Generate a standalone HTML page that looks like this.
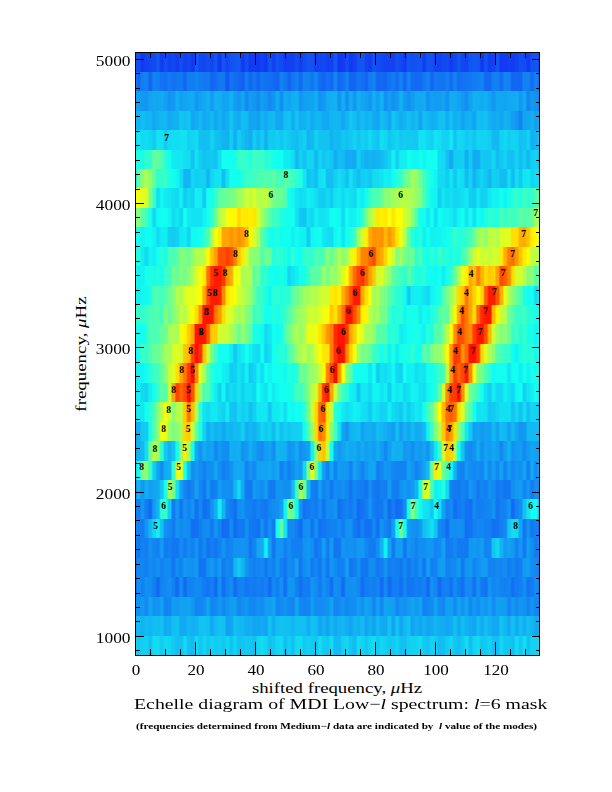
<!DOCTYPE html>
<html><head><meta charset="utf-8"><style>
html,body{margin:0;padding:0;background:#fff;}
body{width:612px;height:792px;position:relative;overflow:hidden;font-family:"Liberation Serif",serif;color:#000;}
#plot{position:absolute;left:135.75px;top:52.30px;width:404.25px;height:602.70px;overflow:hidden;background:#20b8ff;}
#hm{position:absolute;left:0;top:0;width:100%;height:100%;filter:blur(0.5px);}
.r{position:absolute;left:0;width:100%;}
.lb{position:absolute;font-family:"Liberation Serif",serif;font-weight:bold;font-size:9.5px;line-height:11px;color:#000;}
#frame{position:absolute;left:135px;top:52px;width:405px;height:604px;border:1px solid #000;box-sizing:border-box;}
.tk{position:absolute;background:#000;}
.yl{position:absolute;left:0px;width:130.5px;text-align:right;font-size:14.6px;line-height:16px;transform:scaleX(1.19);transform-origin:130.5px 0;}
.xl{position:absolute;top:663px;width:60px;text-align:center;font-size:14px;line-height:16px;transform:scaleX(1.22);}
#ylab{position:absolute;left:82px;top:353.8px;transform:translate(-50%,-50%) rotate(-90deg) scaleX(1.35);white-space:nowrap;font-size:14px;line-height:16px;}
#xlab{position:absolute;left:337.3px;top:680.5px;transform:translateX(-50%) scaleX(1.34);white-space:nowrap;font-size:14px;line-height:16px;}
#title{position:absolute;left:134px;top:695.8px;white-space:nowrap;font-size:15px;line-height:17px;transform:scaleX(1.32);transform-origin:0 0;}
#sub{position:absolute;left:135.7px;top:721px;white-space:nowrap;font-size:9px;line-height:11px;font-weight:bold;transform:scaleX(1.24);transform-origin:0 0;}
</style></head><body>
<div id="plot"><div id="hm">
<div class="r" style="top:0.00px;height:20.04px;background:linear-gradient(90deg,#1251f2 0.00%,#1251f2 -0.04%,#124df2 0.41%,#124df2 0.92%,#1239f2 1.36%,#1239f2 1.87%,#1242f2 2.32%,#1242f2 2.83%,#1246f2 3.27%,#1246f2 3.78%,#1249f2 4.23%,#1249f2 4.74%,#1258f2 5.18%,#1258f2 5.69%,#123bf2 6.14%,#123bf2 6.65%,#124df2 7.09%,#124df2 7.60%,#1243f2 8.05%,#1243f2 8.56%,#1247f2 9.00%,#1247f2 9.51%,#123df2 9.96%,#123df2 10.47%,#124df2 10.91%,#124df2 11.42%,#123ef2 11.87%,#123ef2 12.38%,#1246f2 12.82%,#1246f2 13.33%,#1237f2 13.78%,#1237f2 14.29%,#1258f2 14.73%,#1258f2 15.24%,#1247f2 15.69%,#1247f2 16.20%,#1246f2 16.64%,#1246f2 17.15%,#124ff2 17.60%,#124ff2 18.11%,#1244f2 18.55%,#1244f2 19.06%,#1255f2 19.51%,#1255f2 20.01%,#1237f2 20.46%,#1237f2 20.97%,#1253f2 21.41%,#1253f2 21.92%,#1246f2 22.37%,#1246f2 22.88%,#1252f2 23.32%,#1252f2 23.83%,#1257f2 24.28%,#1257f2 24.79%,#1258f2 25.23%,#1258f2 25.74%,#123cf2 26.19%,#123cf2 26.70%,#124ef2 27.14%,#124ef2 27.65%,#123af2 28.10%,#123af2 28.61%,#123cf2 29.05%,#123cf2 29.56%,#1239f2 30.01%,#1239f2 30.52%,#1241f2 30.96%,#1241f2 31.47%,#1237f2 31.92%,#1237f2 32.43%,#1254f2 32.87%,#1254f2 33.38%,#1240f2 33.83%,#1240f2 34.34%,#1251f2 34.78%,#1251f2 35.29%,#1249f2 35.74%,#1249f2 36.25%,#123df2 36.69%,#123df2 37.20%,#1240f2 37.65%,#1240f2 38.16%,#1241f2 38.60%,#1241f2 39.11%,#124df2 39.56%,#124df2 40.07%,#123ef2 40.51%,#123ef2 41.02%,#124cf2 41.47%,#124cf2 41.98%,#1255f2 42.42%,#1255f2 42.93%,#1254f2 43.38%,#1254f2 43.89%,#1240f2 44.33%,#1240f2 44.84%,#1246f2 45.29%,#1246f2 45.80%,#1247f2 46.24%,#1247f2 46.75%,#1240f2 47.20%,#1240f2 47.71%,#1241f2 48.15%,#1241f2 48.66%,#1258f2 49.11%,#1258f2 49.62%,#1236f2 50.06%,#1236f2 50.57%,#123bf2 51.02%,#123bf2 51.53%,#124df2 51.97%,#124df2 52.48%,#1239f2 52.93%,#1239f2 53.43%,#1240f2 53.88%,#1240f2 54.39%,#1252f2 54.83%,#1252f2 55.34%,#1256f2 55.79%,#1256f2 56.30%,#1243f2 56.74%,#1243f2 57.25%,#123df2 57.70%,#123df2 58.21%,#1255f2 58.65%,#1255f2 59.16%,#124cf2 59.61%,#124cf2 60.12%,#1248f2 60.56%,#1248f2 61.07%,#1242f2 61.52%,#1242f2 62.03%,#1242f2 62.47%,#1242f2 62.98%,#1240f2 63.43%,#1240f2 63.94%,#1251f2 64.38%,#1251f2 64.89%,#1247f2 65.34%,#1247f2 65.85%,#123df2 66.29%,#123df2 66.80%,#1254f2 67.25%,#1254f2 67.76%,#1250f2 68.20%,#1250f2 68.71%,#1254f2 69.16%,#1254f2 69.67%,#1256f2 70.11%,#1256f2 70.62%,#123ef2 71.07%,#123ef2 71.58%,#1255f2 72.02%,#1255f2 72.53%,#1251f2 72.98%,#1251f2 73.49%,#1244f2 73.93%,#1244f2 74.44%,#1241f2 74.89%,#1241f2 75.40%,#124af2 75.84%,#124af2 76.35%,#124bf2 76.80%,#124bf2 77.31%,#123cf2 77.75%,#123cf2 78.26%,#1247f2 78.71%,#1247f2 79.22%,#1257f2 79.66%,#1257f2 80.17%,#1246f2 80.62%,#1246f2 81.13%,#1244f2 81.57%,#1244f2 82.08%,#1256f2 82.53%,#1256f2 83.04%,#1258f2 83.48%,#1258f2 83.99%,#1257f2 84.44%,#1257f2 84.94%,#1238f2 85.39%,#1238f2 85.90%,#1254f2 86.35%,#1254f2 86.85%,#123df2 87.30%,#123df2 87.81%,#1242f2 88.25%,#1242f2 88.76%,#1255f2 89.21%,#1255f2 89.72%,#1239f2 90.16%,#1239f2 90.67%,#123bf2 91.12%,#123bf2 91.63%,#123ff2 92.07%,#123ff2 92.58%,#123df2 93.03%,#123df2 93.54%,#1242f2 93.98%,#1242f2 94.49%,#124ff2 94.94%,#124ff2 95.45%,#124cf2 95.89%,#124cf2 96.40%,#123cf2 96.85%,#123cf2 97.36%,#1251f2 97.80%,#1251f2 98.31%,#1256f2 98.76%,#1256f2 99.27%,#124bf2 99.71%,#124bf2 100.00%)"></div>
<div class="r" style="top:19.44px;height:20.04px;background:linear-gradient(90deg,#1280f2 0.00%,#1280f2 -0.04%,#1266f2 0.41%,#1266f2 0.92%,#127ef2 1.36%,#127ef2 1.87%,#1282f2 2.32%,#1282f2 2.83%,#1267f2 3.27%,#1267f2 3.78%,#1283f2 4.23%,#1283f2 4.74%,#127ff2 5.18%,#127ff2 5.69%,#1272f2 6.14%,#1272f2 6.65%,#1271f2 7.09%,#1271f2 7.60%,#127af2 8.05%,#127af2 8.56%,#1272f2 9.00%,#1272f2 9.51%,#1278f2 9.96%,#1278f2 10.47%,#1279f2 10.91%,#1279f2 11.42%,#1266f2 11.87%,#1266f2 12.38%,#127ef2 12.82%,#127ef2 13.33%,#127df2 13.78%,#127df2 14.29%,#1284f2 14.73%,#1284f2 15.24%,#127df2 15.69%,#127df2 16.20%,#1279f2 16.64%,#1279f2 17.15%,#1279f2 17.60%,#1279f2 18.11%,#1264f2 18.55%,#1264f2 19.06%,#126df2 19.51%,#126df2 20.01%,#1279f2 20.46%,#1279f2 20.97%,#1278f2 21.41%,#1278f2 21.92%,#1257f2 22.37%,#1257f2 22.88%,#1274f2 23.32%,#1274f2 23.83%,#126df2 24.28%,#126df2 24.79%,#1267f2 25.23%,#1267f2 25.74%,#1260f2 26.19%,#1260f2 26.70%,#127bf2 27.14%,#127bf2 27.65%,#1268f2 28.10%,#1268f2 28.61%,#1276f2 29.05%,#1276f2 29.56%,#1266f2 30.01%,#1266f2 30.52%,#1277f2 30.96%,#1277f2 31.47%,#1272f2 31.92%,#1272f2 32.43%,#126ff2 32.87%,#126ff2 33.38%,#126af2 33.83%,#126af2 34.34%,#1265f2 34.78%,#1265f2 35.29%,#1282f2 35.74%,#1282f2 36.25%,#1279f2 36.69%,#1279f2 37.20%,#1264f2 37.65%,#1264f2 38.16%,#1278f2 38.60%,#1278f2 39.11%,#127ff2 39.56%,#127ff2 40.07%,#126bf2 40.51%,#126bf2 41.02%,#1284f2 41.47%,#1284f2 41.98%,#1281f2 42.42%,#1281f2 42.93%,#1277f2 43.38%,#1277f2 43.89%,#1286f2 44.33%,#1286f2 44.84%,#126cf2 45.29%,#126cf2 45.80%,#1265f2 46.24%,#1265f2 46.75%,#1271f2 47.20%,#1271f2 47.71%,#126af2 48.15%,#126af2 48.66%,#1285f2 49.11%,#1285f2 49.62%,#1268f2 50.06%,#1268f2 50.57%,#1270f2 51.02%,#1270f2 51.53%,#1282f2 51.97%,#1282f2 52.48%,#1265f2 52.93%,#1265f2 53.43%,#1267f2 53.88%,#1267f2 54.39%,#1276f2 54.83%,#1276f2 55.34%,#1270f2 55.79%,#1270f2 56.30%,#1265f2 56.74%,#1265f2 57.25%,#127bf2 57.70%,#127bf2 58.21%,#1281f2 58.65%,#1281f2 59.16%,#1266f2 59.61%,#1266f2 60.12%,#1268f2 60.56%,#1268f2 61.07%,#1268f2 61.52%,#1268f2 62.03%,#1274f2 62.47%,#1274f2 62.98%,#127bf2 63.43%,#127bf2 63.94%,#126df2 64.38%,#126df2 64.89%,#1281f2 65.34%,#1281f2 65.85%,#1267f2 66.29%,#1267f2 66.80%,#1283f2 67.25%,#1283f2 67.76%,#126cf2 68.20%,#126cf2 68.71%,#1268f2 69.16%,#1268f2 69.67%,#126bf2 70.11%,#126bf2 70.62%,#1277f2 71.07%,#1277f2 71.58%,#1283f2 72.02%,#1283f2 72.53%,#1268f2 72.98%,#1268f2 73.49%,#1279f2 73.93%,#1279f2 74.44%,#1276f2 74.89%,#1276f2 75.40%,#1274f2 75.84%,#1274f2 76.35%,#127ff2 76.80%,#127ff2 77.31%,#126df2 77.75%,#126df2 78.26%,#1283f2 78.71%,#1283f2 79.22%,#126ff2 79.66%,#126ff2 80.17%,#1272f2 80.62%,#1272f2 81.13%,#1275f2 81.57%,#1275f2 82.08%,#1277f2 82.53%,#1277f2 83.04%,#127cf2 83.48%,#127cf2 83.99%,#1280f2 84.44%,#1280f2 84.94%,#1283f2 85.39%,#1283f2 85.90%,#1268f2 86.35%,#1268f2 86.85%,#126af2 87.30%,#126af2 87.81%,#127ff2 88.25%,#127ff2 88.76%,#127ff2 89.21%,#127ff2 89.72%,#126df2 90.16%,#126df2 90.67%,#1283f2 91.12%,#1283f2 91.63%,#1282f2 92.07%,#1282f2 92.58%,#1266f2 93.03%,#1266f2 93.54%,#1268f2 93.98%,#1268f2 94.49%,#1267f2 94.94%,#1267f2 95.45%,#1282f2 95.89%,#1282f2 96.40%,#1282f2 96.85%,#1282f2 97.36%,#126df2 97.80%,#126df2 98.31%,#1283f2 98.76%,#1283f2 99.27%,#126bf2 99.71%,#126bf2 100.00%)"></div>
<div class="r" style="top:38.88px;height:20.04px;background:linear-gradient(90deg,#12a4f2 0.00%,#12a4f2 -0.04%,#12a0f2 0.41%,#12a0f2 0.92%,#129af2 1.36%,#129af2 1.87%,#1296f2 2.32%,#1296f2 2.83%,#12a3f2 3.27%,#12a3f2 3.78%,#12a8f2 4.23%,#12a8f2 4.74%,#12a7f2 5.18%,#12a7f2 5.69%,#12aaf2 6.14%,#12aaf2 6.65%,#12a1f2 7.09%,#12a1f2 7.60%,#1294f2 8.05%,#1294f2 8.56%,#129af2 9.00%,#129af2 9.51%,#12adf2 9.96%,#12adf2 10.47%,#12a0f2 10.91%,#12a0f2 11.42%,#12a5f2 11.87%,#12a5f2 12.38%,#12a9f2 12.82%,#12a9f2 13.33%,#12acf2 13.78%,#12acf2 14.29%,#1297f2 14.73%,#1297f2 15.24%,#12a2f2 15.69%,#12a2f2 16.20%,#12a8f2 16.64%,#12a8f2 17.15%,#12b2f2 17.60%,#12b2f2 18.11%,#129cf2 18.55%,#129cf2 19.06%,#12b1f2 19.51%,#12b1f2 20.01%,#12aff2 20.46%,#12aff2 20.97%,#12a4f2 21.41%,#12a4f2 21.92%,#12a6f2 22.37%,#12a6f2 22.88%,#12b2f2 23.32%,#12b2f2 23.83%,#129ef2 24.28%,#129ef2 24.79%,#1296f2 25.23%,#1296f2 25.74%,#12a5f2 26.19%,#12a5f2 26.70%,#128af2 27.14%,#128af2 27.65%,#129df2 28.10%,#129df2 28.61%,#1298f2 29.05%,#1298f2 29.56%,#128cf2 30.01%,#128cf2 30.52%,#129ff2 30.96%,#129ff2 31.47%,#1297f2 31.92%,#1297f2 32.43%,#1289f2 32.87%,#1289f2 33.38%,#1295f2 33.83%,#1295f2 34.34%,#12aaf2 34.78%,#12aaf2 35.29%,#128ff2 35.74%,#128ff2 36.25%,#12abf2 36.69%,#12abf2 37.20%,#12a4f2 37.65%,#12a4f2 38.16%,#12adf2 38.60%,#12adf2 39.11%,#12b2f2 39.56%,#12b2f2 40.07%,#1295f2 40.51%,#1295f2 41.02%,#12a0f2 41.47%,#12a0f2 41.98%,#12a2f2 42.42%,#12a2f2 42.93%,#12a2f2 43.38%,#12a2f2 43.89%,#12aef2 44.33%,#12aef2 44.84%,#1293f2 45.29%,#1293f2 45.80%,#1297f2 46.24%,#1297f2 46.75%,#12abf2 47.20%,#12abf2 47.71%,#12adf2 48.15%,#12adf2 48.66%,#12b2f2 49.11%,#12b2f2 49.62%,#1294f2 50.06%,#1294f2 50.57%,#12adf2 51.02%,#12adf2 51.53%,#1291f2 51.97%,#1291f2 52.48%,#12acf2 52.93%,#12acf2 53.43%,#1298f2 53.88%,#1298f2 54.39%,#12b0f2 54.83%,#12b0f2 55.34%,#12a6f2 55.79%,#12a6f2 56.30%,#12a1f2 56.74%,#12a1f2 57.25%,#1296f2 57.70%,#1296f2 58.21%,#12aff2 58.65%,#12aff2 59.16%,#129ef2 59.61%,#129ef2 60.12%,#12b1f2 60.56%,#12b1f2 61.07%,#1291f2 61.52%,#1291f2 62.03%,#129ff2 62.47%,#129ff2 62.98%,#1291f2 63.43%,#1291f2 63.94%,#1299f2 64.38%,#1299f2 64.89%,#12b1f2 65.34%,#12b1f2 65.85%,#129bf2 66.29%,#129bf2 66.80%,#1291f2 67.25%,#1291f2 67.76%,#129cf2 68.20%,#129cf2 68.71%,#12a8f2 69.16%,#12a8f2 69.67%,#12a8f2 70.11%,#12a8f2 70.62%,#12abf2 71.07%,#12abf2 71.58%,#1293f2 72.02%,#1293f2 72.53%,#12a0f2 72.98%,#12a0f2 73.49%,#129df2 73.93%,#129df2 74.44%,#129df2 74.89%,#129df2 75.40%,#12a3f2 75.84%,#12a3f2 76.35%,#1292f2 76.80%,#1292f2 77.31%,#12acf2 77.75%,#12acf2 78.26%,#12abf2 78.71%,#12abf2 79.22%,#12a3f2 79.66%,#12a3f2 80.17%,#1299f2 80.62%,#1299f2 81.13%,#128ff2 81.57%,#128ff2 82.08%,#12a2f2 82.53%,#12a2f2 83.04%,#12aff2 83.48%,#12aff2 83.99%,#12aff2 84.44%,#12aff2 84.94%,#12abf2 85.39%,#12abf2 85.90%,#12aff2 86.35%,#12aff2 86.85%,#12a6f2 87.30%,#12a6f2 87.81%,#1298f2 88.25%,#1298f2 88.76%,#12a7f2 89.21%,#12a7f2 89.72%,#12a7f2 90.16%,#12a7f2 90.67%,#12a4f2 91.12%,#12a4f2 91.63%,#12a9f2 92.07%,#12a9f2 92.58%,#12aaf2 93.03%,#12aaf2 93.54%,#12adf2 93.98%,#12adf2 94.49%,#129af2 94.94%,#129af2 95.45%,#12a8f2 95.89%,#12a8f2 96.40%,#1287f2 96.85%,#1287f2 97.36%,#1299f2 97.80%,#1299f2 98.31%,#1293f2 98.76%,#1293f2 99.27%,#1283f2 99.71%,#1283f2 100.00%)"></div>
<div class="r" style="top:58.33px;height:20.04px;background:linear-gradient(90deg,#12b8f2 0.00%,#12b8f2 -0.04%,#12b3f2 0.41%,#12b3f2 0.92%,#12bff2 1.36%,#12bff2 1.87%,#12b6f2 2.32%,#12b6f2 2.83%,#12b6f2 3.27%,#12b6f2 3.78%,#12a7f2 4.23%,#12a7f2 4.74%,#12b2f2 5.18%,#12b2f2 5.69%,#12b7f2 6.14%,#12b7f2 6.65%,#12b6f2 7.09%,#12b6f2 7.60%,#12a9f2 8.05%,#12a9f2 8.56%,#12b0f2 9.00%,#12b0f2 9.51%,#12b2f2 9.96%,#12b2f2 10.47%,#12c6f2 10.91%,#12c6f2 11.42%,#12bff2 11.87%,#12bff2 12.38%,#12c5f2 12.82%,#12c5f2 13.33%,#12a7f2 13.78%,#12a7f2 14.29%,#12aef2 14.73%,#12aef2 15.24%,#12b9f2 15.69%,#12b9f2 16.20%,#12a8f2 16.64%,#12a8f2 17.15%,#12aef2 17.60%,#12aef2 18.11%,#12baf2 18.55%,#12baf2 19.06%,#12a6f2 19.51%,#12a6f2 20.01%,#12b4f2 20.46%,#12b4f2 20.97%,#12a7f2 21.41%,#12a7f2 21.92%,#12aff2 22.37%,#12aff2 22.88%,#12c5f2 23.32%,#12c5f2 23.83%,#12b1f2 24.28%,#12b1f2 24.79%,#12aaf2 25.23%,#12aaf2 25.74%,#12bef2 26.19%,#12bef2 26.70%,#12baf2 27.14%,#12baf2 27.65%,#12a3f2 28.10%,#12a3f2 28.61%,#12a6f2 29.05%,#12a6f2 29.56%,#129ff2 30.01%,#129ff2 30.52%,#12b5f2 30.96%,#12b5f2 31.47%,#12abf2 31.92%,#12abf2 32.43%,#12b8f2 32.87%,#12b8f2 33.38%,#12b9f2 33.83%,#12b9f2 34.34%,#12a5f2 34.78%,#12a5f2 35.29%,#12a7f2 35.74%,#12a7f2 36.25%,#12bef2 36.69%,#12bef2 37.20%,#12c4f2 37.65%,#12c4f2 38.16%,#12acf2 38.60%,#12acf2 39.11%,#12c4f2 39.56%,#12c4f2 40.07%,#12adf2 40.51%,#12adf2 41.02%,#12b2f2 41.47%,#12b2f2 41.98%,#12bcf2 42.42%,#12bcf2 42.93%,#12abf2 43.38%,#12abf2 43.89%,#12b7f2 44.33%,#12b7f2 44.84%,#12b5f2 45.29%,#12b5f2 45.80%,#12a9f2 46.24%,#12a9f2 46.75%,#12a7f2 47.20%,#12a7f2 47.71%,#12b4f2 48.15%,#12b4f2 48.66%,#12b7f2 49.11%,#12b7f2 49.62%,#12b7f2 50.06%,#12b7f2 50.57%,#12a7f2 51.02%,#12a7f2 51.53%,#12b4f2 51.97%,#12b4f2 52.48%,#12c7f2 52.93%,#12c7f2 53.43%,#12bdf2 53.88%,#12bdf2 54.39%,#12b0f2 54.83%,#12b0f2 55.34%,#12bdf2 55.79%,#12bdf2 56.30%,#12b2f2 56.74%,#12b2f2 57.25%,#12b8f2 57.70%,#12b8f2 58.21%,#12a9f2 58.65%,#12a9f2 59.16%,#12a4f2 59.61%,#12a4f2 60.12%,#12bdf2 60.56%,#12bdf2 61.07%,#12b4f2 61.52%,#12b4f2 62.03%,#12a6f2 62.47%,#12a6f2 62.98%,#12c6f2 63.43%,#12c6f2 63.94%,#12b9f2 64.38%,#12b9f2 64.89%,#12acf2 65.34%,#12acf2 65.85%,#12b5f2 66.29%,#12b5f2 66.80%,#12bff2 67.25%,#12bff2 67.76%,#12b4f2 68.20%,#12b4f2 68.71%,#12bcf2 69.16%,#12bcf2 69.67%,#12a3f2 70.11%,#12a3f2 70.62%,#12bff2 71.07%,#12bff2 71.58%,#12b7f2 72.02%,#12b7f2 72.53%,#12aff2 72.98%,#12aff2 73.49%,#12b1f2 73.93%,#12b1f2 74.44%,#12c1f2 74.89%,#12c1f2 75.40%,#12c3f2 75.84%,#12c3f2 76.35%,#12adf2 76.80%,#12adf2 77.31%,#12bff2 77.75%,#12bff2 78.26%,#12aef2 78.71%,#12aef2 79.22%,#12b5f2 79.66%,#12b5f2 80.17%,#12a4f2 80.62%,#12a4f2 81.13%,#12aff2 81.57%,#12aff2 82.08%,#12b3f2 82.53%,#12b3f2 83.04%,#12a4f2 83.48%,#12a4f2 83.99%,#12c1f2 84.44%,#12c1f2 84.94%,#12bcf2 85.39%,#12bcf2 85.90%,#12c1f2 86.35%,#12c1f2 86.85%,#12b3f2 87.30%,#12b3f2 87.81%,#12a8f2 88.25%,#12a8f2 88.76%,#12aef2 89.21%,#12aef2 89.72%,#12a3f2 90.16%,#12a3f2 90.67%,#12b2f2 91.12%,#12b2f2 91.63%,#12aff2 92.07%,#12aff2 92.58%,#129ef2 93.03%,#129ef2 93.54%,#1296f2 93.98%,#1296f2 94.49%,#1284f2 94.94%,#1284f2 95.45%,#12a4f2 95.89%,#12a4f2 96.40%,#12a6f2 96.85%,#12a6f2 97.36%,#12b2f2 97.80%,#12b2f2 98.31%,#12a2f2 98.76%,#12a2f2 99.27%,#12aaf2 99.71%,#12aaf2 100.00%)"></div>
<div class="r" style="top:77.77px;height:20.04px;background:linear-gradient(90deg,#12d3f2 0.00%,#12d3f2 -0.04%,#12e7f2 0.41%,#12e7f2 0.92%,#12daf2 1.36%,#12daf2 1.87%,#12ddf2 2.32%,#12ddf2 2.83%,#12d7f2 3.27%,#12d7f2 3.78%,#12cbf2 4.23%,#12cbf2 4.74%,#12e2f2 5.18%,#12e2f2 5.69%,#12e2f2 6.14%,#12e2f2 6.65%,#12ccf2 7.09%,#12ccf2 7.60%,#12dbf2 8.05%,#12dbf2 8.56%,#12ddf2 9.00%,#12ddf2 9.51%,#12def2 9.96%,#12def2 10.47%,#12e1f2 10.91%,#12e1f2 11.42%,#12e2f2 11.87%,#12e2f2 12.38%,#12d2f2 12.82%,#12d2f2 13.33%,#12d5f2 13.78%,#12d5f2 14.29%,#12daf2 14.73%,#12daf2 15.24%,#12c3f2 15.69%,#12c3f2 16.20%,#12bdf2 16.64%,#12bdf2 17.15%,#12bff2 17.60%,#12bff2 18.11%,#12d4f2 18.55%,#12d4f2 19.06%,#12c0f2 19.51%,#12c0f2 20.01%,#12bdf2 20.46%,#12bdf2 20.97%,#12b4f2 21.41%,#12b4f2 21.92%,#12b1f2 22.37%,#12b1f2 22.88%,#12cdf2 23.32%,#12cdf2 23.83%,#12adf2 24.28%,#12adf2 24.79%,#12cdf2 25.23%,#12cdf2 25.74%,#12bff2 26.19%,#12bff2 26.70%,#12b4f2 27.14%,#12b4f2 27.65%,#12acf2 28.10%,#12acf2 28.61%,#12caf2 29.05%,#12caf2 29.56%,#12b9f2 30.01%,#12b9f2 30.52%,#12cdf2 30.96%,#12cdf2 31.47%,#12b0f2 31.92%,#12b0f2 32.43%,#12ccf2 32.87%,#12ccf2 33.38%,#12c9f2 33.83%,#12c9f2 34.34%,#12d0f2 34.78%,#12d0f2 35.29%,#12c7f2 35.74%,#12c7f2 36.25%,#12d1f2 36.69%,#12d1f2 37.20%,#12c9f2 37.65%,#12c9f2 38.16%,#12c2f2 38.60%,#12c2f2 39.11%,#12bdf2 39.56%,#12bdf2 40.07%,#12c8f2 40.51%,#12c8f2 41.02%,#12d0f2 41.47%,#12d0f2 41.98%,#12b5f2 42.42%,#12b5f2 42.93%,#12b9f2 43.38%,#12b9f2 43.89%,#12d2f2 44.33%,#12d2f2 44.84%,#12c3f2 45.29%,#12c3f2 45.80%,#12c3f2 46.24%,#12c3f2 46.75%,#12c3f2 47.20%,#12c3f2 47.71%,#12b2f2 48.15%,#12b2f2 48.66%,#12bbf2 49.11%,#12bbf2 49.62%,#12baf2 50.06%,#12baf2 50.57%,#12c7f2 51.02%,#12c7f2 51.53%,#12c0f2 51.97%,#12c0f2 52.48%,#12c8f2 52.93%,#12c8f2 53.43%,#12d2f2 53.88%,#12d2f2 54.39%,#12c5f2 54.83%,#12c5f2 55.34%,#12d1f2 55.79%,#12d1f2 56.30%,#12cbf2 56.74%,#12cbf2 57.25%,#12daf2 57.70%,#12daf2 58.21%,#12cbf2 58.65%,#12cbf2 59.16%,#12c4f2 59.61%,#12c4f2 60.12%,#12def2 60.56%,#12def2 61.07%,#12d9f2 61.52%,#12d9f2 62.03%,#12c6f2 62.47%,#12c6f2 62.98%,#12cff2 63.43%,#12cff2 63.94%,#12d5f2 64.38%,#12d5f2 64.89%,#12c7f2 65.34%,#12c7f2 65.85%,#12ccf2 66.29%,#12ccf2 66.80%,#12c9f2 67.25%,#12c9f2 67.76%,#12c9f2 68.20%,#12c9f2 68.71%,#12c8f2 69.16%,#12c8f2 69.67%,#12e3f2 70.11%,#12e3f2 70.62%,#12e2f2 71.07%,#12e2f2 71.58%,#12d6f2 72.02%,#12d6f2 72.53%,#12d1f2 72.98%,#12d1f2 73.49%,#12e4f2 73.93%,#12e4f2 74.44%,#12e0f2 74.89%,#12e0f2 75.40%,#12d4f2 75.84%,#12d4f2 76.35%,#12d1f2 76.80%,#12d1f2 77.31%,#12e7f2 77.75%,#12e7f2 78.26%,#12c4f2 78.71%,#12c4f2 79.22%,#12daf2 79.66%,#12daf2 80.17%,#12d5f2 80.62%,#12d5f2 81.13%,#12caf2 81.57%,#12caf2 82.08%,#12d1f2 82.53%,#12d1f2 83.04%,#12c5f2 83.48%,#12c5f2 83.99%,#12d5f2 84.44%,#12d5f2 84.94%,#12d3f2 85.39%,#12d3f2 85.90%,#12d3f2 86.35%,#12d3f2 86.85%,#12cff2 87.30%,#12cff2 87.81%,#12baf2 88.25%,#12baf2 88.76%,#12b8f2 89.21%,#12b8f2 89.72%,#12d0f2 90.16%,#12d0f2 90.67%,#12d8f2 91.12%,#12d8f2 91.63%,#12ccf2 92.07%,#12ccf2 92.58%,#12d4f2 93.03%,#12d4f2 93.54%,#12d1f2 93.98%,#12d1f2 94.49%,#12c0f2 94.94%,#12c0f2 95.45%,#12c4f2 95.89%,#12c4f2 96.40%,#12d0f2 96.85%,#12d0f2 97.36%,#12aff2 97.80%,#12aff2 98.31%,#12b4f2 98.76%,#12b4f2 99.27%,#12c8f2 99.71%,#12c8f2 100.00%)"></div>
<div class="r" style="top:97.21px;height:20.04px;background:linear-gradient(90deg,#12fff2 0.00%,#12fff2 -0.04%,#1fffe0 0.41%,#1fffe0 0.92%,#19ffe6 1.36%,#19ffe6 1.87%,#32ffcd 2.32%,#32ffcd 2.83%,#2fffd0 3.27%,#2fffd0 3.78%,#61ff9e 4.23%,#61ff9e 4.74%,#5fffa0 5.18%,#5fffa0 5.69%,#4dffb2 6.14%,#4dffb2 6.65%,#29ffd6 7.09%,#29ffd6 7.60%,#12ffef 8.05%,#12ffef 8.56%,#12e8f2 9.00%,#12e8f2 9.51%,#12e8f2 9.96%,#12e8f2 10.47%,#12e7f2 10.91%,#12e7f2 11.42%,#12e0f2 11.87%,#12e0f2 12.38%,#12dbf2 12.82%,#12dbf2 13.33%,#12c3f2 13.78%,#12c3f2 14.29%,#12e2f2 14.73%,#12e2f2 15.24%,#12cef2 15.69%,#12cef2 16.20%,#12c2f2 16.64%,#12c2f2 17.15%,#12c7f2 17.60%,#12c7f2 18.11%,#12c9f2 18.55%,#12c9f2 19.06%,#12c3f2 19.51%,#12c3f2 20.01%,#12e0f2 20.46%,#12e0f2 20.97%,#12fff2 21.41%,#12fff2 21.92%,#12fff2 22.37%,#12fff2 22.88%,#12fff2 23.32%,#12fff2 23.83%,#15ffea 24.28%,#15ffea 24.79%,#38ffc7 25.23%,#38ffc7 25.74%,#37ffc8 26.19%,#37ffc8 26.70%,#30ffcf 27.14%,#30ffcf 27.65%,#24ffdb 28.10%,#24ffdb 28.61%,#41ffbe 29.05%,#41ffbe 29.56%,#35ffca 30.01%,#35ffca 30.52%,#3dffc2 30.96%,#3dffc2 31.47%,#24ffdb 31.92%,#24ffdb 32.43%,#2bffd4 32.87%,#2bffd4 33.38%,#15ffea 33.83%,#15ffea 34.34%,#12fef2 34.78%,#12fef2 35.29%,#12fff2 35.74%,#12fff2 36.25%,#12eaf2 36.69%,#12eaf2 37.20%,#12ebf2 37.65%,#12ebf2 38.16%,#12def2 38.60%,#12def2 39.11%,#12b9f2 39.56%,#12b9f2 40.07%,#12d1f2 40.51%,#12d1f2 41.02%,#12c2f2 41.47%,#12c2f2 41.98%,#12d6f2 42.42%,#12d6f2 42.93%,#12d5f2 43.38%,#12d5f2 43.89%,#12b8f2 44.33%,#12b8f2 44.84%,#12d7f2 45.29%,#12d7f2 45.80%,#12c4f2 46.24%,#12c4f2 46.75%,#12cff2 47.20%,#12cff2 47.71%,#12c5f2 48.15%,#12c5f2 48.66%,#12aef2 49.11%,#12aef2 49.62%,#12bef2 50.06%,#12bef2 50.57%,#12bbf2 51.02%,#12bbf2 51.53%,#12a9f2 51.97%,#12a9f2 52.48%,#12acf2 52.93%,#12acf2 53.43%,#12aaf2 53.88%,#12aaf2 54.39%,#12cef2 54.83%,#12cef2 55.34%,#12bcf2 55.79%,#12bcf2 56.30%,#12aff2 56.74%,#12aff2 57.25%,#12b6f2 57.70%,#12b6f2 58.21%,#12b1f2 58.65%,#12b1f2 59.16%,#12b4f2 59.61%,#12b4f2 60.12%,#12bbf2 60.56%,#12bbf2 61.07%,#12c8f2 61.52%,#12c8f2 62.03%,#12d3f2 62.47%,#12d3f2 62.98%,#12f1f2 63.43%,#12f1f2 63.94%,#12d2f2 64.38%,#12d2f2 64.89%,#12edf2 65.34%,#12edf2 65.85%,#12eef2 66.29%,#12eef2 66.80%,#12fff0 67.25%,#12fff0 67.76%,#12f7f2 68.20%,#12f7f2 68.71%,#12f3f2 69.16%,#12f3f2 69.67%,#12ffee 70.11%,#12ffee 70.62%,#12f5f2 71.07%,#12f5f2 71.58%,#12fff2 72.02%,#12fff2 72.53%,#12fff2 72.98%,#12fff2 73.49%,#12fff2 73.93%,#12fff2 74.44%,#12ddf2 74.89%,#12ddf2 75.40%,#12daf2 75.84%,#12daf2 76.35%,#12c1f2 76.80%,#12c1f2 77.31%,#12a9f2 77.75%,#12a9f2 78.26%,#12ccf2 78.71%,#12ccf2 79.22%,#12cff2 79.66%,#12cff2 80.17%,#12d0f2 80.62%,#12d0f2 81.13%,#12aef2 81.57%,#12aef2 82.08%,#12cbf2 82.53%,#12cbf2 83.04%,#12abf2 83.48%,#12abf2 83.99%,#12acf2 84.44%,#12acf2 84.94%,#12caf2 85.39%,#12caf2 85.90%,#12c7f2 86.35%,#12c7f2 86.85%,#12c5f2 87.30%,#12c5f2 87.81%,#12d6f2 88.25%,#12d6f2 88.76%,#12bdf2 89.21%,#12bdf2 89.72%,#12c8f2 90.16%,#12c8f2 90.67%,#12d1f2 91.12%,#12d1f2 91.63%,#12c2f2 92.07%,#12c2f2 92.58%,#12c1f2 93.03%,#12c1f2 93.54%,#12d4f2 93.98%,#12d4f2 94.49%,#12bdf2 94.94%,#12bdf2 95.45%,#12cdf2 95.89%,#12cdf2 96.40%,#12b8f2 96.85%,#12b8f2 97.36%,#12cff2 97.80%,#12cff2 98.31%,#12d4f2 98.76%,#12d4f2 99.27%,#12bff2 99.71%,#12bff2 100.00%)"></div>
<div class="r" style="top:116.65px;height:20.04px;background:linear-gradient(90deg,#12e9f2 0.00%,#12e9f2 -0.04%,#63ff9c 0.41%,#63ff9c 0.92%,#8fff70 1.36%,#8fff70 1.87%,#b1ff4e 2.32%,#b1ff4e 2.83%,#90ff6f 3.27%,#90ff6f 3.78%,#62ff9d 4.23%,#62ff9d 4.74%,#30ffcf 5.18%,#30ffcf 5.69%,#33ffcc 6.14%,#33ffcc 6.65%,#37ffc8 7.09%,#37ffc8 7.60%,#1dffe2 8.05%,#1dffe2 8.56%,#12fff0 9.00%,#12fff0 9.51%,#12f6f2 9.96%,#12f6f2 10.47%,#12def2 10.91%,#12def2 11.42%,#12b6f2 11.87%,#12b6f2 12.38%,#12b6f2 12.82%,#12b6f2 13.33%,#12d7f2 13.78%,#12d7f2 14.29%,#12cef2 14.73%,#12cef2 15.24%,#12d1f2 15.69%,#12d1f2 16.20%,#12d1f2 16.64%,#12d1f2 17.15%,#12b5f2 17.60%,#12b5f2 18.11%,#12d7f2 18.55%,#12d7f2 19.06%,#12e2f2 19.51%,#12e2f2 20.01%,#12e4f2 20.46%,#12e4f2 20.97%,#12bff2 21.41%,#12bff2 21.92%,#12e1f2 22.37%,#12e1f2 22.88%,#12fff2 23.32%,#12fff2 23.83%,#12ffed 24.28%,#12ffed 24.79%,#13ffec 25.23%,#13ffec 25.74%,#26ffd9 26.19%,#26ffd9 26.70%,#35ffca 27.14%,#35ffca 27.65%,#3effc1 28.10%,#3effc1 28.61%,#3cffc3 29.05%,#3cffc3 29.56%,#49ffb6 30.01%,#49ffb6 30.52%,#4cffb3 30.96%,#4cffb3 31.47%,#53ffac 31.92%,#53ffac 32.43%,#4bffb4 32.87%,#4bffb4 33.38%,#5dffa2 33.83%,#5dffa2 34.34%,#49ffb6 34.78%,#49ffb6 35.29%,#44ffbb 35.74%,#44ffbb 36.25%,#56ffa9 36.69%,#56ffa9 37.20%,#4cffb3 37.65%,#4cffb3 38.16%,#3effc1 38.60%,#3effc1 39.11%,#2cffd3 39.56%,#2cffd3 40.07%,#22ffdd 40.51%,#22ffdd 41.02%,#12e8f2 41.47%,#12e8f2 41.98%,#12c3f2 42.42%,#12c3f2 42.93%,#12cbf2 43.38%,#12cbf2 43.89%,#12bff2 44.33%,#12bff2 44.84%,#12e0f2 45.29%,#12e0f2 45.80%,#12e5f2 46.24%,#12e5f2 46.75%,#12bff2 47.20%,#12bff2 47.71%,#12bef2 48.15%,#12bef2 48.66%,#12d0f2 49.11%,#12d0f2 49.62%,#12dcf2 50.06%,#12dcf2 50.57%,#12d4f2 51.02%,#12d4f2 51.53%,#12c2f2 51.97%,#12c2f2 52.48%,#12e3f2 52.93%,#12e3f2 53.43%,#12ccf2 53.88%,#12ccf2 54.39%,#12bdf2 54.83%,#12bdf2 55.34%,#12cff2 55.79%,#12cff2 56.30%,#12d1f2 56.74%,#12d1f2 57.25%,#12c7f2 57.70%,#12c7f2 58.21%,#12dbf2 58.65%,#12dbf2 59.16%,#12dcf2 59.61%,#12dcf2 60.12%,#12e5f2 60.56%,#12e5f2 61.07%,#12f0f2 61.52%,#12f0f2 62.03%,#12ecf2 62.47%,#12ecf2 62.98%,#12fcf2 63.43%,#12fcf2 63.94%,#24ffdb 64.38%,#24ffdb 64.89%,#32ffcd 65.34%,#32ffcd 65.85%,#66ff99 66.29%,#66ff99 66.80%,#75ff8a 67.25%,#75ff8a 67.76%,#a5ff5a 68.20%,#a5ff5a 68.71%,#94ff6b 69.16%,#94ff6b 69.67%,#70ff8f 70.11%,#70ff8f 70.62%,#42ffbd 71.07%,#42ffbd 71.58%,#29ffd6 72.02%,#29ffd6 72.53%,#12ffef 72.98%,#12ffef 73.49%,#12f4f2 73.93%,#12f4f2 74.44%,#12daf2 74.89%,#12daf2 75.40%,#12daf2 75.84%,#12daf2 76.35%,#12cdf2 76.80%,#12cdf2 77.31%,#12e4f2 77.75%,#12e4f2 78.26%,#12c7f2 78.71%,#12c7f2 79.22%,#12e3f2 79.66%,#12e3f2 80.17%,#12daf2 80.62%,#12daf2 81.13%,#12bdf2 81.57%,#12bdf2 82.08%,#12d3f2 82.53%,#12d3f2 83.04%,#12b3f2 83.48%,#12b3f2 83.99%,#12c8f2 84.44%,#12c8f2 84.94%,#12d3f2 85.39%,#12d3f2 85.90%,#12c8f2 86.35%,#12c8f2 86.85%,#12b7f2 87.30%,#12b7f2 87.81%,#12d0f2 88.25%,#12d0f2 88.76%,#12cdf2 89.21%,#12cdf2 89.72%,#12bdf2 90.16%,#12bdf2 90.67%,#12bbf2 91.12%,#12bbf2 91.63%,#12ddf2 92.07%,#12ddf2 92.58%,#12bcf2 93.03%,#12bcf2 93.54%,#12def2 93.98%,#12def2 94.49%,#12c9f2 94.94%,#12c9f2 95.45%,#12e6f2 95.89%,#12e6f2 96.40%,#12e8f2 96.85%,#12e8f2 97.36%,#12d5f2 97.80%,#12d5f2 98.31%,#12dcf2 98.76%,#12dcf2 99.27%,#12d8f2 99.71%,#12d8f2 100.00%)"></div>
<div class="r" style="top:136.09px;height:20.04px;background:linear-gradient(90deg,#ffff00 0.00%,#ffff00 -0.04%,#f3ff0c 0.41%,#f3ff0c 0.92%,#dfff20 1.36%,#dfff20 1.87%,#deff21 2.32%,#deff21 2.83%,#79ff86 3.27%,#79ff86 3.78%,#36ffc9 4.23%,#36ffc9 4.74%,#12def2 5.18%,#12def2 5.69%,#12f9f2 6.14%,#12f9f2 6.65%,#12eaf2 7.09%,#12eaf2 7.60%,#12e6f2 8.05%,#12e6f2 8.56%,#12e0f2 9.00%,#12e0f2 9.51%,#12d8f2 9.96%,#12d8f2 10.47%,#12f2f2 10.91%,#12f2f2 11.42%,#12cbf2 11.87%,#12cbf2 12.38%,#12dcf2 12.82%,#12dcf2 13.33%,#12d1f2 13.78%,#12d1f2 14.29%,#12f0f2 14.73%,#12f0f2 15.24%,#12eef2 15.69%,#12eef2 16.20%,#12cbf2 16.64%,#12cbf2 17.15%,#12fff2 17.60%,#12fff2 18.11%,#12ffed 18.55%,#12ffed 19.06%,#39ffc6 19.51%,#39ffc6 20.01%,#57ffa8 20.46%,#57ffa8 20.97%,#66ff99 21.41%,#66ff99 21.92%,#6bff94 22.37%,#6bff94 22.88%,#78ff87 23.32%,#78ff87 23.83%,#7fff80 24.28%,#7fff80 24.79%,#a6ff59 25.23%,#a6ff59 25.74%,#a1ff5e 26.19%,#a1ff5e 26.70%,#d7ff28 27.14%,#d7ff28 27.65%,#bdff42 28.10%,#bdff42 28.61%,#d8ff27 29.05%,#d8ff27 29.56%,#b3ff4c 30.01%,#b3ff4c 30.52%,#b8ff47 30.96%,#b8ff47 31.47%,#c2ff3d 31.92%,#c2ff3d 32.43%,#9dff62 32.87%,#9dff62 33.38%,#7aff85 33.83%,#7aff85 34.34%,#6bff94 34.78%,#6bff94 35.29%,#6bff94 35.74%,#6bff94 36.25%,#52ffad 36.69%,#52ffad 37.20%,#15ffea 37.65%,#15ffea 38.16%,#12f7f2 38.60%,#12f7f2 39.11%,#12e6f2 39.56%,#12e6f2 40.07%,#12dcf2 40.51%,#12dcf2 41.02%,#12e1f2 41.47%,#12e1f2 41.98%,#12eef2 42.42%,#12eef2 42.93%,#12eaf2 43.38%,#12eaf2 43.89%,#12ddf2 44.33%,#12ddf2 44.84%,#12cef2 45.29%,#12cef2 45.80%,#12cdf2 46.24%,#12cdf2 46.75%,#12d8f2 47.20%,#12d8f2 47.71%,#12cbf2 48.15%,#12cbf2 48.66%,#12e2f2 49.11%,#12e2f2 49.62%,#12e7f2 50.06%,#12e7f2 50.57%,#12d8f2 51.02%,#12d8f2 51.53%,#12e8f2 51.97%,#12e8f2 52.48%,#12dff2 52.93%,#12dff2 53.43%,#12d8f2 53.88%,#12d8f2 54.39%,#12f5f2 54.83%,#12f5f2 55.34%,#12ecf2 55.79%,#12ecf2 56.30%,#12fdf2 56.74%,#12fdf2 57.25%,#34ffcb 57.70%,#34ffcb 58.21%,#4bffb4 58.65%,#4bffb4 59.16%,#49ffb6 59.61%,#49ffb6 60.12%,#65ff9a 60.56%,#65ff9a 61.07%,#89ff76 61.52%,#89ff76 62.03%,#8bff74 62.47%,#8bff74 62.98%,#a2ff5d 63.43%,#a2ff5d 63.94%,#a6ff59 64.38%,#a6ff59 64.89%,#b4ff4b 65.34%,#b4ff4b 65.85%,#baff45 66.29%,#baff45 66.80%,#afff50 67.25%,#afff50 67.76%,#a9ff56 68.20%,#a9ff56 68.71%,#95ff6a 69.16%,#95ff6a 69.67%,#87ff78 70.11%,#87ff78 70.62%,#45ffba 71.07%,#45ffba 71.58%,#22ffdd 72.02%,#22ffdd 72.53%,#12f7f2 72.98%,#12f7f2 73.49%,#12f4f2 73.93%,#12f4f2 74.44%,#12cff2 74.89%,#12cff2 75.40%,#12e5f2 75.84%,#12e5f2 76.35%,#12d9f2 76.80%,#12d9f2 77.31%,#12e0f2 77.75%,#12e0f2 78.26%,#12d7f2 78.71%,#12d7f2 79.22%,#12d9f2 79.66%,#12d9f2 80.17%,#12e1f2 80.62%,#12e1f2 81.13%,#12e7f2 81.57%,#12e7f2 82.08%,#12cef2 82.53%,#12cef2 83.04%,#12c9f2 83.48%,#12c9f2 83.99%,#12e7f2 84.44%,#12e7f2 84.94%,#12d1f2 85.39%,#12d1f2 85.90%,#12d3f2 86.35%,#12d3f2 86.85%,#12e8f2 87.30%,#12e8f2 87.81%,#12f3f2 88.25%,#12f3f2 88.76%,#12f2f2 89.21%,#12f2f2 89.72%,#12fef2 90.16%,#12fef2 90.67%,#12f5f2 91.12%,#12f5f2 91.63%,#12fff0 92.07%,#12fff0 92.58%,#26ffd9 93.03%,#26ffd9 93.54%,#31ffce 93.98%,#31ffce 94.49%,#21ffde 94.94%,#21ffde 95.45%,#3fffc0 95.89%,#3fffc0 96.40%,#2fffd0 96.85%,#2fffd0 97.36%,#35ffca 97.80%,#35ffca 98.31%,#4effb1 98.76%,#4effb1 99.27%,#67ff98 99.71%,#67ff98 100.00%)"></div>
<div class="r" style="top:155.54px;height:20.04px;background:linear-gradient(90deg,#81ff7e 0.00%,#81ff7e -0.04%,#88ff77 0.41%,#88ff77 0.92%,#56ffa9 1.36%,#56ffa9 1.87%,#42ffbd 2.32%,#42ffbd 2.83%,#15ffea 3.27%,#15ffea 3.78%,#12d8f2 4.23%,#12d8f2 4.74%,#12f8f2 5.18%,#12f8f2 5.69%,#12fff2 6.14%,#12fff2 6.65%,#12fff2 7.09%,#12fff2 7.60%,#12f4f2 8.05%,#12f4f2 8.56%,#12dcf2 9.00%,#12dcf2 9.51%,#12e8f2 9.96%,#12e8f2 10.47%,#12d6f2 10.91%,#12d6f2 11.42%,#12fff2 11.87%,#12fff2 12.38%,#12e7f2 12.82%,#12e7f2 13.33%,#12e3f2 13.78%,#12e3f2 14.29%,#12e2f2 14.73%,#12e2f2 15.24%,#12e2f2 15.69%,#12e2f2 16.20%,#12f3f2 16.64%,#12f3f2 17.15%,#12fff2 17.60%,#12fff2 18.11%,#32ffcd 18.55%,#32ffcd 19.06%,#67ff98 19.51%,#67ff98 20.01%,#b9ff46 20.46%,#b9ff46 20.97%,#c8ff37 21.41%,#c8ff37 21.92%,#f3ff0c 22.37%,#f3ff0c 22.88%,#fffa00 23.32%,#fffa00 23.83%,#fffa00 24.28%,#fffa00 24.79%,#ffd900 25.23%,#ffd900 25.74%,#ffeb00 26.19%,#ffeb00 26.70%,#ffe900 27.14%,#ffe900 27.65%,#ffee00 28.10%,#ffee00 28.61%,#ffe600 29.05%,#ffe600 29.56%,#d6ff29 30.01%,#d6ff29 30.52%,#a4ff5b 30.96%,#a4ff5b 31.47%,#78ff87 31.92%,#78ff87 32.43%,#57ffa8 32.87%,#57ffa8 33.38%,#3cffc3 33.83%,#3cffc3 34.34%,#3affc5 34.78%,#3affc5 35.29%,#21ffde 35.74%,#21ffde 36.25%,#16ffe9 36.69%,#16ffe9 37.20%,#13ffec 37.65%,#13ffec 38.16%,#12fff2 38.60%,#12fff2 39.11%,#12e2f2 39.56%,#12e2f2 40.07%,#12c9f2 40.51%,#12c9f2 41.02%,#12c6f2 41.47%,#12c6f2 41.98%,#12dff2 42.42%,#12dff2 42.93%,#12d7f2 43.38%,#12d7f2 43.89%,#12f0f2 44.33%,#12f0f2 44.84%,#12e3f2 45.29%,#12e3f2 45.80%,#12e3f2 46.24%,#12e3f2 46.75%,#12e9f2 47.20%,#12e9f2 47.71%,#12fdf2 48.15%,#12fdf2 48.66%,#12fef2 49.11%,#12fef2 49.62%,#12f8f2 50.06%,#12f8f2 50.57%,#12daf2 51.02%,#12daf2 51.53%,#12fff2 51.97%,#12fff2 52.48%,#12eff2 52.93%,#12eff2 53.43%,#12f3f2 53.88%,#12f3f2 54.39%,#12fff2 54.83%,#12fff2 55.34%,#32ffcd 55.79%,#32ffcd 56.30%,#70ff8f 56.74%,#70ff8f 57.25%,#b1ff4e 57.70%,#b1ff4e 58.21%,#d0ff2f 58.65%,#d0ff2f 59.16%,#ffe800 59.61%,#ffe800 60.12%,#fff200 60.56%,#fff200 61.07%,#ffea00 61.52%,#ffea00 62.03%,#f8ff07 62.47%,#f8ff07 62.98%,#ffe700 63.43%,#ffe700 63.94%,#ffff00 64.38%,#ffff00 64.89%,#fffe00 65.34%,#fffe00 65.85%,#d0ff2f 66.29%,#d0ff2f 66.80%,#c0ff3f 67.25%,#c0ff3f 67.76%,#8cff73 68.20%,#8cff73 68.71%,#50ffaf 69.16%,#50ffaf 69.67%,#12ffed 70.11%,#12ffed 70.62%,#12fff2 71.07%,#12fff2 71.58%,#12e7f2 72.02%,#12e7f2 72.53%,#12fff2 72.98%,#12fff2 73.49%,#12e0f2 73.93%,#12e0f2 74.44%,#12fef2 74.89%,#12fef2 75.40%,#12f3f2 75.84%,#12f3f2 76.35%,#12f4f2 76.80%,#12f4f2 77.31%,#12edf2 77.75%,#12edf2 78.26%,#12ddf2 78.71%,#12ddf2 79.22%,#12f5f2 79.66%,#12f5f2 80.17%,#12fff2 80.62%,#12fff2 81.13%,#12e5f2 81.57%,#12e5f2 82.08%,#12faf2 82.53%,#12faf2 83.04%,#12e2f2 83.48%,#12e2f2 83.99%,#12fff2 84.44%,#12fff2 84.94%,#12f7f2 85.39%,#12f7f2 85.90%,#1dffe2 86.35%,#1dffe2 86.85%,#30ffcf 87.30%,#30ffcf 87.81%,#27ffd8 88.25%,#27ffd8 88.76%,#20ffdf 89.21%,#20ffdf 89.72%,#4affb5 90.16%,#4affb5 90.67%,#35ffca 91.12%,#35ffca 91.63%,#46ffb9 92.07%,#46ffb9 92.58%,#3dffc2 93.03%,#3dffc2 93.54%,#42ffbd 93.98%,#42ffbd 94.49%,#5dffa2 94.94%,#5dffa2 95.45%,#55ffaa 95.89%,#55ffaa 96.40%,#57ffa8 96.85%,#57ffa8 97.36%,#66ff99 97.80%,#66ff99 98.31%,#a8ff57 98.76%,#a8ff57 99.27%,#a9ff56 99.71%,#a9ff56 100.00%)"></div>
<div class="r" style="top:174.98px;height:20.04px;background:linear-gradient(90deg,#13ffec 0.00%,#13ffec -0.04%,#17ffe8 0.41%,#17ffe8 0.92%,#12f3f2 1.36%,#12f3f2 1.87%,#12fcf2 2.32%,#12fcf2 2.83%,#12fff2 3.27%,#12fff2 3.78%,#12f3f2 4.23%,#12f3f2 4.74%,#12dcf2 5.18%,#12dcf2 5.69%,#12edf2 6.14%,#12edf2 6.65%,#12eef2 7.09%,#12eef2 7.60%,#12d0f2 8.05%,#12d0f2 8.56%,#12cbf2 9.00%,#12cbf2 9.51%,#12d2f2 9.96%,#12d2f2 10.47%,#12e7f2 10.91%,#12e7f2 11.42%,#12edf2 11.87%,#12edf2 12.38%,#12d5f2 12.82%,#12d5f2 13.33%,#12f9f2 13.78%,#12f9f2 14.29%,#12fbf2 14.73%,#12fbf2 15.24%,#12fff2 15.69%,#12fff2 16.20%,#2effd1 16.64%,#2effd1 17.15%,#4cffb3 17.60%,#4cffb3 18.11%,#a4ff5b 18.55%,#a4ff5b 19.06%,#feff01 19.51%,#feff01 20.01%,#ffeb00 20.46%,#ffeb00 20.97%,#ffa400 21.41%,#ffa400 21.92%,#ffa600 22.37%,#ffa600 22.88%,#ff9400 23.32%,#ff9400 23.83%,#ffa400 24.28%,#ffa400 24.79%,#ff9000 25.23%,#ff9000 25.74%,#ffa000 26.19%,#ffa000 26.70%,#ffbe00 27.14%,#ffbe00 27.65%,#fff300 28.10%,#fff300 28.61%,#d1ff2e 29.05%,#d1ff2e 29.56%,#a9ff56 30.01%,#a9ff56 30.52%,#56ffa9 30.96%,#56ffa9 31.47%,#36ffc9 31.92%,#36ffc9 32.43%,#15ffea 32.87%,#15ffea 33.38%,#12fff2 33.83%,#12fff2 34.34%,#22ffdd 34.78%,#22ffdd 35.29%,#12fbf2 35.74%,#12fbf2 36.25%,#12ffed 36.69%,#12ffed 37.20%,#12fff0 37.65%,#12fff0 38.16%,#12eff2 38.60%,#12eff2 39.11%,#12fdf2 39.56%,#12fdf2 40.07%,#12f2f2 40.51%,#12f2f2 41.02%,#12f0f2 41.47%,#12f0f2 41.98%,#12cdf2 42.42%,#12cdf2 42.93%,#12f5f2 43.38%,#12f5f2 43.89%,#12faf2 44.33%,#12faf2 44.84%,#12fef2 45.29%,#12fef2 45.80%,#12e6f2 46.24%,#12e6f2 46.75%,#12e0f2 47.20%,#12e0f2 47.71%,#12dbf2 48.15%,#12dbf2 48.66%,#12f9f2 49.11%,#12f9f2 49.62%,#12fff2 50.06%,#12fff2 50.57%,#12e5f2 51.02%,#12e5f2 51.53%,#12fff2 51.97%,#12fff2 52.48%,#1fffe0 52.93%,#1fffe0 53.43%,#3effc1 53.88%,#3effc1 54.39%,#a0ff5f 54.83%,#a0ff5f 55.34%,#d1ff2e 55.79%,#d1ff2e 56.30%,#fff000 56.74%,#fff000 57.25%,#ffa900 57.70%,#ffa900 58.21%,#ff9300 58.65%,#ff9300 59.16%,#ff9800 59.61%,#ff9800 60.12%,#ff9100 60.56%,#ff9100 61.07%,#ffb700 61.52%,#ffb700 62.03%,#ff9800 62.47%,#ff9800 62.98%,#ffb400 63.43%,#ffb400 63.94%,#ffe400 64.38%,#ffe400 64.89%,#eaff15 65.34%,#eaff15 65.85%,#b7ff48 66.29%,#b7ff48 66.80%,#56ffa9 67.25%,#56ffa9 67.76%,#29ffd6 68.20%,#29ffd6 68.71%,#12ffee 69.16%,#12ffee 69.67%,#24ffdb 70.11%,#24ffdb 70.62%,#12eff2 71.07%,#12eff2 71.58%,#12fff2 72.02%,#12fff2 72.53%,#12f0f2 72.98%,#12f0f2 73.49%,#12f2f2 73.93%,#12f2f2 74.44%,#12f4f2 74.89%,#12f4f2 75.40%,#12faf2 75.84%,#12faf2 76.35%,#13ffec 76.80%,#13ffec 77.31%,#1cffe3 77.75%,#1cffe3 78.26%,#37ffc8 78.71%,#37ffc8 79.22%,#20ffdf 79.66%,#20ffdf 80.17%,#28ffd7 80.62%,#28ffd7 81.13%,#36ffc9 81.57%,#36ffc9 82.08%,#42ffbd 82.53%,#42ffbd 83.04%,#6aff95 83.48%,#6aff95 83.99%,#97ff68 84.44%,#97ff68 84.94%,#b0ff4f 85.39%,#b0ff4f 85.90%,#8cff73 86.35%,#8cff73 86.85%,#c2ff3d 87.30%,#c2ff3d 87.81%,#bfff40 88.25%,#bfff40 88.76%,#b2ff4d 89.21%,#b2ff4d 89.72%,#d7ff28 90.16%,#d7ff28 90.67%,#e3ff1c 91.12%,#e3ff1c 91.63%,#deff21 92.07%,#deff21 92.58%,#ffde00 93.03%,#ffde00 93.54%,#ffe000 93.98%,#ffe000 94.49%,#ffb100 94.94%,#ffb100 95.45%,#ffab00 95.89%,#ffab00 96.40%,#ffc600 96.85%,#ffc600 97.36%,#ffef00 97.80%,#ffef00 98.31%,#fffb00 98.76%,#fffb00 99.27%,#e3ff1c 99.71%,#e3ff1c 100.00%)"></div>
<div class="r" style="top:194.42px;height:20.04px;background:linear-gradient(90deg,#24ffdb 0.00%,#24ffdb -0.04%,#21ffde 0.41%,#21ffde 0.92%,#12ecf2 1.36%,#12ecf2 1.87%,#12daf2 2.32%,#12daf2 2.83%,#12f5f2 3.27%,#12f5f2 3.78%,#12eff2 4.23%,#12eff2 4.74%,#12fff2 5.18%,#12fff2 5.69%,#29ffd6 6.14%,#29ffd6 6.65%,#18ffe7 7.09%,#18ffe7 7.60%,#4dffb2 8.05%,#4dffb2 8.56%,#49ffb6 9.00%,#49ffb6 9.51%,#57ffa8 9.96%,#57ffa8 10.47%,#85ff7a 10.91%,#85ff7a 11.42%,#7bff84 11.87%,#7bff84 12.38%,#6dff92 12.82%,#6dff92 13.33%,#8fff70 13.78%,#8fff70 14.29%,#b0ff4f 14.73%,#b0ff4f 15.24%,#b1ff4e 15.69%,#b1ff4e 16.20%,#bfff40 16.64%,#bfff40 17.15%,#fff900 17.60%,#fff900 18.11%,#ffc300 18.55%,#ffc300 19.06%,#ff9d00 19.51%,#ff9d00 20.01%,#ff5000 20.46%,#ff5000 20.97%,#ff5100 21.41%,#ff5100 21.92%,#ff3f00 22.37%,#ff3f00 22.88%,#ff4e00 23.32%,#ff4e00 23.83%,#ff8000 24.28%,#ff8000 24.79%,#ffc400 25.23%,#ffc400 25.74%,#ffed00 26.19%,#ffed00 26.70%,#d5ff2a 27.14%,#d5ff2a 27.65%,#93ff6c 28.10%,#93ff6c 28.61%,#88ff77 29.05%,#88ff77 29.56%,#87ff78 30.01%,#87ff78 30.52%,#4effb1 30.96%,#4effb1 31.47%,#71ff8e 31.92%,#71ff8e 32.43%,#66ff99 32.87%,#66ff99 33.38%,#20ffdf 33.83%,#20ffdf 34.34%,#31ffce 34.78%,#31ffce 35.29%,#29ffd6 35.74%,#29ffd6 36.25%,#1fffe0 36.69%,#1fffe0 37.20%,#12fbf2 37.65%,#12fbf2 38.16%,#30ffcf 38.60%,#30ffcf 39.11%,#12fff1 39.56%,#12fff1 40.07%,#12fff2 40.51%,#12fff2 41.02%,#34ffcb 41.47%,#34ffcb 41.98%,#35ffca 42.42%,#35ffca 42.93%,#2effd1 43.38%,#2effd1 43.89%,#4cffb3 44.33%,#4cffb3 44.84%,#44ffbb 45.29%,#44ffbb 45.80%,#4dffb2 46.24%,#4dffb2 46.75%,#8bff74 47.20%,#8bff74 47.71%,#64ff9b 48.15%,#64ff9b 48.66%,#87ff78 49.11%,#87ff78 49.62%,#b1ff4e 50.06%,#b1ff4e 50.57%,#87ff78 51.02%,#87ff78 51.53%,#a6ff59 51.97%,#a6ff59 52.48%,#ddff22 52.93%,#ddff22 53.43%,#fff400 53.88%,#fff400 54.39%,#ffbc00 54.83%,#ffbc00 55.34%,#ff8400 55.79%,#ff8400 56.30%,#ff8200 56.74%,#ff8200 57.25%,#ff6200 57.70%,#ff6200 58.21%,#ff4d00 58.65%,#ff4d00 59.16%,#ff9b00 59.61%,#ff9b00 60.12%,#ffa800 60.56%,#ffa800 61.07%,#ffd600 61.52%,#ffd600 62.03%,#efff10 62.47%,#efff10 62.98%,#cfff30 63.43%,#cfff30 63.94%,#81ff7e 64.38%,#81ff7e 64.89%,#a1ff5e 65.34%,#a1ff5e 65.85%,#77ff88 66.29%,#77ff88 66.80%,#65ff9a 67.25%,#65ff9a 67.76%,#73ff8c 68.20%,#73ff8c 68.71%,#30ffcf 69.16%,#30ffcf 69.67%,#4cffb3 70.11%,#4cffb3 70.62%,#1effe1 71.07%,#1effe1 71.58%,#12fff0 72.02%,#12fff0 72.53%,#32ffcd 72.98%,#32ffcd 73.49%,#12fff2 73.93%,#12fff2 74.44%,#3dffc2 74.89%,#3dffc2 75.40%,#24ffdb 75.84%,#24ffdb 76.35%,#2bffd4 76.80%,#2bffd4 77.31%,#12fff2 77.75%,#12fff2 78.26%,#26ffd9 78.71%,#26ffd9 79.22%,#1effe1 79.66%,#1effe1 80.17%,#41ffbe 80.62%,#41ffbe 81.13%,#5cffa3 81.57%,#5cffa3 82.08%,#9aff65 82.53%,#9aff65 83.04%,#c5ff3a 83.48%,#c5ff3a 83.99%,#e7ff18 84.44%,#e7ff18 84.94%,#c8ff37 85.39%,#c8ff37 85.90%,#d5ff2a 86.35%,#d5ff2a 86.85%,#c1ff3e 87.30%,#c1ff3e 87.81%,#d5ff2a 88.25%,#d5ff2a 88.76%,#cfff30 89.21%,#cfff30 89.72%,#ffec00 90.16%,#ffec00 90.67%,#ffaf00 91.12%,#ffaf00 91.63%,#ff7d00 92.07%,#ff7d00 92.58%,#ff6e00 93.03%,#ff6e00 93.54%,#ff9800 93.98%,#ff9800 94.49%,#ffc600 94.94%,#ffc600 95.45%,#ffec00 95.89%,#ffec00 96.40%,#fffd00 96.85%,#fffd00 97.36%,#b8ff47 97.80%,#b8ff47 98.31%,#c4ff3b 98.76%,#c4ff3b 99.27%,#a4ff5b 99.71%,#a4ff5b 100.00%)"></div>
<div class="r" style="top:213.86px;height:20.04px;background:linear-gradient(90deg,#12ffef 0.00%,#12ffef -0.04%,#12f1f2 0.41%,#12f1f2 0.92%,#12f3f2 1.36%,#12f3f2 1.87%,#12fff2 2.32%,#12fff2 2.83%,#23ffdc 3.27%,#23ffdc 3.78%,#15ffea 4.23%,#15ffea 4.74%,#23ffdc 5.18%,#23ffdc 5.69%,#17ffe8 6.14%,#17ffe8 6.65%,#3affc5 7.09%,#3affc5 7.60%,#3effc1 8.05%,#3effc1 8.56%,#71ff8e 9.00%,#71ff8e 9.51%,#64ff9b 9.96%,#64ff9b 10.47%,#85ff7a 10.91%,#85ff7a 11.42%,#73ff8c 11.87%,#73ff8c 12.38%,#8aff75 12.82%,#8aff75 13.33%,#acff53 13.78%,#acff53 14.29%,#d5ff2a 14.73%,#d5ff2a 15.24%,#f9ff06 15.69%,#f9ff06 16.20%,#ffea00 16.64%,#ffea00 17.15%,#ff7000 17.60%,#ff7000 18.11%,#ff3000 18.55%,#ff3000 19.06%,#ff1a00 19.51%,#ff1a00 20.01%,#ff1a00 20.46%,#ff1a00 20.97%,#ff3900 21.41%,#ff3900 21.92%,#ff9300 22.37%,#ff9300 22.88%,#ffac00 23.32%,#ffac00 23.83%,#e9ff16 24.28%,#e9ff16 24.79%,#f5ff0a 25.23%,#f5ff0a 25.74%,#a2ff5d 26.19%,#a2ff5d 26.70%,#b5ff4a 27.14%,#b5ff4a 27.65%,#a9ff56 28.10%,#a9ff56 28.61%,#5affa5 29.05%,#5affa5 29.56%,#6dff92 30.01%,#6dff92 30.52%,#2dffd2 30.96%,#2dffd2 31.47%,#31ffce 31.92%,#31ffce 32.43%,#19ffe6 32.87%,#19ffe6 33.38%,#12fff2 33.83%,#12fff2 34.34%,#12ffef 34.78%,#12ffef 35.29%,#1effe1 35.74%,#1effe1 36.25%,#12fbf2 36.69%,#12fbf2 37.20%,#12d7f2 37.65%,#12d7f2 38.16%,#12e5f2 38.60%,#12e5f2 39.11%,#12eff2 39.56%,#12eff2 40.07%,#12fff2 40.51%,#12fff2 41.02%,#18ffe7 41.47%,#18ffe7 41.98%,#33ffcc 42.42%,#33ffcc 42.93%,#5dffa2 43.38%,#5dffa2 43.89%,#57ffa8 44.33%,#57ffa8 44.84%,#5fffa0 45.29%,#5fffa0 45.80%,#9eff61 46.24%,#9eff61 46.75%,#71ff8e 47.20%,#71ff8e 47.71%,#9cff63 48.15%,#9cff63 48.66%,#91ff6e 49.11%,#91ff6e 49.62%,#b3ff4c 50.06%,#b3ff4c 50.57%,#dcff23 51.02%,#dcff23 51.53%,#fffd00 51.97%,#fffd00 52.48%,#ffa900 52.93%,#ffa900 53.43%,#ff6a00 53.88%,#ff6a00 54.39%,#ff3f00 54.83%,#ff3f00 55.34%,#ff3400 55.79%,#ff3400 56.30%,#ff6200 56.74%,#ff6200 57.25%,#ff9f00 57.70%,#ff9f00 58.21%,#ffc900 58.65%,#ffc900 59.16%,#ccff33 59.61%,#ccff33 60.12%,#e0ff1f 60.56%,#e0ff1f 61.07%,#b2ff4d 61.52%,#b2ff4d 62.03%,#94ff6b 62.47%,#94ff6b 62.98%,#5cffa3 63.43%,#5cffa3 63.94%,#4fffb0 64.38%,#4fffb0 64.89%,#41ffbe 65.34%,#41ffbe 65.85%,#2affd5 66.29%,#2affd5 66.80%,#5fffa0 67.25%,#5fffa0 67.76%,#36ffc9 68.20%,#36ffc9 68.71%,#1fffe0 69.16%,#1fffe0 69.67%,#1fffe0 70.11%,#1fffe0 70.62%,#2affd5 71.07%,#2affd5 71.58%,#12fcf2 72.02%,#12fcf2 72.53%,#12faf2 72.98%,#12faf2 73.49%,#12f8f2 73.93%,#12f8f2 74.44%,#12fff2 74.89%,#12fff2 75.40%,#12eef2 75.84%,#12eef2 76.35%,#12fff2 76.80%,#12fff2 77.31%,#35ffca 77.75%,#35ffca 78.26%,#64ff9b 78.71%,#64ff9b 79.22%,#a9ff56 79.66%,#a9ff56 80.17%,#eeff11 80.62%,#eeff11 81.13%,#ffef00 81.57%,#ffef00 82.08%,#ffa900 82.53%,#ffa900 83.04%,#ffbe00 83.48%,#ffbe00 83.99%,#ff7d00 84.44%,#ff7d00 84.94%,#ffb300 85.39%,#ffb300 85.90%,#ffdd00 86.35%,#ffdd00 86.85%,#ffc900 87.30%,#ffc900 87.81%,#ffd200 88.25%,#ffd200 88.76%,#ffa200 89.21%,#ffa200 89.72%,#ff4b00 90.16%,#ff4b00 90.67%,#ff5d00 91.12%,#ff5d00 91.63%,#ff8700 92.07%,#ff8700 92.58%,#ffdb00 93.03%,#ffdb00 93.54%,#d1ff2e 93.98%,#d1ff2e 94.49%,#d9ff26 94.94%,#d9ff26 95.45%,#b5ff4a 95.89%,#b5ff4a 96.40%,#86ff79 96.85%,#86ff79 97.36%,#8dff72 97.80%,#8dff72 98.31%,#52ffad 98.76%,#52ffad 99.27%,#6aff95 99.71%,#6aff95 100.00%)"></div>
<div class="r" style="top:233.30px;height:20.04px;background:linear-gradient(90deg,#12f9f2 0.00%,#12f9f2 -0.04%,#12f0f2 0.41%,#12f0f2 0.92%,#12f9f2 1.36%,#12f9f2 1.87%,#12f9f2 2.32%,#12f9f2 2.83%,#19ffe6 3.27%,#19ffe6 3.78%,#51ffae 4.23%,#51ffae 4.74%,#4affb5 5.18%,#4affb5 5.69%,#44ffbb 6.14%,#44ffbb 6.65%,#51ffae 7.09%,#51ffae 7.60%,#73ff8c 8.05%,#73ff8c 8.56%,#82ff7d 9.00%,#82ff7d 9.51%,#b8ff47 9.96%,#b8ff47 10.47%,#aaff55 10.91%,#aaff55 11.42%,#d6ff29 11.87%,#d6ff29 12.38%,#e9ff16 12.82%,#e9ff16 13.33%,#ddff22 13.78%,#ddff22 14.29%,#eeff11 14.73%,#eeff11 15.24%,#fffb00 15.69%,#fffb00 16.20%,#ffa800 16.64%,#ffa800 17.15%,#ff4900 17.60%,#ff4900 18.11%,#ff1a00 18.55%,#ff1a00 19.06%,#ff1a00 19.51%,#ff1a00 20.01%,#ff2400 20.46%,#ff2400 20.97%,#ff8800 21.41%,#ff8800 21.92%,#ffe500 22.37%,#ffe500 22.88%,#fff700 23.32%,#fff700 23.83%,#f6ff09 24.28%,#f6ff09 24.79%,#ceff31 25.23%,#ceff31 25.74%,#bfff40 26.19%,#bfff40 26.70%,#a7ff58 27.14%,#a7ff58 27.65%,#93ff6c 28.10%,#93ff6c 28.61%,#63ff9c 29.05%,#63ff9c 29.56%,#3affc5 30.01%,#3affc5 30.52%,#38ffc7 30.96%,#38ffc7 31.47%,#19ffe6 31.92%,#19ffe6 32.43%,#12f7f2 32.87%,#12f7f2 33.38%,#27ffd8 33.83%,#27ffd8 34.34%,#29ffd6 34.78%,#29ffd6 35.29%,#23ffdc 35.74%,#23ffdc 36.25%,#29ffd6 36.69%,#29ffd6 37.20%,#2affd5 37.65%,#2affd5 38.16%,#60ff9f 38.60%,#60ff9f 39.11%,#6bff94 39.56%,#6bff94 40.07%,#81ff7e 40.51%,#81ff7e 41.02%,#a7ff58 41.47%,#a7ff58 41.98%,#9eff61 42.42%,#9eff61 42.93%,#b6ff49 43.38%,#b6ff49 43.89%,#aeff51 44.33%,#aeff51 44.84%,#caff35 45.29%,#caff35 45.80%,#d1ff2e 46.24%,#d1ff2e 46.75%,#ceff31 47.20%,#ceff31 47.71%,#ffeb00 48.15%,#ffeb00 48.66%,#ffe400 49.11%,#ffe400 49.62%,#fff100 50.06%,#fff100 50.57%,#ffb000 51.02%,#ffb000 51.53%,#ff8300 51.97%,#ff8300 52.48%,#ff4e00 52.93%,#ff4e00 53.43%,#ff1a00 53.88%,#ff1a00 54.39%,#ff1a00 54.83%,#ff1a00 55.34%,#ffaa00 55.79%,#ffaa00 56.30%,#ffde00 56.74%,#ffde00 57.25%,#f5ff0a 57.70%,#f5ff0a 58.21%,#96ff69 58.65%,#96ff69 59.16%,#b7ff48 59.61%,#b7ff48 60.12%,#83ff7c 60.56%,#83ff7c 61.07%,#77ff88 61.52%,#77ff88 62.03%,#54ffab 62.47%,#54ffab 62.98%,#42ffbd 63.43%,#42ffbd 63.94%,#28ffd7 64.38%,#28ffd7 64.89%,#2affd5 65.34%,#2affd5 65.85%,#12fbf2 66.29%,#12fbf2 66.80%,#12cdf2 67.25%,#12cdf2 67.76%,#12eef2 68.20%,#12eef2 68.71%,#12f1f2 69.16%,#12f1f2 69.67%,#12f1f2 70.11%,#12f1f2 70.62%,#12e5f2 71.07%,#12e5f2 71.58%,#12d9f2 72.02%,#12d9f2 72.53%,#12f3f2 72.98%,#12f3f2 73.49%,#12fdf2 73.93%,#12fdf2 74.44%,#1effe1 74.89%,#1effe1 75.40%,#4cffb3 75.84%,#4cffb3 76.35%,#72ff8d 76.80%,#72ff8d 77.31%,#a4ff5b 77.75%,#a4ff5b 78.26%,#c2ff3d 78.71%,#c2ff3d 79.22%,#ffd900 79.66%,#ffd900 80.17%,#ffc600 80.62%,#ffc600 81.13%,#ff7800 81.57%,#ff7800 82.08%,#ffac00 82.53%,#ffac00 83.04%,#ffd100 83.48%,#ffd100 83.99%,#fffa00 84.44%,#fffa00 84.94%,#ffd700 85.39%,#ffd700 85.90%,#ff5900 86.35%,#ff5900 86.85%,#ff1a00 87.30%,#ff1a00 87.81%,#ff1a00 88.25%,#ff1a00 88.76%,#ff5400 89.21%,#ff5400 89.72%,#ffad00 90.16%,#ffad00 90.67%,#e7ff18 91.12%,#e7ff18 91.63%,#afff50 92.07%,#afff50 92.58%,#85ff7a 93.03%,#85ff7a 93.54%,#6bff94 93.98%,#6bff94 94.49%,#4cffb3 94.94%,#4cffb3 95.45%,#21ffde 95.89%,#21ffde 96.40%,#12fff2 96.85%,#12fff2 97.36%,#12fff2 97.80%,#12fff2 98.31%,#12def2 98.76%,#12def2 99.27%,#12f2f2 99.71%,#12f2f2 100.00%)"></div>
<div class="r" style="top:252.75px;height:20.04px;background:linear-gradient(90deg,#3bffc4 0.00%,#3bffc4 -0.04%,#34ffcb 0.41%,#34ffcb 0.92%,#32ffcd 1.36%,#32ffcd 1.87%,#37ffc8 2.32%,#37ffc8 2.83%,#46ffb9 3.27%,#46ffb9 3.78%,#4cffb3 4.23%,#4cffb3 4.74%,#52ffad 5.18%,#52ffad 5.69%,#3bffc4 6.14%,#3bffc4 6.65%,#88ff77 7.09%,#88ff77 7.60%,#62ff9d 8.05%,#62ff9d 8.56%,#83ff7c 9.00%,#83ff7c 9.51%,#98ff67 9.96%,#98ff67 10.47%,#c6ff39 10.91%,#c6ff39 11.42%,#b1ff4e 11.87%,#b1ff4e 12.38%,#e1ff1e 12.82%,#e1ff1e 13.33%,#f9ff06 13.78%,#f9ff06 14.29%,#ffde00 14.73%,#ffde00 15.24%,#ff8f00 15.69%,#ff8f00 16.20%,#ff1400 16.64%,#ff1400 17.15%,#ff1400 17.60%,#ff1400 18.11%,#ff1400 18.55%,#ff1400 19.06%,#ff7600 19.51%,#ff7600 20.01%,#ff9a00 20.46%,#ff9a00 20.97%,#ffdb00 21.41%,#ffdb00 21.92%,#dbff24 22.37%,#dbff24 22.88%,#dfff20 23.32%,#dfff20 23.83%,#b3ff4c 24.28%,#b3ff4c 24.79%,#a1ff5e 25.23%,#a1ff5e 25.74%,#b2ff4d 26.19%,#b2ff4d 26.70%,#7fff80 27.14%,#7fff80 27.65%,#7cff83 28.10%,#7cff83 28.61%,#37ffc8 29.05%,#37ffc8 29.56%,#4affb5 30.01%,#4affb5 30.52%,#32ffcd 30.96%,#32ffcd 31.47%,#12fff2 31.92%,#12fff2 32.43%,#12fff2 32.87%,#12fff2 33.38%,#27ffd8 33.83%,#27ffd8 34.34%,#12fff2 34.78%,#12fff2 35.29%,#2dffd2 35.74%,#2dffd2 36.25%,#36ffc9 36.69%,#36ffc9 37.20%,#53ffac 37.65%,#53ffac 38.16%,#6dff92 38.60%,#6dff92 39.11%,#8fff70 39.56%,#8fff70 40.07%,#9cff63 40.51%,#9cff63 41.02%,#a7ff58 41.47%,#a7ff58 41.98%,#c6ff39 42.42%,#c6ff39 42.93%,#d2ff2d 43.38%,#d2ff2d 43.89%,#c5ff3a 44.33%,#c5ff3a 44.84%,#e3ff1c 45.29%,#e3ff1c 45.80%,#ebff14 46.24%,#ebff14 46.75%,#fffb00 47.20%,#fffb00 47.71%,#ffc800 48.15%,#ffc800 48.66%,#ffe500 49.11%,#ffe500 49.62%,#ffaa00 50.06%,#ffaa00 50.57%,#ff7200 51.02%,#ff7200 51.53%,#ff1400 51.97%,#ff1400 52.48%,#ff1400 52.93%,#ff1400 53.43%,#ff5000 53.88%,#ff5000 54.39%,#ff8700 54.83%,#ff8700 55.34%,#fff200 55.79%,#fff200 56.30%,#fff400 56.74%,#fff400 57.25%,#bbff44 57.70%,#bbff44 58.21%,#9bff64 58.65%,#9bff64 59.16%,#a7ff58 59.61%,#a7ff58 60.12%,#74ff8b 60.56%,#74ff8b 61.07%,#72ff8d 61.52%,#72ff8d 62.03%,#40ffbf 62.47%,#40ffbf 62.98%,#1cffe3 63.43%,#1cffe3 63.94%,#24ffdb 64.38%,#24ffdb 64.89%,#2affd5 65.34%,#2affd5 65.85%,#12f7f2 66.29%,#12f7f2 66.80%,#19ffe6 67.25%,#19ffe6 67.76%,#12fff2 68.20%,#12fff2 68.71%,#1cffe3 69.16%,#1cffe3 69.67%,#12ecf2 70.11%,#12ecf2 70.62%,#12fdf2 71.07%,#12fdf2 71.58%,#12f5f2 72.02%,#12f5f2 72.53%,#21ffde 72.98%,#21ffde 73.49%,#2affd5 73.93%,#2affd5 74.44%,#4fffb0 74.89%,#4fffb0 75.40%,#64ff9b 75.84%,#64ff9b 76.35%,#58ffa7 76.80%,#58ffa7 77.31%,#b5ff4a 77.75%,#b5ff4a 78.26%,#f4ff0b 78.71%,#f4ff0b 79.22%,#ffa700 79.66%,#ffa700 80.17%,#ff4f00 80.62%,#ff4f00 81.13%,#ff7800 81.57%,#ff7800 82.08%,#ffa600 82.53%,#ffa600 83.04%,#ffdf00 83.48%,#ffdf00 83.99%,#ff6a00 84.44%,#ff6a00 84.94%,#ff2b00 85.39%,#ff2b00 85.90%,#ff1400 86.35%,#ff1400 86.85%,#ff1400 87.30%,#ff1400 87.81%,#ffb400 88.25%,#ffb400 88.76%,#fff400 89.21%,#fff400 89.72%,#c2ff3d 90.16%,#c2ff3d 90.67%,#bcff43 91.12%,#bcff43 91.63%,#6bff94 92.07%,#6bff94 92.58%,#59ffa6 93.03%,#59ffa6 93.54%,#37ffc8 93.98%,#37ffc8 94.49%,#38ffc7 94.94%,#38ffc7 95.45%,#40ffbf 95.89%,#40ffbf 96.40%,#22ffdd 96.85%,#22ffdd 97.36%,#2cffd3 97.80%,#2cffd3 98.31%,#12ffee 98.76%,#12ffee 99.27%,#18ffe7 99.71%,#18ffe7 100.00%)"></div>
<div class="r" style="top:272.19px;height:20.04px;background:linear-gradient(90deg,#20ffdf 0.00%,#20ffdf -0.04%,#12fff0 0.41%,#12fff0 0.92%,#12fff2 1.36%,#12fff2 1.87%,#20ffdf 2.32%,#20ffdf 2.83%,#52ffad 3.27%,#52ffad 3.78%,#49ffb6 4.23%,#49ffb6 4.74%,#4effb1 5.18%,#4effb1 5.69%,#67ff98 6.14%,#67ff98 6.65%,#6cff93 7.09%,#6cff93 7.60%,#a2ff5d 8.05%,#a2ff5d 8.56%,#b1ff4e 9.00%,#b1ff4e 9.51%,#a7ff58 9.96%,#a7ff58 10.47%,#f2ff0d 10.91%,#f2ff0d 11.42%,#fff400 11.87%,#fff400 12.38%,#ffcc00 12.82%,#ffcc00 13.33%,#ffa800 13.78%,#ffa800 14.29%,#ff1400 14.73%,#ff1400 15.24%,#ff1400 15.69%,#ff1400 16.20%,#ff1400 16.64%,#ff1400 17.15%,#ff5b00 17.60%,#ff5b00 18.11%,#ffcb00 18.55%,#ffcb00 19.06%,#ffcc00 19.51%,#ffcc00 20.01%,#d5ff2a 20.46%,#d5ff2a 20.97%,#caff35 21.41%,#caff35 21.92%,#ceff31 22.37%,#ceff31 22.88%,#a6ff59 23.32%,#a6ff59 23.83%,#96ff69 24.28%,#96ff69 24.79%,#68ff97 25.23%,#68ff97 25.74%,#96ff69 26.19%,#96ff69 26.70%,#72ff8d 27.14%,#72ff8d 27.65%,#5dffa2 28.10%,#5dffa2 28.61%,#15ffea 29.05%,#15ffea 29.56%,#19ffe6 30.01%,#19ffe6 30.52%,#12fbf2 30.96%,#12fbf2 31.47%,#12dbf2 31.92%,#12dbf2 32.43%,#12e7f2 32.87%,#12e7f2 33.38%,#12fff2 33.83%,#12fff2 34.34%,#12fbf2 34.78%,#12fbf2 35.29%,#12fff1 35.74%,#12fff1 36.25%,#51ffae 36.69%,#51ffae 37.20%,#6eff91 37.65%,#6eff91 38.16%,#92ff6d 38.60%,#92ff6d 39.11%,#afff50 39.56%,#afff50 40.07%,#94ff6b 40.51%,#94ff6b 41.02%,#acff53 41.47%,#acff53 41.98%,#efff10 42.42%,#efff10 42.93%,#e9ff16 43.38%,#e9ff16 43.89%,#f0ff0f 44.33%,#f0ff0f 44.84%,#ffe600 45.29%,#ffe600 45.80%,#ffc400 46.24%,#ffc400 46.75%,#ff9700 47.20%,#ff9700 47.71%,#ff7f00 48.15%,#ff7f00 48.66%,#ff2a00 49.11%,#ff2a00 49.62%,#ff1400 50.06%,#ff1400 50.57%,#ff1400 51.02%,#ff1400 51.53%,#ff3b00 51.97%,#ff3b00 52.48%,#ffaa00 52.93%,#ffaa00 53.43%,#ffce00 53.88%,#ffce00 54.39%,#f0ff0f 54.83%,#f0ff0f 55.34%,#e0ff1f 55.79%,#e0ff1f 56.30%,#a2ff5d 56.74%,#a2ff5d 57.25%,#a2ff5d 57.70%,#a2ff5d 58.21%,#92ff6d 58.65%,#92ff6d 59.16%,#56ffa9 59.61%,#56ffa9 60.12%,#57ffa8 60.56%,#57ffa8 61.07%,#50ffaf 61.52%,#50ffaf 62.03%,#21ffde 62.47%,#21ffde 62.98%,#2bffd4 63.43%,#2bffd4 63.94%,#24ffdb 64.38%,#24ffdb 64.89%,#12ecf2 65.34%,#12ecf2 65.85%,#12f3f2 66.29%,#12f3f2 66.80%,#12ffef 67.25%,#12ffef 67.76%,#12fff2 68.20%,#12fff2 68.71%,#1effe1 69.16%,#1effe1 69.67%,#12fcf2 70.11%,#12fcf2 70.62%,#12f2f2 71.07%,#12f2f2 71.58%,#2affd5 72.02%,#2affd5 72.53%,#16ffe9 72.98%,#16ffe9 73.49%,#5fffa0 73.93%,#5fffa0 74.44%,#4affb5 74.89%,#4affb5 75.40%,#7fff80 75.84%,#7fff80 76.35%,#b2ff4d 76.80%,#b2ff4d 77.31%,#ffff00 77.75%,#ffff00 78.26%,#ff9000 78.71%,#ff9000 79.22%,#ff4700 79.66%,#ff4700 80.17%,#ff5300 80.62%,#ff5300 81.13%,#ff7a00 81.57%,#ff7a00 82.08%,#ff8c00 82.53%,#ff8c00 83.04%,#ff3a00 83.48%,#ff3a00 83.99%,#ff1400 84.44%,#ff1400 84.94%,#ff1400 85.39%,#ff1400 85.90%,#ff5100 86.35%,#ff5100 86.85%,#ffb900 87.30%,#ffb900 87.81%,#cbff34 88.25%,#cbff34 88.76%,#a3ff5c 89.21%,#a3ff5c 89.72%,#82ff7d 90.16%,#82ff7d 90.67%,#8fff70 91.12%,#8fff70 91.63%,#70ff8f 92.07%,#70ff8f 92.58%,#38ffc7 93.03%,#38ffc7 93.54%,#45ffba 93.98%,#45ffba 94.49%,#1effe1 94.94%,#1effe1 95.45%,#3affc5 95.89%,#3affc5 96.40%,#15ffea 96.85%,#15ffea 97.36%,#19ffe6 97.80%,#19ffe6 98.31%,#12f3f2 98.76%,#12f3f2 99.27%,#12fff1 99.71%,#12fff1 100.00%)"></div>
<div class="r" style="top:291.63px;height:20.04px;background:linear-gradient(90deg,#12f3f2 0.00%,#12f3f2 -0.04%,#12fff2 0.41%,#12fff2 0.92%,#42ffbd 1.36%,#42ffbd 1.87%,#32ffcd 2.32%,#32ffcd 2.83%,#50ffaf 3.27%,#50ffaf 3.78%,#68ff97 4.23%,#68ff97 4.74%,#65ff9a 5.18%,#65ff9a 5.69%,#7dff82 6.14%,#7dff82 6.65%,#a4ff5b 7.09%,#a4ff5b 7.60%,#a2ff5d 8.05%,#a2ff5d 8.56%,#d2ff2d 9.00%,#d2ff2d 9.51%,#deff21 9.96%,#deff21 10.47%,#d1ff2e 10.91%,#d1ff2e 11.42%,#ffc600 11.87%,#ffc600 12.38%,#ffba00 12.82%,#ffba00 13.33%,#ff4300 13.78%,#ff4300 14.29%,#ff0f00 14.73%,#ff0f00 15.24%,#ff3300 15.69%,#ff3300 16.20%,#ffc300 16.64%,#ffc300 17.15%,#d0ff2f 17.60%,#d0ff2f 18.11%,#6eff91 18.55%,#6eff91 19.06%,#3dffc2 19.51%,#3dffc2 20.01%,#12fff2 20.46%,#12fff2 20.97%,#12fff2 21.41%,#12fff2 21.92%,#12fff2 22.37%,#12fff2 22.88%,#12ecf2 23.32%,#12ecf2 23.83%,#12c9f2 24.28%,#12c9f2 24.79%,#12e3f2 25.23%,#12e3f2 25.74%,#12eff2 26.19%,#12eff2 26.70%,#12fff2 27.14%,#12fff2 27.65%,#12f0f2 28.10%,#12f0f2 28.61%,#12e1f2 29.05%,#12e1f2 29.56%,#12d8f2 30.01%,#12d8f2 30.52%,#12fff2 30.96%,#12fff2 31.47%,#12d3f2 31.92%,#12d3f2 32.43%,#12ddf2 32.87%,#12ddf2 33.38%,#12fff2 33.83%,#12fff2 34.34%,#1effe1 34.78%,#1effe1 35.29%,#29ffd6 35.74%,#29ffd6 36.25%,#24ffdb 36.69%,#24ffdb 37.20%,#4dffb2 37.65%,#4dffb2 38.16%,#61ff9e 38.60%,#61ff9e 39.11%,#98ff67 39.56%,#98ff67 40.07%,#a7ff58 40.51%,#a7ff58 41.02%,#c3ff3c 41.47%,#c3ff3c 41.98%,#99ff66 42.42%,#99ff66 42.93%,#b4ff4b 43.38%,#b4ff4b 43.89%,#dbff24 44.33%,#dbff24 44.84%,#fbff04 45.29%,#fbff04 45.80%,#ffe800 46.24%,#ffe800 46.75%,#ffe500 47.20%,#ffe500 47.71%,#ff7a00 48.15%,#ff7a00 48.66%,#ff3300 49.11%,#ff3300 49.62%,#ff0f00 50.06%,#ff0f00 50.57%,#ff0f00 51.02%,#ff0f00 51.53%,#ff8700 51.97%,#ff8700 52.48%,#ffd300 52.93%,#ffd300 53.43%,#f6ff09 53.88%,#f6ff09 54.39%,#9fff60 54.83%,#9fff60 55.34%,#74ff8b 55.79%,#74ff8b 56.30%,#79ff86 56.74%,#79ff86 57.25%,#65ff9a 57.70%,#65ff9a 58.21%,#38ffc7 58.65%,#38ffc7 59.16%,#30ffcf 59.61%,#30ffcf 60.12%,#12fff2 60.56%,#12fff2 61.07%,#29ffd6 61.52%,#29ffd6 62.03%,#12f1f2 62.47%,#12f1f2 62.98%,#1dffe2 63.43%,#1dffe2 63.94%,#12eaf2 64.38%,#12eaf2 64.89%,#12fff2 65.34%,#12fff2 65.85%,#1effe1 66.29%,#1effe1 66.80%,#12fff2 67.25%,#12fff2 67.76%,#38ffc7 68.20%,#38ffc7 68.71%,#12fff0 69.16%,#12fff0 69.67%,#15ffea 70.11%,#15ffea 70.62%,#62ff9d 71.07%,#62ff9d 71.58%,#47ffb8 72.02%,#47ffb8 72.53%,#7fff80 72.98%,#7fff80 73.49%,#8fff70 73.93%,#8fff70 74.44%,#91ff6e 74.89%,#91ff6e 75.40%,#b8ff47 75.84%,#b8ff47 76.35%,#fffc00 76.80%,#fffc00 77.31%,#ff9900 77.75%,#ff9900 78.26%,#ff3600 78.71%,#ff3600 79.22%,#ff3d00 79.66%,#ff3d00 80.17%,#ff9300 80.62%,#ff9300 81.13%,#ff6900 81.57%,#ff6900 82.08%,#ff0f00 82.53%,#ff0f00 83.04%,#ff0f00 83.48%,#ff0f00 83.99%,#ff3b00 84.44%,#ff3b00 84.94%,#ffd600 85.39%,#ffd600 85.90%,#d9ff26 86.35%,#d9ff26 86.85%,#b3ff4c 87.30%,#b3ff4c 87.81%,#8eff71 88.25%,#8eff71 88.76%,#56ffa9 89.21%,#56ffa9 89.72%,#47ffb8 90.16%,#47ffb8 90.67%,#34ffcb 91.12%,#34ffcb 91.63%,#36ffc9 92.07%,#36ffc9 92.58%,#12ffef 93.03%,#12ffef 93.54%,#12f2f2 93.98%,#12f2f2 94.49%,#16ffe9 94.94%,#16ffe9 95.45%,#2cffd3 95.89%,#2cffd3 96.40%,#1effe1 96.85%,#1effe1 97.36%,#2bffd4 97.80%,#2bffd4 98.31%,#12f8f2 98.76%,#12f8f2 99.27%,#12fff2 99.71%,#12fff2 100.00%)"></div>
<div class="r" style="top:311.07px;height:20.04px;background:linear-gradient(90deg,#12edf2 0.00%,#12edf2 -0.04%,#12f2f2 0.41%,#12f2f2 0.92%,#12f5f2 1.36%,#12f5f2 1.87%,#12fff0 2.32%,#12fff0 2.83%,#27ffd8 3.27%,#27ffd8 3.78%,#3bffc4 4.23%,#3bffc4 4.74%,#43ffbc 5.18%,#43ffbc 5.69%,#65ff9a 6.14%,#65ff9a 6.65%,#85ff7a 7.09%,#85ff7a 7.60%,#cbff34 8.05%,#cbff34 8.56%,#dfff20 9.00%,#dfff20 9.51%,#ffe100 9.96%,#ffe100 10.47%,#ffa800 10.91%,#ffa800 11.42%,#ff7600 11.87%,#ff7600 12.38%,#ff3800 12.82%,#ff3800 13.33%,#ff0a00 13.78%,#ff0a00 14.29%,#ff8700 14.73%,#ff8700 15.24%,#dfff20 15.69%,#dfff20 16.20%,#a5ff5a 16.64%,#a5ff5a 17.15%,#53ffac 17.60%,#53ffac 18.11%,#27ffd8 18.55%,#27ffd8 19.06%,#13ffec 19.51%,#13ffec 20.01%,#12fff2 20.46%,#12fff2 20.97%,#12eff2 21.41%,#12eff2 21.92%,#12e9f2 22.37%,#12e9f2 22.88%,#12cdf2 23.32%,#12cdf2 23.83%,#12d0f2 24.28%,#12d0f2 24.79%,#12e5f2 25.23%,#12e5f2 25.74%,#12d7f2 26.19%,#12d7f2 26.70%,#12f0f2 27.14%,#12f0f2 27.65%,#12caf2 28.10%,#12caf2 28.61%,#12d6f2 29.05%,#12d6f2 29.56%,#12f3f2 30.01%,#12f3f2 30.52%,#12dcf2 30.96%,#12dcf2 31.47%,#12fff2 31.92%,#12fff2 32.43%,#12f3f2 32.87%,#12f3f2 33.38%,#12fff2 33.83%,#12fff2 34.34%,#12fff2 34.78%,#12fff2 35.29%,#15ffea 35.74%,#15ffea 36.25%,#12f9f2 36.69%,#12f9f2 37.20%,#22ffdd 37.65%,#22ffdd 38.16%,#15ffea 38.60%,#15ffea 39.11%,#23ffdc 39.56%,#23ffdc 40.07%,#70ff8f 40.51%,#70ff8f 41.02%,#65ff9a 41.47%,#65ff9a 41.98%,#85ff7a 42.42%,#85ff7a 42.93%,#99ff66 43.38%,#99ff66 43.89%,#a2ff5d 44.33%,#a2ff5d 44.84%,#caff35 45.29%,#caff35 45.80%,#fffa00 46.24%,#fffa00 46.75%,#ff7d00 47.20%,#ff7d00 47.71%,#ff4b00 48.15%,#ff4b00 48.66%,#ff0a00 49.11%,#ff0a00 49.62%,#ff9000 50.06%,#ff9000 50.57%,#ffff00 51.02%,#ffff00 51.53%,#83ff7c 51.97%,#83ff7c 52.48%,#5effa1 52.93%,#5effa1 53.43%,#12fff2 53.88%,#12fff2 54.39%,#12fff2 54.83%,#12fff2 55.34%,#12fff2 55.79%,#12fff2 56.30%,#12fef2 56.74%,#12fef2 57.25%,#12e4f2 57.70%,#12e4f2 58.21%,#12fff2 58.65%,#12fff2 59.16%,#12ccf2 59.61%,#12ccf2 60.12%,#12e3f2 60.56%,#12e3f2 61.07%,#12def2 61.52%,#12def2 62.03%,#12e7f2 62.47%,#12e7f2 62.98%,#12f8f2 63.43%,#12f8f2 63.94%,#12d9f2 64.38%,#12d9f2 64.89%,#12d1f2 65.34%,#12d1f2 65.85%,#12fff2 66.29%,#12fff2 66.80%,#12eef2 67.25%,#12eef2 67.76%,#12f1f2 68.20%,#12f1f2 68.71%,#12e0f2 69.16%,#12e0f2 69.67%,#12e7f2 70.11%,#12e7f2 70.62%,#12e5f2 71.07%,#12e5f2 71.58%,#13ffec 72.02%,#13ffec 72.53%,#12fef2 72.98%,#12fef2 73.49%,#25ffda 73.93%,#25ffda 74.44%,#35ffca 74.89%,#35ffca 75.40%,#49ffb6 75.84%,#49ffb6 76.35%,#bdff42 76.80%,#bdff42 77.31%,#ff9900 77.75%,#ff9900 78.26%,#ff3a00 78.71%,#ff3a00 79.22%,#ff6400 79.66%,#ff6400 80.17%,#ff4700 80.62%,#ff4700 81.13%,#ff1a00 81.57%,#ff1a00 82.08%,#ff8b00 82.53%,#ff8b00 83.04%,#f4ff0b 83.48%,#f4ff0b 83.99%,#89ff76 84.44%,#89ff76 84.94%,#73ff8c 85.39%,#73ff8c 85.90%,#4fffb0 86.35%,#4fffb0 86.85%,#2effd1 87.30%,#2effd1 87.81%,#12fbf2 88.25%,#12fbf2 88.76%,#12fff2 89.21%,#12fff2 89.72%,#12fff2 90.16%,#12fff2 90.67%,#14ffeb 91.12%,#14ffeb 91.63%,#12e6f2 92.07%,#12e6f2 92.58%,#12ffef 93.03%,#12ffef 93.54%,#12fff2 93.98%,#12fff2 94.49%,#12eff2 94.94%,#12eff2 95.45%,#15ffea 95.89%,#15ffea 96.40%,#12f3f2 96.85%,#12f3f2 97.36%,#12fff2 97.80%,#12fff2 98.31%,#19ffe6 98.76%,#19ffe6 99.27%,#12f6f2 99.71%,#12f6f2 100.00%)"></div>
<div class="r" style="top:330.51px;height:20.04px;background:linear-gradient(90deg,#12eaf2 0.00%,#12eaf2 -0.04%,#12f1f2 0.41%,#12f1f2 0.92%,#12daf2 1.36%,#12daf2 1.87%,#12d5f2 2.32%,#12d5f2 2.83%,#12f0f2 3.27%,#12f0f2 3.78%,#12fff2 4.23%,#12fff2 4.74%,#37ffc8 5.18%,#37ffc8 5.69%,#5effa1 6.14%,#5effa1 6.65%,#51ffae 7.09%,#51ffae 7.60%,#c8ff37 8.05%,#c8ff37 8.56%,#ffa400 9.00%,#ffa400 9.51%,#ff4300 9.96%,#ff4300 10.47%,#ff6600 10.91%,#ff6600 11.42%,#ff4b00 11.87%,#ff4b00 12.38%,#ff0a00 12.82%,#ff0a00 13.33%,#ff5100 13.78%,#ff5100 14.29%,#ffd600 14.73%,#ffd600 15.24%,#95ff6a 15.69%,#95ff6a 16.20%,#4cffb3 16.64%,#4cffb3 17.15%,#54ffab 17.60%,#54ffab 18.11%,#1fffe0 18.55%,#1fffe0 19.06%,#12eef2 19.51%,#12eef2 20.01%,#12d2f2 20.46%,#12d2f2 20.97%,#12f7f2 21.41%,#12f7f2 21.92%,#12cef2 22.37%,#12cef2 22.88%,#12def2 23.32%,#12def2 23.83%,#12d5f2 24.28%,#12d5f2 24.79%,#12e4f2 25.23%,#12e4f2 25.74%,#12d1f2 26.19%,#12d1f2 26.70%,#12e1f2 27.14%,#12e1f2 27.65%,#12e0f2 28.10%,#12e0f2 28.61%,#12d8f2 29.05%,#12d8f2 29.56%,#12fff2 30.01%,#12fff2 30.52%,#12edf2 30.96%,#12edf2 31.47%,#12e2f2 31.92%,#12e2f2 32.43%,#12fff2 32.87%,#12fff2 33.38%,#12ebf2 33.83%,#12ebf2 34.34%,#12f7f2 34.78%,#12f7f2 35.29%,#12fff1 35.74%,#12fff1 36.25%,#12fff2 36.69%,#12fff2 37.20%,#15ffea 37.65%,#15ffea 38.16%,#1dffe2 38.60%,#1dffe2 39.11%,#4bffb4 39.56%,#4bffb4 40.07%,#3bffc4 40.51%,#3bffc4 41.02%,#5bffa4 41.47%,#5bffa4 41.98%,#83ff7c 42.42%,#83ff7c 42.93%,#bbff44 43.38%,#bbff44 43.89%,#d8ff27 44.33%,#d8ff27 44.84%,#ffad00 45.29%,#ffad00 45.80%,#ff3500 46.24%,#ff3500 46.75%,#ff1c00 47.20%,#ff1c00 47.71%,#ffa600 48.15%,#ffa600 48.66%,#ceff31 49.11%,#ceff31 49.62%,#6fff90 50.06%,#6fff90 50.57%,#3dffc2 51.02%,#3dffc2 51.53%,#27ffd8 51.97%,#27ffd8 52.48%,#12f1f2 52.93%,#12f1f2 53.43%,#12ebf2 53.88%,#12ebf2 54.39%,#12c7f2 54.83%,#12c7f2 55.34%,#12e7f2 55.79%,#12e7f2 56.30%,#12e8f2 56.74%,#12e8f2 57.25%,#12d8f2 57.70%,#12d8f2 58.21%,#12f4f2 58.65%,#12f4f2 59.16%,#12f4f2 59.61%,#12f4f2 60.12%,#12e5f2 60.56%,#12e5f2 61.07%,#12f0f2 61.52%,#12f0f2 62.03%,#12cef2 62.47%,#12cef2 62.98%,#12f4f2 63.43%,#12f4f2 63.94%,#12e7f2 64.38%,#12e7f2 64.89%,#12f2f2 65.34%,#12f2f2 65.85%,#12d9f2 66.29%,#12d9f2 66.80%,#12e3f2 67.25%,#12e3f2 67.76%,#12f6f2 68.20%,#12f6f2 68.71%,#12f0f2 69.16%,#12f0f2 69.67%,#12e3f2 70.11%,#12e3f2 70.62%,#12def2 71.07%,#12def2 71.58%,#12f6f2 72.02%,#12f6f2 72.53%,#12fef2 72.98%,#12fef2 73.49%,#29ffd6 73.93%,#29ffd6 74.44%,#60ff9f 74.89%,#60ff9f 75.40%,#d1ff2e 75.84%,#d1ff2e 76.35%,#ff8b00 76.80%,#ff8b00 77.31%,#ff3f00 77.75%,#ff3f00 78.26%,#ff3c00 78.71%,#ff3c00 79.22%,#ff0a00 79.66%,#ff0a00 80.17%,#ff9100 80.62%,#ff9100 81.13%,#d8ff27 81.57%,#d8ff27 82.08%,#6bff94 82.53%,#6bff94 83.04%,#57ffa8 83.48%,#57ffa8 83.99%,#39ffc6 84.44%,#39ffc6 84.94%,#12fff2 85.39%,#12fff2 85.90%,#12dff2 86.35%,#12dff2 86.85%,#12cff2 87.30%,#12cff2 87.81%,#12ecf2 88.25%,#12ecf2 88.76%,#12daf2 89.21%,#12daf2 89.72%,#12d8f2 90.16%,#12d8f2 90.67%,#12f1f2 91.12%,#12f1f2 91.63%,#12e5f2 92.07%,#12e5f2 92.58%,#12d7f2 93.03%,#12d7f2 93.54%,#12f8f2 93.98%,#12f8f2 94.49%,#12fff2 94.94%,#12fff2 95.45%,#12d1f2 95.89%,#12d1f2 96.40%,#12e4f2 96.85%,#12e4f2 97.36%,#12f0f2 97.80%,#12f0f2 98.31%,#12fff2 98.76%,#12fff2 99.27%,#12e5f2 99.71%,#12e5f2 100.00%)"></div>
<div class="r" style="top:349.95px;height:20.04px;background:linear-gradient(90deg,#12dcf2 0.00%,#12dcf2 -0.04%,#12ecf2 0.41%,#12ecf2 0.92%,#12e8f2 1.36%,#12e8f2 1.87%,#12fff2 2.32%,#12fff2 2.83%,#2affd5 3.27%,#2affd5 3.78%,#45ffba 4.23%,#45ffba 4.74%,#8aff75 5.18%,#8aff75 5.69%,#baff45 6.14%,#baff45 6.65%,#edff12 7.09%,#edff12 7.60%,#d6ff29 8.05%,#d6ff29 8.56%,#8eff71 9.00%,#8eff71 9.51%,#b5ff4a 9.96%,#b5ff4a 10.47%,#c0ff3f 10.91%,#c0ff3f 11.42%,#ffca00 11.87%,#ffca00 12.38%,#ff7200 12.82%,#ff7200 13.33%,#ffbd00 13.78%,#ffbd00 14.29%,#adff52 14.73%,#adff52 15.24%,#2affd5 15.69%,#2affd5 16.20%,#12e3f2 16.64%,#12e3f2 17.15%,#12daf2 17.60%,#12daf2 18.11%,#12e7f2 18.55%,#12e7f2 19.06%,#12eaf2 19.51%,#12eaf2 20.01%,#12daf2 20.46%,#12daf2 20.97%,#12d1f2 21.41%,#12d1f2 21.92%,#12ebf2 22.37%,#12ebf2 22.88%,#12c5f2 23.32%,#12c5f2 23.83%,#12c3f2 24.28%,#12c3f2 24.79%,#12dbf2 25.23%,#12dbf2 25.74%,#12cff2 26.19%,#12cff2 26.70%,#12d6f2 27.14%,#12d6f2 27.65%,#12c1f2 28.10%,#12c1f2 28.61%,#12d0f2 29.05%,#12d0f2 29.56%,#12e8f2 30.01%,#12e8f2 30.52%,#12e7f2 30.96%,#12e7f2 31.47%,#12e8f2 31.92%,#12e8f2 32.43%,#12c6f2 32.87%,#12c6f2 33.38%,#12e9f2 33.83%,#12e9f2 34.34%,#12e9f2 34.78%,#12e9f2 35.29%,#12f5f2 35.74%,#12f5f2 36.25%,#12e0f2 36.69%,#12e0f2 37.20%,#12fff0 37.65%,#12fff0 38.16%,#12f8f2 38.60%,#12f8f2 39.11%,#12fff2 39.56%,#12fff2 40.07%,#12fef2 40.51%,#12fef2 41.02%,#31ffce 41.47%,#31ffce 41.98%,#73ff8c 42.42%,#73ff8c 42.93%,#d1ff2e 43.38%,#d1ff2e 43.89%,#ffd900 44.33%,#ffd900 44.84%,#ff6900 45.29%,#ff6900 45.80%,#ff5800 46.24%,#ff5800 46.75%,#ffe300 47.20%,#ffe300 47.71%,#bcff43 48.15%,#bcff43 48.66%,#2effd1 49.11%,#2effd1 49.62%,#12fff2 50.06%,#12fff2 50.57%,#12eaf2 51.02%,#12eaf2 51.53%,#12ddf2 51.97%,#12ddf2 52.48%,#12e7f2 52.93%,#12e7f2 53.43%,#12f2f2 53.88%,#12f2f2 54.39%,#12ecf2 54.83%,#12ecf2 55.34%,#12e1f2 55.79%,#12e1f2 56.30%,#12dcf2 56.74%,#12dcf2 57.25%,#12caf2 57.70%,#12caf2 58.21%,#12e6f2 58.65%,#12e6f2 59.16%,#12def2 59.61%,#12def2 60.12%,#12d2f2 60.56%,#12d2f2 61.07%,#12d5f2 61.52%,#12d5f2 62.03%,#12eef2 62.47%,#12eef2 62.98%,#12daf2 63.43%,#12daf2 63.94%,#12d2f2 64.38%,#12d2f2 64.89%,#12c8f2 65.34%,#12c8f2 65.85%,#12e3f2 66.29%,#12e3f2 66.80%,#12ccf2 67.25%,#12ccf2 67.76%,#12def2 68.20%,#12def2 68.71%,#12eaf2 69.16%,#12eaf2 69.67%,#12e3f2 70.11%,#12e3f2 70.62%,#13ffec 71.07%,#13ffec 71.58%,#41ffbe 72.02%,#41ffbe 72.53%,#63ff9c 72.98%,#63ff9c 73.49%,#a9ff56 73.93%,#a9ff56 74.44%,#ffff00 74.89%,#ffff00 75.40%,#ffb700 75.84%,#ffb700 76.35%,#ff6e00 76.80%,#ff6e00 77.31%,#ff5d00 77.75%,#ff5d00 78.26%,#ff7300 78.71%,#ff7300 79.22%,#ffdf00 79.66%,#ffdf00 80.17%,#dfff20 80.62%,#dfff20 81.13%,#7aff85 81.57%,#7aff85 82.08%,#55ffaa 82.53%,#55ffaa 83.04%,#12fff2 83.48%,#12fff2 83.99%,#12e1f2 84.44%,#12e1f2 84.94%,#12e6f2 85.39%,#12e6f2 85.90%,#12e1f2 86.35%,#12e1f2 86.85%,#12c6f2 87.30%,#12c6f2 87.81%,#12caf2 88.25%,#12caf2 88.76%,#12d5f2 89.21%,#12d5f2 89.72%,#12e0f2 90.16%,#12e0f2 90.67%,#12dff2 91.12%,#12dff2 91.63%,#12e1f2 92.07%,#12e1f2 92.58%,#12c4f2 93.03%,#12c4f2 93.54%,#12d8f2 93.98%,#12d8f2 94.49%,#12c2f2 94.94%,#12c2f2 95.45%,#12ddf2 95.89%,#12ddf2 96.40%,#12c2f2 96.85%,#12c2f2 97.36%,#12d8f2 97.80%,#12d8f2 98.31%,#12d4f2 98.76%,#12d4f2 99.27%,#12c4f2 99.71%,#12c4f2 100.00%)"></div>
<div class="r" style="top:369.40px;height:20.04px;background:linear-gradient(90deg,#12a9f2 0.00%,#12a9f2 -0.04%,#12b0f2 0.41%,#12b0f2 0.92%,#12c9f2 1.36%,#12c9f2 1.87%,#12cbf2 2.32%,#12cbf2 2.83%,#15ffea 3.27%,#15ffea 3.78%,#59ffa6 4.23%,#59ffa6 4.74%,#8aff75 5.18%,#8aff75 5.69%,#fbff04 6.14%,#fbff04 6.65%,#e5ff1a 7.09%,#e5ff1a 7.60%,#99ff66 8.05%,#99ff66 8.56%,#7fff80 9.00%,#7fff80 9.51%,#88ff77 9.96%,#88ff77 10.47%,#adff52 10.91%,#adff52 11.42%,#ffd400 11.87%,#ffd400 12.38%,#ffcc00 12.82%,#ffcc00 13.33%,#c6ff39 13.78%,#c6ff39 14.29%,#5fffa0 14.73%,#5fffa0 15.24%,#1cffe3 15.69%,#1cffe3 16.20%,#12d2f2 16.64%,#12d2f2 17.15%,#12adf2 17.60%,#12adf2 18.11%,#12bff2 18.55%,#12bff2 19.06%,#12b2f2 19.51%,#12b2f2 20.01%,#12b8f2 20.46%,#12b8f2 20.97%,#12a8f2 21.41%,#12a8f2 21.92%,#12b8f2 22.37%,#12b8f2 22.88%,#12b5f2 23.32%,#12b5f2 23.83%,#12bbf2 24.28%,#12bbf2 24.79%,#12baf2 25.23%,#12baf2 25.74%,#12cff2 26.19%,#12cff2 26.70%,#12aff2 27.14%,#12aff2 27.65%,#12b9f2 28.10%,#12b9f2 28.61%,#12b2f2 29.05%,#12b2f2 29.56%,#12c0f2 30.01%,#12c0f2 30.52%,#12d5f2 30.96%,#12d5f2 31.47%,#12c9f2 31.92%,#12c9f2 32.43%,#12d2f2 32.87%,#12d2f2 33.38%,#12bbf2 33.83%,#12bbf2 34.34%,#12d8f2 34.78%,#12d8f2 35.29%,#12c1f2 35.74%,#12c1f2 36.25%,#12cef2 36.69%,#12cef2 37.20%,#12c8f2 37.65%,#12c8f2 38.16%,#12d0f2 38.60%,#12d0f2 39.11%,#12cff2 39.56%,#12cff2 40.07%,#12d4f2 40.51%,#12d4f2 41.02%,#12ffef 41.47%,#12ffef 41.98%,#4fffb0 42.42%,#4fffb0 42.93%,#9aff65 43.38%,#9aff65 43.89%,#ffdc00 44.33%,#ffdc00 44.84%,#ff7300 45.29%,#ff7300 45.80%,#ff8d00 46.24%,#ff8d00 46.75%,#ffed00 47.20%,#ffed00 47.71%,#82ff7d 48.15%,#82ff7d 48.66%,#42ffbd 49.11%,#42ffbd 49.62%,#12e3f2 50.06%,#12e3f2 50.57%,#12a5f2 51.02%,#12a5f2 51.53%,#1294f2 51.97%,#1294f2 52.48%,#12b2f2 52.93%,#12b2f2 53.43%,#12b8f2 53.88%,#12b8f2 54.39%,#12bdf2 54.83%,#12bdf2 55.34%,#12a2f2 55.79%,#12a2f2 56.30%,#12aef2 56.74%,#12aef2 57.25%,#12b0f2 57.70%,#12b0f2 58.21%,#12a7f2 58.65%,#12a7f2 59.16%,#12bbf2 59.61%,#12bbf2 60.12%,#12b6f2 60.56%,#12b6f2 61.07%,#12aff2 61.52%,#12aff2 62.03%,#12a5f2 62.47%,#12a5f2 62.98%,#129df2 63.43%,#129df2 63.94%,#12bdf2 64.38%,#12bdf2 64.89%,#129df2 65.34%,#129df2 65.85%,#12b4f2 66.29%,#12b4f2 66.80%,#12a8f2 67.25%,#12a8f2 67.76%,#12bbf2 68.20%,#12bbf2 68.71%,#12abf2 69.16%,#12abf2 69.67%,#12adf2 70.11%,#12adf2 70.62%,#12bbf2 71.07%,#12bbf2 71.58%,#12f2f2 72.02%,#12f2f2 72.53%,#3fffc0 72.98%,#3fffc0 73.49%,#83ff7c 73.93%,#83ff7c 74.44%,#b9ff46 74.89%,#b9ff46 75.40%,#ffcb00 75.84%,#ffcb00 76.35%,#ff8000 76.80%,#ff8000 77.31%,#ff9d00 77.75%,#ff9d00 78.26%,#ffe300 78.71%,#ffe300 79.22%,#89ff76 79.66%,#89ff76 80.17%,#52ffad 80.62%,#52ffad 81.13%,#12eaf2 81.57%,#12eaf2 82.08%,#12c8f2 82.53%,#12c8f2 83.04%,#129ff2 83.48%,#129ff2 83.99%,#12a3f2 84.44%,#12a3f2 84.94%,#1299f2 85.39%,#1299f2 85.90%,#12a2f2 86.35%,#12a2f2 86.85%,#12a0f2 87.30%,#12a0f2 87.81%,#12b9f2 88.25%,#12b9f2 88.76%,#12a4f2 89.21%,#12a4f2 89.72%,#12bdf2 90.16%,#12bdf2 90.67%,#12b8f2 91.12%,#12b8f2 91.63%,#12a1f2 92.07%,#12a1f2 92.58%,#12baf2 93.03%,#12baf2 93.54%,#12a6f2 93.98%,#12a6f2 94.49%,#1295f2 94.94%,#1295f2 95.45%,#1299f2 95.89%,#1299f2 96.40%,#12b8f2 96.85%,#12b8f2 97.36%,#12b8f2 97.80%,#12b8f2 98.31%,#12baf2 98.76%,#12baf2 99.27%,#12b9f2 99.71%,#12b9f2 100.00%)"></div>
<div class="r" style="top:388.84px;height:20.04px;background:linear-gradient(90deg,#12a2f2 0.00%,#12a2f2 -0.04%,#12b2f2 0.41%,#12b2f2 0.92%,#12b9f2 1.36%,#12b9f2 1.87%,#12def2 2.32%,#12def2 2.83%,#67ff98 3.27%,#67ff98 3.78%,#c4ff3b 4.23%,#c4ff3b 4.74%,#9bff64 5.18%,#9bff64 5.69%,#28ffd7 6.14%,#28ffd7 6.65%,#12c8f2 7.09%,#12c8f2 7.60%,#12b1f2 8.05%,#12b1f2 8.56%,#12c4f2 9.00%,#12c4f2 9.51%,#12ffee 9.96%,#12ffee 10.47%,#91ff6e 10.91%,#91ff6e 11.42%,#ffef00 11.87%,#ffef00 12.38%,#a3ff5c 12.82%,#a3ff5c 13.33%,#17ffe8 13.78%,#17ffe8 14.29%,#12a8f2 14.73%,#12a8f2 15.24%,#1293f2 15.69%,#1293f2 16.20%,#12abf2 16.64%,#12abf2 17.15%,#129ff2 17.60%,#129ff2 18.11%,#12a4f2 18.55%,#12a4f2 19.06%,#1288f2 19.51%,#1288f2 20.01%,#129af2 20.46%,#129af2 20.97%,#1290f2 21.41%,#1290f2 21.92%,#128df2 22.37%,#128df2 22.88%,#12aff2 23.32%,#12aff2 23.83%,#12acf2 24.28%,#12acf2 24.79%,#12b0f2 25.23%,#12b0f2 25.74%,#1292f2 26.19%,#1292f2 26.70%,#1299f2 27.14%,#1299f2 27.65%,#12aef2 28.10%,#12aef2 28.61%,#12a0f2 29.05%,#12a0f2 29.56%,#1291f2 30.01%,#1291f2 30.52%,#128cf2 30.96%,#128cf2 31.47%,#129ff2 31.92%,#129ff2 32.43%,#12a2f2 32.87%,#12a2f2 33.38%,#1290f2 33.83%,#1290f2 34.34%,#12b3f2 34.78%,#12b3f2 35.29%,#12b2f2 35.74%,#12b2f2 36.25%,#12aff2 36.69%,#12aff2 37.20%,#1294f2 37.65%,#1294f2 38.16%,#129af2 38.60%,#129af2 39.11%,#12aaf2 39.56%,#12aaf2 40.07%,#128ff2 40.51%,#128ff2 41.02%,#1298f2 41.47%,#1298f2 41.98%,#12a1f2 42.42%,#12a1f2 42.93%,#12f1f2 43.38%,#12f1f2 43.89%,#8fff70 44.33%,#8fff70 44.84%,#ffd000 45.29%,#ffd000 45.80%,#ffc400 46.24%,#ffc400 46.75%,#c0ff3f 47.20%,#c0ff3f 47.71%,#12fff2 48.15%,#12fff2 48.66%,#12a8f2 49.11%,#12a8f2 49.62%,#129af2 50.06%,#129af2 50.57%,#12a3f2 51.02%,#12a3f2 51.53%,#12aff2 51.97%,#12aff2 52.48%,#12a9f2 52.93%,#12a9f2 53.43%,#12abf2 53.88%,#12abf2 54.39%,#129ef2 54.83%,#129ef2 55.34%,#12aaf2 55.79%,#12aaf2 56.30%,#129ff2 56.74%,#129ff2 57.25%,#12a5f2 57.70%,#12a5f2 58.21%,#129cf2 58.65%,#129cf2 59.16%,#12aef2 59.61%,#12aef2 60.12%,#129ef2 60.56%,#129ef2 61.07%,#1289f2 61.52%,#1289f2 62.03%,#129ef2 62.47%,#129ef2 62.98%,#12b2f2 63.43%,#12b2f2 63.94%,#12adf2 64.38%,#12adf2 64.89%,#12aff2 65.34%,#12aff2 65.85%,#1298f2 66.29%,#1298f2 66.80%,#129cf2 67.25%,#129cf2 67.76%,#128ff2 68.20%,#128ff2 68.71%,#129ef2 69.16%,#129ef2 69.67%,#129af2 70.11%,#129af2 70.62%,#12a3f2 71.07%,#12a3f2 71.58%,#1295f2 72.02%,#1295f2 72.53%,#12b8f2 72.98%,#12b8f2 73.49%,#12eaf2 73.93%,#12eaf2 74.44%,#35ffca 74.89%,#35ffca 75.40%,#d3ff2c 75.84%,#d3ff2c 76.35%,#ffc900 76.80%,#ffc900 77.31%,#ffd200 77.75%,#ffd200 78.26%,#b0ff4f 78.71%,#b0ff4f 79.22%,#12fff2 79.66%,#12fff2 80.17%,#12c4f2 80.62%,#12c4f2 81.13%,#1293f2 81.57%,#1293f2 82.08%,#128af2 82.53%,#128af2 83.04%,#1294f2 83.48%,#1294f2 83.99%,#12acf2 84.44%,#12acf2 84.94%,#1291f2 85.39%,#1291f2 85.90%,#12a2f2 86.35%,#12a2f2 86.85%,#129bf2 87.30%,#129bf2 87.81%,#12a7f2 88.25%,#12a7f2 88.76%,#129ef2 89.21%,#129ef2 89.72%,#1289f2 90.16%,#1289f2 90.67%,#129ef2 91.12%,#129ef2 91.63%,#12b2f2 92.07%,#12b2f2 92.58%,#1293f2 93.03%,#1293f2 93.54%,#129bf2 93.98%,#129bf2 94.49%,#129ff2 94.94%,#129ff2 95.45%,#128bf2 95.89%,#128bf2 96.40%,#129bf2 96.85%,#129bf2 97.36%,#12a5f2 97.80%,#12a5f2 98.31%,#12a2f2 98.76%,#12a2f2 99.27%,#1299f2 99.71%,#1299f2 100.00%)"></div>
<div class="r" style="top:408.28px;height:20.04px;background:linear-gradient(90deg,#12d1f2 0.00%,#12d1f2 -0.04%,#12fff2 0.41%,#12fff2 0.92%,#7bff84 1.36%,#7bff84 1.87%,#92ff6d 2.32%,#92ff6d 2.83%,#35ffca 3.27%,#35ffca 3.78%,#12cff2 4.23%,#12cff2 4.74%,#12a3f2 5.18%,#12a3f2 5.69%,#128cf2 6.14%,#128cf2 6.65%,#12acf2 7.09%,#12acf2 7.60%,#12b3f2 8.05%,#12b3f2 8.56%,#31ffce 9.00%,#31ffce 9.51%,#e7ff18 9.96%,#e7ff18 10.47%,#f1ff0e 10.91%,#f1ff0e 11.42%,#21ffde 11.87%,#21ffde 12.38%,#12c1f2 12.82%,#12c1f2 13.33%,#128ef2 13.78%,#128ef2 14.29%,#1299f2 14.73%,#1299f2 15.24%,#128df2 15.69%,#128df2 16.20%,#1282f2 16.64%,#1282f2 17.15%,#128ef2 17.60%,#128ef2 18.11%,#128ff2 18.55%,#128ff2 19.06%,#12a4f2 19.51%,#12a4f2 20.01%,#128ff2 20.46%,#128ff2 20.97%,#127ff2 21.41%,#127ff2 21.92%,#1285f2 22.37%,#1285f2 22.88%,#1291f2 23.32%,#1291f2 23.83%,#12a8f2 24.28%,#12a8f2 24.79%,#12a9f2 25.23%,#12a9f2 25.74%,#12a7f2 26.19%,#12a7f2 26.70%,#1283f2 27.14%,#1283f2 27.65%,#1295f2 28.10%,#1295f2 28.61%,#128af2 29.05%,#128af2 29.56%,#12a2f2 30.01%,#12a2f2 30.52%,#12a2f2 30.96%,#12a2f2 31.47%,#12a2f2 31.92%,#12a2f2 32.43%,#12a8f2 32.87%,#12a8f2 33.38%,#129df2 33.83%,#129df2 34.34%,#12a7f2 34.78%,#12a7f2 35.29%,#127ff2 35.74%,#127ff2 36.25%,#1291f2 36.69%,#1291f2 37.20%,#1282f2 37.65%,#1282f2 38.16%,#128ff2 38.60%,#128ff2 39.11%,#129ef2 39.56%,#129ef2 40.07%,#129af2 40.51%,#129af2 41.02%,#12d8f2 41.47%,#12d8f2 41.98%,#7fff80 42.42%,#7fff80 42.93%,#f5ff0a 43.38%,#f5ff0a 43.89%,#79ff86 44.33%,#79ff86 44.84%,#12e9f2 45.29%,#12e9f2 45.80%,#129cf2 46.24%,#129cf2 46.75%,#1280f2 47.20%,#1280f2 47.71%,#12a6f2 48.15%,#12a6f2 48.66%,#1283f2 49.11%,#1283f2 49.62%,#129ef2 50.06%,#129ef2 50.57%,#1299f2 51.02%,#1299f2 51.53%,#1299f2 51.97%,#1299f2 52.48%,#1283f2 52.93%,#1283f2 53.43%,#12a3f2 53.88%,#12a3f2 54.39%,#1296f2 54.83%,#1296f2 55.34%,#1284f2 55.79%,#1284f2 56.30%,#1296f2 56.74%,#1296f2 57.25%,#12a6f2 57.70%,#12a6f2 58.21%,#12a7f2 58.65%,#12a7f2 59.16%,#127ff2 59.61%,#127ff2 60.12%,#1287f2 60.56%,#1287f2 61.07%,#1298f2 61.52%,#1298f2 62.03%,#1295f2 62.47%,#1295f2 62.98%,#1288f2 63.43%,#1288f2 63.94%,#1283f2 64.38%,#1283f2 64.89%,#1281f2 65.34%,#1281f2 65.85%,#1283f2 66.29%,#1283f2 66.80%,#12a2f2 67.25%,#12a2f2 67.76%,#1296f2 68.20%,#1296f2 68.71%,#1283f2 69.16%,#1283f2 69.67%,#1290f2 70.11%,#1290f2 70.62%,#12a4f2 71.07%,#12a4f2 71.58%,#12bcf2 72.02%,#12bcf2 72.53%,#6dff92 72.98%,#6dff92 73.49%,#ffec00 73.93%,#ffec00 74.44%,#e5ff1a 74.89%,#e5ff1a 75.40%,#6bff94 75.84%,#6bff94 76.35%,#46ffb9 76.80%,#46ffb9 77.31%,#12fff0 77.75%,#12fff0 78.26%,#12b5f2 78.71%,#12b5f2 79.22%,#1286f2 79.66%,#1286f2 80.17%,#1281f2 80.62%,#1281f2 81.13%,#1299f2 81.57%,#1299f2 82.08%,#128ef2 82.53%,#128ef2 83.04%,#1288f2 83.48%,#1288f2 83.99%,#128ef2 84.44%,#128ef2 84.94%,#1286f2 85.39%,#1286f2 85.90%,#12a3f2 86.35%,#12a3f2 86.85%,#128af2 87.30%,#128af2 87.81%,#129df2 88.25%,#129df2 88.76%,#1288f2 89.21%,#1288f2 89.72%,#12a2f2 90.16%,#12a2f2 90.67%,#1283f2 91.12%,#1283f2 91.63%,#129df2 92.07%,#129df2 92.58%,#1288f2 93.03%,#1288f2 93.54%,#1295f2 93.98%,#1295f2 94.49%,#1290f2 94.94%,#1290f2 95.45%,#12a3f2 95.89%,#12a3f2 96.40%,#1280f2 96.85%,#1280f2 97.36%,#12a8f2 97.80%,#12a8f2 98.31%,#128bf2 98.76%,#128bf2 99.27%,#12a8f2 99.71%,#12a8f2 100.00%)"></div>
<div class="r" style="top:427.72px;height:20.04px;background:linear-gradient(90deg,#128ef2 0.00%,#128ef2 -0.04%,#12b1f2 0.41%,#12b1f2 0.92%,#1298f2 1.36%,#1298f2 1.87%,#12acf2 2.32%,#12acf2 2.83%,#12a0f2 3.27%,#12a0f2 3.78%,#12a5f2 4.23%,#12a5f2 4.74%,#12aaf2 5.18%,#12aaf2 5.69%,#12c7f2 6.14%,#12c7f2 6.65%,#1dffe2 7.09%,#1dffe2 7.60%,#a8ff57 8.05%,#a8ff57 8.56%,#7aff85 9.00%,#7aff85 9.51%,#12e4f2 9.96%,#12e4f2 10.47%,#12a3f2 10.91%,#12a3f2 11.42%,#1285f2 11.87%,#1285f2 12.38%,#1279f2 12.82%,#1279f2 13.33%,#1285f2 13.78%,#1285f2 14.29%,#129ef2 14.73%,#129ef2 15.24%,#1288f2 15.69%,#1288f2 16.20%,#1277f2 16.64%,#1277f2 17.15%,#1299f2 17.60%,#1299f2 18.11%,#127bf2 18.55%,#127bf2 19.06%,#1282f2 19.51%,#1282f2 20.01%,#129df2 20.46%,#129df2 20.97%,#128ff2 21.41%,#128ff2 21.92%,#1292f2 22.37%,#1292f2 22.88%,#128ef2 23.32%,#128ef2 23.83%,#12b4f2 24.28%,#12b4f2 24.79%,#12daf2 25.23%,#12daf2 25.74%,#12a7f2 26.19%,#12a7f2 26.70%,#1279f2 27.14%,#1279f2 27.65%,#1278f2 28.10%,#1278f2 28.61%,#1299f2 29.05%,#1299f2 29.56%,#1292f2 30.01%,#1292f2 30.52%,#128bf2 30.96%,#128bf2 31.47%,#129df2 31.92%,#129df2 32.43%,#127df2 32.87%,#127df2 33.38%,#1279f2 33.83%,#1279f2 34.34%,#1295f2 34.78%,#1295f2 35.29%,#1294f2 35.74%,#1294f2 36.25%,#1290f2 36.69%,#1290f2 37.20%,#1290f2 37.65%,#1290f2 38.16%,#12bcf2 38.60%,#12bcf2 39.11%,#3dffc2 39.56%,#3dffc2 40.07%,#b3ff4c 40.51%,#b3ff4c 41.02%,#6bff94 41.47%,#6bff94 41.98%,#12b8f2 42.42%,#12b8f2 42.93%,#1282f2 43.38%,#1282f2 43.89%,#127bf2 44.33%,#127bf2 44.84%,#129ef2 45.29%,#129ef2 45.80%,#1283f2 46.24%,#1283f2 46.75%,#128ef2 47.20%,#128ef2 47.71%,#1278f2 48.15%,#1278f2 48.66%,#128ef2 49.11%,#128ef2 49.62%,#1289f2 50.06%,#1289f2 50.57%,#1292f2 51.02%,#1292f2 51.53%,#1288f2 51.97%,#1288f2 52.48%,#1276f2 52.93%,#1276f2 53.43%,#1288f2 53.88%,#1288f2 54.39%,#1280f2 54.83%,#1280f2 55.34%,#127df2 55.79%,#127df2 56.30%,#1275f2 56.74%,#1275f2 57.25%,#1290f2 57.70%,#1290f2 58.21%,#127af2 58.65%,#127af2 59.16%,#1274f2 59.61%,#1274f2 60.12%,#1280f2 60.56%,#1280f2 61.07%,#1280f2 61.52%,#1280f2 62.03%,#129cf2 62.47%,#129cf2 62.98%,#1280f2 63.43%,#1280f2 63.94%,#127cf2 64.38%,#127cf2 64.89%,#1292f2 65.34%,#1292f2 65.85%,#129df2 66.29%,#129df2 66.80%,#1290f2 67.25%,#1290f2 67.76%,#129bf2 68.20%,#129bf2 68.71%,#12b2f2 69.16%,#12b2f2 69.67%,#16ffe9 70.11%,#16ffe9 70.62%,#cfff30 71.07%,#cfff30 71.58%,#ddff22 72.02%,#ddff22 72.53%,#45ffba 72.98%,#45ffba 73.49%,#12f1f2 73.93%,#12f1f2 74.44%,#12f6f2 74.89%,#12f6f2 75.40%,#20ffdf 75.84%,#20ffdf 76.35%,#12daf2 76.80%,#12daf2 77.31%,#1282f2 77.75%,#1282f2 78.26%,#127bf2 78.71%,#127bf2 79.22%,#1279f2 79.66%,#1279f2 80.17%,#1285f2 80.62%,#1285f2 81.13%,#127cf2 81.57%,#127cf2 82.08%,#1296f2 82.53%,#1296f2 83.04%,#128df2 83.48%,#128df2 83.99%,#1279f2 84.44%,#1279f2 84.94%,#1289f2 85.39%,#1289f2 85.90%,#1280f2 86.35%,#1280f2 86.85%,#1291f2 87.30%,#1291f2 87.81%,#128cf2 88.25%,#128cf2 88.76%,#1279f2 89.21%,#1279f2 89.72%,#127ff2 90.16%,#127ff2 90.67%,#1275f2 91.12%,#1275f2 91.63%,#1276f2 92.07%,#1276f2 92.58%,#1290f2 93.03%,#1290f2 93.54%,#1299f2 93.98%,#1299f2 94.49%,#129ef2 94.94%,#129ef2 95.45%,#1286f2 95.89%,#1286f2 96.40%,#1296f2 96.85%,#1296f2 97.36%,#127ef2 97.80%,#127ef2 98.31%,#128ff2 98.76%,#128ff2 99.27%,#1287f2 99.71%,#1287f2 100.00%)"></div>
<div class="r" style="top:447.16px;height:20.04px;background:linear-gradient(90deg,#127ff2 0.00%,#127ff2 -0.04%,#127df2 0.41%,#127df2 0.92%,#1295f2 1.36%,#1295f2 1.87%,#127cf2 2.32%,#127cf2 2.83%,#126af2 3.27%,#126af2 3.78%,#129bf2 4.23%,#129bf2 4.74%,#12b5f2 5.18%,#12b5f2 5.69%,#2fffd0 6.14%,#2fffd0 6.65%,#30ffcf 7.09%,#30ffcf 7.60%,#12ccf2 8.05%,#12ccf2 8.56%,#127bf2 9.00%,#127bf2 9.51%,#1296f2 9.96%,#1296f2 10.47%,#1275f2 10.91%,#1275f2 11.42%,#1293f2 11.87%,#1293f2 12.38%,#1285f2 12.82%,#1285f2 13.33%,#1292f2 13.78%,#1292f2 14.29%,#1272f2 14.73%,#1272f2 15.24%,#1288f2 15.69%,#1288f2 16.20%,#126ef2 16.64%,#126ef2 17.15%,#1275f2 17.60%,#1275f2 18.11%,#1292f2 18.55%,#1292f2 19.06%,#12aff2 19.51%,#12aff2 20.01%,#12eff2 20.46%,#12eff2 20.97%,#12b5f2 21.41%,#12b5f2 21.92%,#1286f2 22.37%,#1286f2 22.88%,#127df2 23.32%,#127df2 23.83%,#126ff2 24.28%,#126ff2 24.79%,#128ff2 25.23%,#128ff2 25.74%,#1293f2 26.19%,#1293f2 26.70%,#1283f2 27.14%,#1283f2 27.65%,#127ff2 28.10%,#127ff2 28.61%,#1279f2 29.05%,#1279f2 29.56%,#1283f2 30.01%,#1283f2 30.52%,#127cf2 30.96%,#127cf2 31.47%,#1278f2 31.92%,#1278f2 32.43%,#1286f2 32.87%,#1286f2 33.38%,#128ef2 33.83%,#128ef2 34.34%,#1291f2 34.78%,#1291f2 35.29%,#129ef2 35.74%,#129ef2 36.25%,#12f2f2 36.69%,#12f2f2 37.20%,#7bff84 37.65%,#7bff84 38.16%,#64ff9b 38.60%,#64ff9b 39.11%,#12f7f2 39.56%,#12f7f2 40.07%,#1292f2 40.51%,#1292f2 41.02%,#1274f2 41.47%,#1274f2 41.98%,#127bf2 42.42%,#127bf2 42.93%,#1281f2 43.38%,#1281f2 43.89%,#127af2 44.33%,#127af2 44.84%,#128cf2 45.29%,#128cf2 45.80%,#1275f2 46.24%,#1275f2 46.75%,#128ef2 47.20%,#128ef2 47.71%,#128bf2 48.15%,#128bf2 48.66%,#1294f2 49.11%,#1294f2 49.62%,#1270f2 50.06%,#1270f2 50.57%,#127df2 51.02%,#127df2 51.53%,#1283f2 51.97%,#1283f2 52.48%,#127af2 52.93%,#127af2 53.43%,#1288f2 53.88%,#1288f2 54.39%,#126df2 54.83%,#126df2 55.34%,#1274f2 55.79%,#1274f2 56.30%,#127ef2 56.74%,#127ef2 57.25%,#1294f2 57.70%,#1294f2 58.21%,#127df2 58.65%,#127df2 59.16%,#1277f2 59.61%,#1277f2 60.12%,#1279f2 60.56%,#1279f2 61.07%,#128df2 61.52%,#128df2 62.03%,#126cf2 62.47%,#126cf2 62.98%,#127cf2 63.43%,#127cf2 63.94%,#126cf2 64.38%,#126cf2 64.89%,#1270f2 65.34%,#1270f2 65.85%,#128ef2 66.29%,#128ef2 66.80%,#16ffe9 67.25%,#16ffe9 67.76%,#8dff72 68.20%,#8dff72 68.71%,#42ffbd 69.16%,#42ffbd 69.67%,#12fbf2 70.11%,#12fbf2 70.62%,#12e4f2 71.07%,#12e4f2 71.58%,#12dff2 72.02%,#12dff2 72.53%,#12c7f2 72.98%,#12c7f2 73.49%,#12fff2 73.93%,#12fff2 74.44%,#12ddf2 74.89%,#12ddf2 75.40%,#12a2f2 75.84%,#12a2f2 76.35%,#1282f2 76.80%,#1282f2 77.31%,#128cf2 77.75%,#128cf2 78.26%,#1270f2 78.71%,#1270f2 79.22%,#127af2 79.66%,#127af2 80.17%,#1281f2 80.62%,#1281f2 81.13%,#1274f2 81.57%,#1274f2 82.08%,#1271f2 82.53%,#1271f2 83.04%,#128af2 83.48%,#128af2 83.99%,#127ef2 84.44%,#127ef2 84.94%,#1280f2 85.39%,#1280f2 85.90%,#1285f2 86.35%,#1285f2 86.85%,#1287f2 87.30%,#1287f2 87.81%,#1293f2 88.25%,#1293f2 88.76%,#1275f2 89.21%,#1275f2 89.72%,#1280f2 90.16%,#1280f2 90.67%,#1283f2 91.12%,#1283f2 91.63%,#1295f2 92.07%,#1295f2 92.58%,#126bf2 93.03%,#126bf2 93.54%,#1283f2 93.98%,#1283f2 94.49%,#128df2 94.94%,#128df2 95.45%,#12c1f2 95.89%,#12c1f2 96.40%,#12e2f2 96.85%,#12e2f2 97.36%,#12fff2 97.80%,#12fff2 98.31%,#12fff2 98.76%,#12fff2 99.27%,#12b8f2 99.71%,#12b8f2 100.00%)"></div>
<div class="r" style="top:466.61px;height:20.04px;background:linear-gradient(90deg,#128cf2 0.00%,#128cf2 -0.04%,#127ff2 0.41%,#127ff2 0.92%,#127bf2 1.36%,#127bf2 1.87%,#1294f2 2.32%,#1294f2 2.83%,#12b7f2 3.27%,#12b7f2 3.78%,#12d8f2 4.23%,#12d8f2 4.74%,#12f0f2 5.18%,#12f0f2 5.69%,#12c1f2 6.14%,#12c1f2 6.65%,#1291f2 7.09%,#1291f2 7.60%,#1289f2 8.05%,#1289f2 8.56%,#127bf2 9.00%,#127bf2 9.51%,#1294f2 9.96%,#1294f2 10.47%,#1289f2 10.91%,#1289f2 11.42%,#1290f2 11.87%,#1290f2 12.38%,#128cf2 12.82%,#128cf2 13.33%,#126ef2 13.78%,#126ef2 14.29%,#1271f2 14.73%,#1271f2 15.24%,#127ef2 15.69%,#127ef2 16.20%,#128af2 16.64%,#128af2 17.15%,#128ef2 17.60%,#128ef2 18.11%,#1279f2 18.55%,#1279f2 19.06%,#1294f2 19.51%,#1294f2 20.01%,#1284f2 20.46%,#1284f2 20.97%,#126bf2 21.41%,#126bf2 21.92%,#126df2 22.37%,#126df2 22.88%,#128bf2 23.32%,#128bf2 23.83%,#126df2 24.28%,#126df2 24.79%,#127af2 25.23%,#127af2 25.74%,#1278f2 26.19%,#1278f2 26.70%,#1290f2 27.14%,#1290f2 27.65%,#127af2 28.10%,#127af2 28.61%,#1277f2 29.05%,#1277f2 29.56%,#1270f2 30.01%,#1270f2 30.52%,#1291f2 30.96%,#1291f2 31.47%,#1276f2 31.92%,#1276f2 32.43%,#1290f2 32.87%,#1290f2 33.38%,#1279f2 33.83%,#1279f2 34.34%,#12fff2 34.78%,#12fff2 35.29%,#64ff9b 35.74%,#64ff9b 36.25%,#12e7f2 36.69%,#12e7f2 37.20%,#1289f2 37.65%,#1289f2 38.16%,#1288f2 38.60%,#1288f2 39.11%,#127cf2 39.56%,#127cf2 40.07%,#126bf2 40.51%,#126bf2 41.02%,#128ef2 41.47%,#128ef2 41.98%,#1291f2 42.42%,#1291f2 42.93%,#1275f2 43.38%,#1275f2 43.89%,#1291f2 44.33%,#1291f2 44.84%,#1271f2 45.29%,#1271f2 45.80%,#1278f2 46.24%,#1278f2 46.75%,#127ef2 47.20%,#127ef2 47.71%,#1284f2 48.15%,#1284f2 48.66%,#1282f2 49.11%,#1282f2 49.62%,#128cf2 50.06%,#128cf2 50.57%,#127cf2 51.02%,#127cf2 51.53%,#1293f2 51.97%,#1293f2 52.48%,#1292f2 52.93%,#1292f2 53.43%,#127af2 53.88%,#127af2 54.39%,#126ef2 54.83%,#126ef2 55.34%,#1284f2 55.79%,#1284f2 56.30%,#1272f2 56.74%,#1272f2 57.25%,#1273f2 57.70%,#1273f2 58.21%,#1288f2 58.65%,#1288f2 59.16%,#1272f2 59.61%,#1272f2 60.12%,#1295f2 60.56%,#1295f2 61.07%,#1286f2 61.52%,#1286f2 62.03%,#127af2 62.47%,#127af2 62.98%,#129ef2 63.43%,#129ef2 63.94%,#12ffee 64.38%,#12ffee 64.89%,#7aff85 65.34%,#7aff85 65.85%,#12ffee 66.29%,#12ffee 66.80%,#129bf2 67.25%,#129bf2 67.76%,#1292f2 68.20%,#1292f2 68.71%,#128ff2 69.16%,#128ff2 69.67%,#129af2 70.11%,#129af2 70.62%,#12bff2 71.07%,#12bff2 71.58%,#12cff2 72.02%,#12cff2 72.53%,#12e0f2 72.98%,#12e0f2 73.49%,#12c2f2 73.93%,#12c2f2 74.44%,#1289f2 74.89%,#1289f2 75.40%,#1281f2 75.84%,#1281f2 76.35%,#126df2 76.80%,#126df2 77.31%,#1290f2 77.75%,#1290f2 78.26%,#128cf2 78.71%,#128cf2 79.22%,#1291f2 79.66%,#1291f2 80.17%,#128df2 80.62%,#128df2 81.13%,#126ef2 81.57%,#126ef2 82.08%,#1274f2 82.53%,#1274f2 83.04%,#1282f2 83.48%,#1282f2 83.99%,#1286f2 84.44%,#1286f2 84.94%,#1286f2 85.39%,#1286f2 85.90%,#1280f2 86.35%,#1280f2 86.85%,#127ff2 87.30%,#127ff2 87.81%,#1270f2 88.25%,#1270f2 88.76%,#1274f2 89.21%,#1274f2 89.72%,#127ef2 90.16%,#127ef2 90.67%,#1288f2 91.12%,#1288f2 91.63%,#12c6f2 92.07%,#12c6f2 92.58%,#12dcf2 93.03%,#12dcf2 93.54%,#12d9f2 93.98%,#12d9f2 94.49%,#12a5f2 94.94%,#12a5f2 95.45%,#1278f2 95.89%,#1278f2 96.40%,#1292f2 96.85%,#1292f2 97.36%,#1279f2 97.80%,#1279f2 98.31%,#1282f2 98.76%,#1282f2 99.27%,#1270f2 99.71%,#1270f2 100.00%)"></div>
<div class="r" style="top:486.05px;height:20.04px;background:linear-gradient(90deg,#127df2 0.00%,#127df2 -0.04%,#1276f2 0.41%,#1276f2 0.92%,#1283f2 1.36%,#1283f2 1.87%,#127ef2 2.32%,#127ef2 2.83%,#1291f2 3.27%,#1291f2 3.78%,#1285f2 4.23%,#1285f2 4.74%,#1282f2 5.18%,#1282f2 5.69%,#129bf2 6.14%,#129bf2 6.65%,#127af2 7.09%,#127af2 7.60%,#1281f2 8.05%,#1281f2 8.56%,#1277f2 9.00%,#1277f2 9.51%,#1278f2 9.96%,#1278f2 10.47%,#128cf2 10.91%,#128cf2 11.42%,#127df2 11.87%,#127df2 12.38%,#128cf2 12.82%,#128cf2 13.33%,#1281f2 13.78%,#1281f2 14.29%,#1292f2 14.73%,#1292f2 15.24%,#1279f2 15.69%,#1279f2 16.20%,#128af2 16.64%,#128af2 17.15%,#1274f2 17.60%,#1274f2 18.11%,#1280f2 18.55%,#1280f2 19.06%,#1276f2 19.51%,#1276f2 20.01%,#1283f2 20.46%,#1283f2 20.97%,#1292f2 21.41%,#1292f2 21.92%,#1282f2 22.37%,#1282f2 22.88%,#1286f2 23.32%,#1286f2 23.83%,#1293f2 24.28%,#1293f2 24.79%,#1291f2 25.23%,#1291f2 25.74%,#1295f2 26.19%,#1295f2 26.70%,#1291f2 27.14%,#1291f2 27.65%,#1276f2 28.10%,#1276f2 28.61%,#1285f2 29.05%,#1285f2 29.56%,#12a5f2 30.01%,#12a5f2 30.52%,#12acf2 30.96%,#12acf2 31.47%,#12f2f2 31.92%,#12f2f2 32.43%,#129ff2 32.87%,#129ff2 33.38%,#1276f2 33.83%,#1276f2 34.34%,#1294f2 34.78%,#1294f2 35.29%,#1294f2 35.74%,#1294f2 36.25%,#1282f2 36.69%,#1282f2 37.20%,#128ef2 37.65%,#128ef2 38.16%,#127ff2 38.60%,#127ff2 39.11%,#127ff2 39.56%,#127ff2 40.07%,#127ef2 40.51%,#127ef2 41.02%,#1292f2 41.47%,#1292f2 41.98%,#1297f2 42.42%,#1297f2 42.93%,#128df2 43.38%,#128df2 43.89%,#1275f2 44.33%,#1275f2 44.84%,#127ff2 45.29%,#127ff2 45.80%,#129ef2 46.24%,#129ef2 46.75%,#127df2 47.20%,#127df2 47.71%,#129af2 48.15%,#129af2 48.66%,#1275f2 49.11%,#1275f2 49.62%,#1278f2 50.06%,#1278f2 50.57%,#1296f2 51.02%,#1296f2 51.53%,#128ff2 51.97%,#128ff2 52.48%,#1293f2 52.93%,#1293f2 53.43%,#128ef2 53.88%,#128ef2 54.39%,#1299f2 54.83%,#1299f2 55.34%,#129af2 55.79%,#129af2 56.30%,#1288f2 56.74%,#1288f2 57.25%,#127cf2 57.70%,#127cf2 58.21%,#127af2 58.65%,#127af2 59.16%,#1290f2 59.61%,#1290f2 60.12%,#12b2f2 60.56%,#12b2f2 61.07%,#12f0f2 61.52%,#12f0f2 62.03%,#12a3f2 62.47%,#12a3f2 62.98%,#127bf2 63.43%,#127bf2 63.94%,#129cf2 64.38%,#129cf2 64.89%,#129ef2 65.34%,#129ef2 65.85%,#1278f2 66.29%,#1278f2 66.80%,#1295f2 67.25%,#1295f2 67.76%,#128df2 68.20%,#128df2 68.71%,#1284f2 69.16%,#1284f2 69.67%,#1290f2 70.11%,#1290f2 70.62%,#128ff2 71.07%,#128ff2 71.58%,#1297f2 72.02%,#1297f2 72.53%,#1298f2 72.98%,#1298f2 73.49%,#1286f2 73.93%,#1286f2 74.44%,#128bf2 74.89%,#128bf2 75.40%,#129ff2 75.84%,#129ff2 76.35%,#127bf2 76.80%,#127bf2 77.31%,#127cf2 77.75%,#127cf2 78.26%,#1289f2 78.71%,#1289f2 79.22%,#127bf2 79.66%,#127bf2 80.17%,#127bf2 80.62%,#127bf2 81.13%,#1279f2 81.57%,#1279f2 82.08%,#1298f2 82.53%,#1298f2 83.04%,#129af2 83.48%,#129af2 83.99%,#1295f2 84.44%,#1295f2 84.94%,#129cf2 85.39%,#129cf2 85.90%,#1284f2 86.35%,#1284f2 86.85%,#1286f2 87.30%,#1286f2 87.81%,#12c6f2 88.25%,#12c6f2 88.76%,#12d7f2 89.21%,#12d7f2 89.72%,#12b4f2 90.16%,#12b4f2 90.67%,#129af2 91.12%,#129af2 91.63%,#12a2f2 92.07%,#12a2f2 92.58%,#1299f2 93.03%,#1299f2 93.54%,#1283f2 93.98%,#1283f2 94.49%,#1297f2 94.94%,#1297f2 95.45%,#127bf2 95.89%,#127bf2 96.40%,#129cf2 96.85%,#129cf2 97.36%,#128ef2 97.80%,#128ef2 98.31%,#127af2 98.76%,#127af2 99.27%,#128cf2 99.71%,#128cf2 100.00%)"></div>
<div class="r" style="top:505.49px;height:20.04px;background:linear-gradient(90deg,#1275f2 0.00%,#1275f2 -0.04%,#1289f2 0.41%,#1289f2 0.92%,#1285f2 1.36%,#1285f2 1.87%,#127ff2 2.32%,#127ff2 2.83%,#128df2 3.27%,#128df2 3.78%,#1286f2 4.23%,#1286f2 4.74%,#1293f2 5.18%,#1293f2 5.69%,#1282f2 6.14%,#1282f2 6.65%,#128bf2 7.09%,#128bf2 7.60%,#128bf2 8.05%,#128bf2 8.56%,#1278f2 9.00%,#1278f2 9.51%,#128ff2 9.96%,#128ff2 10.47%,#1281f2 10.91%,#1281f2 11.42%,#129bf2 11.87%,#129bf2 12.38%,#1293f2 12.82%,#1293f2 13.33%,#1293f2 13.78%,#1293f2 14.29%,#1297f2 14.73%,#1297f2 15.24%,#1274f2 15.69%,#1274f2 16.20%,#1274f2 16.64%,#1274f2 17.15%,#1291f2 17.60%,#1291f2 18.11%,#129af2 18.55%,#129af2 19.06%,#1288f2 19.51%,#1288f2 20.01%,#129af2 20.46%,#129af2 20.97%,#127cf2 21.41%,#127cf2 21.92%,#1288f2 22.37%,#1288f2 22.88%,#1281f2 23.32%,#1281f2 23.83%,#12b5f2 24.28%,#12b5f2 24.79%,#12cbf2 25.23%,#12cbf2 25.74%,#12b5f2 26.19%,#12b5f2 26.70%,#1295f2 27.14%,#1295f2 27.65%,#1287f2 28.10%,#1287f2 28.61%,#1280f2 29.05%,#1280f2 29.56%,#1285f2 30.01%,#1285f2 30.52%,#1289f2 30.96%,#1289f2 31.47%,#1278f2 31.92%,#1278f2 32.43%,#1289f2 32.87%,#1289f2 33.38%,#1281f2 33.83%,#1281f2 34.34%,#1294f2 34.78%,#1294f2 35.29%,#1280f2 35.74%,#1280f2 36.25%,#1278f2 36.69%,#1278f2 37.20%,#128df2 37.65%,#128df2 38.16%,#1286f2 38.60%,#1286f2 39.11%,#129ff2 39.56%,#129ff2 40.07%,#1276f2 40.51%,#1276f2 41.02%,#128ef2 41.47%,#128ef2 41.98%,#1296f2 42.42%,#1296f2 42.93%,#127bf2 43.38%,#127bf2 43.89%,#1287f2 44.33%,#1287f2 44.84%,#1278f2 45.29%,#1278f2 45.80%,#1292f2 46.24%,#1292f2 46.75%,#1276f2 47.20%,#1276f2 47.71%,#1296f2 48.15%,#1296f2 48.66%,#128bf2 49.11%,#128bf2 49.62%,#127ff2 50.06%,#127ff2 50.57%,#1281f2 51.02%,#1281f2 51.53%,#129df2 51.97%,#129df2 52.48%,#1276f2 52.93%,#1276f2 53.43%,#127ef2 53.88%,#127ef2 54.39%,#1291f2 54.83%,#1291f2 55.34%,#1278f2 55.79%,#1278f2 56.30%,#1276f2 56.74%,#1276f2 57.25%,#128df2 57.70%,#128df2 58.21%,#128df2 58.65%,#128df2 59.16%,#1277f2 59.61%,#1277f2 60.12%,#127ff2 60.56%,#127ff2 61.07%,#1293f2 61.52%,#1293f2 62.03%,#127cf2 62.47%,#127cf2 62.98%,#1282f2 63.43%,#1282f2 63.94%,#127ef2 64.38%,#127ef2 64.89%,#1278f2 65.34%,#1278f2 65.85%,#1289f2 66.29%,#1289f2 66.80%,#1278f2 67.25%,#1278f2 67.76%,#1286f2 68.20%,#1286f2 68.71%,#127ff2 69.16%,#127ff2 69.67%,#1294f2 70.11%,#1294f2 70.62%,#1277f2 71.07%,#1277f2 71.58%,#129ff2 72.02%,#129ff2 72.53%,#1280f2 72.98%,#1280f2 73.49%,#1284f2 73.93%,#1284f2 74.44%,#129bf2 74.89%,#129bf2 75.40%,#129df2 75.84%,#129df2 76.35%,#1281f2 76.80%,#1281f2 77.31%,#1287f2 77.75%,#1287f2 78.26%,#1289f2 78.71%,#1289f2 79.22%,#129bf2 79.66%,#129bf2 80.17%,#127af2 80.62%,#127af2 81.13%,#1294f2 81.57%,#1294f2 82.08%,#1298f2 82.53%,#1298f2 83.04%,#1284f2 83.48%,#1284f2 83.99%,#128ff2 84.44%,#128ff2 84.94%,#129af2 85.39%,#129af2 85.90%,#129df2 86.35%,#129df2 86.85%,#1283f2 87.30%,#1283f2 87.81%,#1284f2 88.25%,#1284f2 88.76%,#128af2 89.21%,#128af2 89.72%,#1285f2 90.16%,#1285f2 90.67%,#128ef2 91.12%,#128ef2 91.63%,#127df2 92.07%,#127df2 92.58%,#1285f2 93.03%,#1285f2 93.54%,#127bf2 93.98%,#127bf2 94.49%,#127ef2 94.94%,#127ef2 95.45%,#129af2 95.89%,#129af2 96.40%,#129df2 96.85%,#129df2 97.36%,#128bf2 97.80%,#128bf2 98.31%,#1288f2 98.76%,#1288f2 99.27%,#127df2 99.71%,#127df2 100.00%)"></div>
<div class="r" style="top:524.93px;height:20.04px;background:linear-gradient(90deg,#126bf2 0.00%,#126bf2 -0.04%,#1291f2 0.41%,#1291f2 0.92%,#1281f2 1.36%,#1281f2 1.87%,#1291f2 2.32%,#1291f2 2.83%,#128ef2 3.27%,#128ef2 3.78%,#127ff2 4.23%,#127ff2 4.74%,#126af2 5.18%,#126af2 5.69%,#1284f2 6.14%,#1284f2 6.65%,#1288f2 7.09%,#1288f2 7.60%,#1290f2 8.05%,#1290f2 8.56%,#1281f2 9.00%,#1281f2 9.51%,#126bf2 9.96%,#126bf2 10.47%,#128ef2 10.91%,#128ef2 11.42%,#126cf2 11.87%,#126cf2 12.38%,#1283f2 12.82%,#1283f2 13.33%,#1283f2 13.78%,#1283f2 14.29%,#128cf2 14.73%,#128cf2 15.24%,#1286f2 15.69%,#1286f2 16.20%,#127af2 16.64%,#127af2 17.15%,#1276f2 17.60%,#1276f2 18.11%,#127ff2 18.55%,#127ff2 19.06%,#126cf2 19.51%,#126cf2 20.01%,#1291f2 20.46%,#1291f2 20.97%,#126ef2 21.41%,#126ef2 21.92%,#1284f2 22.37%,#1284f2 22.88%,#128df2 23.32%,#128df2 23.83%,#126df2 24.28%,#126df2 24.79%,#1281f2 25.23%,#1281f2 25.74%,#1283f2 26.19%,#1283f2 26.70%,#1277f2 27.14%,#1277f2 27.65%,#127df2 28.10%,#127df2 28.61%,#127af2 29.05%,#127af2 29.56%,#127ff2 30.01%,#127ff2 30.52%,#127bf2 30.96%,#127bf2 31.47%,#1283f2 31.92%,#1283f2 32.43%,#126cf2 32.87%,#126cf2 33.38%,#128af2 33.83%,#128af2 34.34%,#1280f2 34.78%,#1280f2 35.29%,#128ff2 35.74%,#128ff2 36.25%,#1271f2 36.69%,#1271f2 37.20%,#1294f2 37.65%,#1294f2 38.16%,#1294f2 38.60%,#1294f2 39.11%,#1281f2 39.56%,#1281f2 40.07%,#1271f2 40.51%,#1271f2 41.02%,#127ef2 41.47%,#127ef2 41.98%,#127df2 42.42%,#127df2 42.93%,#1295f2 43.38%,#1295f2 43.89%,#128cf2 44.33%,#128cf2 44.84%,#127af2 45.29%,#127af2 45.80%,#1290f2 46.24%,#1290f2 46.75%,#1285f2 47.20%,#1285f2 47.71%,#1271f2 48.15%,#1271f2 48.66%,#1290f2 49.11%,#1290f2 49.62%,#128af2 50.06%,#128af2 50.57%,#126cf2 51.02%,#126cf2 51.53%,#1291f2 51.97%,#1291f2 52.48%,#128ff2 52.93%,#128ff2 53.43%,#1293f2 53.88%,#1293f2 54.39%,#1288f2 54.83%,#1288f2 55.34%,#126ef2 55.79%,#126ef2 56.30%,#127ef2 56.74%,#127ef2 57.25%,#1281f2 57.70%,#1281f2 58.21%,#127ef2 58.65%,#127ef2 59.16%,#1286f2 59.61%,#1286f2 60.12%,#126bf2 60.56%,#126bf2 61.07%,#1289f2 61.52%,#1289f2 62.03%,#126bf2 62.47%,#126bf2 62.98%,#127cf2 63.43%,#127cf2 63.94%,#127ff2 64.38%,#127ff2 64.89%,#1270f2 65.34%,#1270f2 65.85%,#1286f2 66.29%,#1286f2 66.80%,#1275f2 67.25%,#1275f2 67.76%,#1278f2 68.20%,#1278f2 68.71%,#127ef2 69.16%,#127ef2 69.67%,#127cf2 70.11%,#127cf2 70.62%,#1284f2 71.07%,#1284f2 71.58%,#126af2 72.02%,#126af2 72.53%,#1292f2 72.98%,#1292f2 73.49%,#1286f2 73.93%,#1286f2 74.44%,#126cf2 74.89%,#126cf2 75.40%,#1280f2 75.84%,#1280f2 76.35%,#1282f2 76.80%,#1282f2 77.31%,#1272f2 77.75%,#1272f2 78.26%,#128cf2 78.71%,#128cf2 79.22%,#127cf2 79.66%,#127cf2 80.17%,#1270f2 80.62%,#1270f2 81.13%,#128bf2 81.57%,#128bf2 82.08%,#128af2 82.53%,#128af2 83.04%,#1272f2 83.48%,#1272f2 83.99%,#1291f2 84.44%,#1291f2 84.94%,#1279f2 85.39%,#1279f2 85.90%,#1273f2 86.35%,#1273f2 86.85%,#1295f2 87.30%,#1295f2 87.81%,#1286f2 88.25%,#1286f2 88.76%,#128cf2 89.21%,#128cf2 89.72%,#1284f2 90.16%,#1284f2 90.67%,#1280f2 91.12%,#1280f2 91.63%,#1285f2 92.07%,#1285f2 92.58%,#1271f2 93.03%,#1271f2 93.54%,#127df2 93.98%,#127df2 94.49%,#127ff2 94.94%,#127ff2 95.45%,#128ef2 95.89%,#128ef2 96.40%,#1274f2 96.85%,#1274f2 97.36%,#127df2 97.80%,#127df2 98.31%,#128df2 98.76%,#128df2 99.27%,#1282f2 99.71%,#1282f2 100.00%)"></div>
<div class="r" style="top:544.37px;height:20.04px;background:linear-gradient(90deg,#1293f2 0.00%,#1293f2 -0.04%,#1290f2 0.41%,#1290f2 0.92%,#1298f2 1.36%,#1298f2 1.87%,#128bf2 2.32%,#128bf2 2.83%,#12a2f2 3.27%,#12a2f2 3.78%,#1293f2 4.23%,#1293f2 4.74%,#1296f2 5.18%,#1296f2 5.69%,#12a0f2 6.14%,#12a0f2 6.65%,#1283f2 7.09%,#1283f2 7.60%,#1286f2 8.05%,#1286f2 8.56%,#129df2 9.00%,#129df2 9.51%,#1299f2 9.96%,#1299f2 10.47%,#12a3f2 10.91%,#12a3f2 11.42%,#12a1f2 11.87%,#12a1f2 12.38%,#12a3f2 12.82%,#12a3f2 13.33%,#1296f2 13.78%,#1296f2 14.29%,#1285f2 14.73%,#1285f2 15.24%,#1286f2 15.69%,#1286f2 16.20%,#128df2 16.64%,#128df2 17.15%,#12a2f2 17.60%,#12a2f2 18.11%,#1285f2 18.55%,#1285f2 19.06%,#1289f2 19.51%,#1289f2 20.01%,#1298f2 20.46%,#1298f2 20.97%,#128af2 21.41%,#128af2 21.92%,#1295f2 22.37%,#1295f2 22.88%,#129cf2 23.32%,#129cf2 23.83%,#129ff2 24.28%,#129ff2 24.79%,#1287f2 25.23%,#1287f2 25.74%,#1290f2 26.19%,#1290f2 26.70%,#1295f2 27.14%,#1295f2 27.65%,#1287f2 28.10%,#1287f2 28.61%,#1289f2 29.05%,#1289f2 29.56%,#1292f2 30.01%,#1292f2 30.52%,#128cf2 30.96%,#128cf2 31.47%,#129cf2 31.92%,#129cf2 32.43%,#129cf2 32.87%,#129cf2 33.38%,#12a5f2 33.83%,#12a5f2 34.34%,#1288f2 34.78%,#1288f2 35.29%,#128cf2 35.74%,#128cf2 36.25%,#1293f2 36.69%,#1293f2 37.20%,#1289f2 37.65%,#1289f2 38.16%,#1284f2 38.60%,#1284f2 39.11%,#12a4f2 39.56%,#12a4f2 40.07%,#1286f2 40.51%,#1286f2 41.02%,#1283f2 41.47%,#1283f2 41.98%,#1286f2 42.42%,#1286f2 42.93%,#129cf2 43.38%,#129cf2 43.89%,#128af2 44.33%,#128af2 44.84%,#128cf2 45.29%,#128cf2 45.80%,#128df2 46.24%,#128df2 46.75%,#1293f2 47.20%,#1293f2 47.71%,#12a2f2 48.15%,#12a2f2 48.66%,#1285f2 49.11%,#1285f2 49.62%,#128bf2 50.06%,#128bf2 50.57%,#1292f2 51.02%,#1292f2 51.53%,#1287f2 51.97%,#1287f2 52.48%,#128df2 52.93%,#128df2 53.43%,#128ff2 53.88%,#128ff2 54.39%,#129cf2 54.83%,#129cf2 55.34%,#1292f2 55.79%,#1292f2 56.30%,#12a4f2 56.74%,#12a4f2 57.25%,#129cf2 57.70%,#129cf2 58.21%,#1285f2 58.65%,#1285f2 59.16%,#12a2f2 59.61%,#12a2f2 60.12%,#1287f2 60.56%,#1287f2 61.07%,#12a4f2 61.52%,#12a4f2 62.03%,#12a1f2 62.47%,#12a1f2 62.98%,#129ff2 63.43%,#129ff2 63.94%,#1288f2 64.38%,#1288f2 64.89%,#1296f2 65.34%,#1296f2 65.85%,#1292f2 66.29%,#1292f2 66.80%,#129af2 67.25%,#129af2 67.76%,#12a4f2 68.20%,#12a4f2 68.71%,#1299f2 69.16%,#1299f2 69.67%,#12a3f2 70.11%,#12a3f2 70.62%,#1283f2 71.07%,#1283f2 71.58%,#1287f2 72.02%,#1287f2 72.53%,#128ef2 72.98%,#128ef2 73.49%,#12a2f2 73.93%,#12a2f2 74.44%,#128df2 74.89%,#128df2 75.40%,#1287f2 75.84%,#1287f2 76.35%,#12a1f2 76.80%,#12a1f2 77.31%,#129ff2 77.75%,#129ff2 78.26%,#128bf2 78.71%,#128bf2 79.22%,#12a2f2 79.66%,#12a2f2 80.17%,#1293f2 80.62%,#1293f2 81.13%,#12a3f2 81.57%,#12a3f2 82.08%,#128af2 82.53%,#128af2 83.04%,#1298f2 83.48%,#1298f2 83.99%,#128ef2 84.44%,#128ef2 84.94%,#129ff2 85.39%,#129ff2 85.90%,#1296f2 86.35%,#1296f2 86.85%,#12a2f2 87.30%,#12a2f2 87.81%,#128cf2 88.25%,#128cf2 88.76%,#12a0f2 89.21%,#12a0f2 89.72%,#129ff2 90.16%,#129ff2 90.67%,#129cf2 91.12%,#129cf2 91.63%,#1285f2 92.07%,#1285f2 92.58%,#1298f2 93.03%,#1298f2 93.54%,#128cf2 93.98%,#128cf2 94.49%,#1296f2 94.94%,#1296f2 95.45%,#1292f2 95.89%,#1292f2 96.40%,#1285f2 96.85%,#1285f2 97.36%,#1294f2 97.80%,#1294f2 98.31%,#1287f2 98.76%,#1287f2 99.27%,#1283f2 99.71%,#1283f2 100.00%)"></div>
<div class="r" style="top:563.82px;height:20.04px;background:linear-gradient(90deg,#12b6f2 0.00%,#12b6f2 -0.04%,#12baf2 0.41%,#12baf2 0.92%,#12b3f2 1.36%,#12b3f2 1.87%,#12bbf2 2.32%,#12bbf2 2.83%,#12b5f2 3.27%,#12b5f2 3.78%,#12bff2 4.23%,#12bff2 4.74%,#12bdf2 5.18%,#12bdf2 5.69%,#12c0f2 6.14%,#12c0f2 6.65%,#12aaf2 7.09%,#12aaf2 7.60%,#12aef2 8.05%,#12aef2 8.56%,#12bef2 9.00%,#12bef2 9.51%,#12c2f2 9.96%,#12c2f2 10.47%,#12abf2 10.91%,#12abf2 11.42%,#12abf2 11.87%,#12abf2 12.38%,#12b8f2 12.82%,#12b8f2 13.33%,#12b2f2 13.78%,#12b2f2 14.29%,#12b3f2 14.73%,#12b3f2 15.24%,#12c3f2 15.69%,#12c3f2 16.20%,#12c4f2 16.64%,#12c4f2 17.15%,#12c0f2 17.60%,#12c0f2 18.11%,#12a8f2 18.55%,#12a8f2 19.06%,#12b9f2 19.51%,#12b9f2 20.01%,#12c3f2 20.46%,#12c3f2 20.97%,#12c1f2 21.41%,#12c1f2 21.92%,#12a1f2 22.37%,#12a1f2 22.88%,#12a6f2 23.32%,#12a6f2 23.83%,#12c0f2 24.28%,#12c0f2 24.79%,#12b8f2 25.23%,#12b8f2 25.74%,#12b6f2 26.19%,#12b6f2 26.70%,#12adf2 27.14%,#12adf2 27.65%,#12adf2 28.10%,#12adf2 28.61%,#12a6f2 29.05%,#12a6f2 29.56%,#12a6f2 30.01%,#12a6f2 30.52%,#12aaf2 30.96%,#12aaf2 31.47%,#12a4f2 31.92%,#12a4f2 32.43%,#12c3f2 32.87%,#12c3f2 33.38%,#12aef2 33.83%,#12aef2 34.34%,#12bff2 34.78%,#12bff2 35.29%,#12c3f2 35.74%,#12c3f2 36.25%,#12c1f2 36.69%,#12c1f2 37.20%,#12bef2 37.65%,#12bef2 38.16%,#12b8f2 38.60%,#12b8f2 39.11%,#12c0f2 39.56%,#12c0f2 40.07%,#12c0f2 40.51%,#12c0f2 41.02%,#12bff2 41.47%,#12bff2 41.98%,#12aef2 42.42%,#12aef2 42.93%,#12c2f2 43.38%,#12c2f2 43.89%,#12bdf2 44.33%,#12bdf2 44.84%,#12a3f2 45.29%,#12a3f2 45.80%,#12b3f2 46.24%,#12b3f2 46.75%,#12a3f2 47.20%,#12a3f2 47.71%,#12b7f2 48.15%,#12b7f2 48.66%,#12a9f2 49.11%,#12a9f2 49.62%,#12b3f2 50.06%,#12b3f2 50.57%,#12b7f2 51.02%,#12b7f2 51.53%,#12aef2 51.97%,#12aef2 52.48%,#12a3f2 52.93%,#12a3f2 53.43%,#12b4f2 53.88%,#12b4f2 54.39%,#12b0f2 54.83%,#12b0f2 55.34%,#12bcf2 55.79%,#12bcf2 56.30%,#12a4f2 56.74%,#12a4f2 57.25%,#12b1f2 57.70%,#12b1f2 58.21%,#12a3f2 58.65%,#12a3f2 59.16%,#12baf2 59.61%,#12baf2 60.12%,#12aaf2 60.56%,#12aaf2 61.07%,#12a8f2 61.52%,#12a8f2 62.03%,#12c3f2 62.47%,#12c3f2 62.98%,#12a3f2 63.43%,#12a3f2 63.94%,#12c3f2 64.38%,#12c3f2 64.89%,#12a5f2 65.34%,#12a5f2 65.85%,#12b8f2 66.29%,#12b8f2 66.80%,#12c0f2 67.25%,#12c0f2 67.76%,#12a2f2 68.20%,#12a2f2 68.71%,#12b0f2 69.16%,#12b0f2 69.67%,#12a6f2 70.11%,#12a6f2 70.62%,#12b1f2 71.07%,#12b1f2 71.58%,#12a4f2 72.02%,#12a4f2 72.53%,#12aaf2 72.98%,#12aaf2 73.49%,#12b5f2 73.93%,#12b5f2 74.44%,#12adf2 74.89%,#12adf2 75.40%,#12acf2 75.84%,#12acf2 76.35%,#12a4f2 76.80%,#12a4f2 77.31%,#12acf2 77.75%,#12acf2 78.26%,#12c0f2 78.71%,#12c0f2 79.22%,#12a9f2 79.66%,#12a9f2 80.17%,#12bdf2 80.62%,#12bdf2 81.13%,#12b1f2 81.57%,#12b1f2 82.08%,#12aaf2 82.53%,#12aaf2 83.04%,#12a5f2 83.48%,#12a5f2 83.99%,#12bbf2 84.44%,#12bbf2 84.94%,#12abf2 85.39%,#12abf2 85.90%,#12bef2 86.35%,#12bef2 86.85%,#12b1f2 87.30%,#12b1f2 87.81%,#12a9f2 88.25%,#12a9f2 88.76%,#12a9f2 89.21%,#12a9f2 89.72%,#12c4f2 90.16%,#12c4f2 90.67%,#12b8f2 91.12%,#12b8f2 91.63%,#12a9f2 92.07%,#12a9f2 92.58%,#12c1f2 93.03%,#12c1f2 93.54%,#12aaf2 93.98%,#12aaf2 94.49%,#12bdf2 94.94%,#12bdf2 95.45%,#12b0f2 95.89%,#12b0f2 96.40%,#12bef2 96.85%,#12bef2 97.36%,#12b6f2 97.80%,#12b6f2 98.31%,#12a9f2 98.76%,#12a9f2 99.27%,#12aff2 99.71%,#12aff2 100.00%)"></div>
<div class="r" style="top:583.26px;height:20.04px;background:linear-gradient(90deg,#12dcf2 0.00%,#12dcf2 -0.04%,#12c9f2 0.41%,#12c9f2 0.92%,#12cff2 1.36%,#12cff2 1.87%,#12d1f2 2.32%,#12d1f2 2.83%,#12c1f2 3.27%,#12c1f2 3.78%,#12dcf2 4.23%,#12dcf2 4.74%,#12dbf2 5.18%,#12dbf2 5.69%,#12ccf2 6.14%,#12ccf2 6.65%,#12d9f2 7.09%,#12d9f2 7.60%,#12d5f2 8.05%,#12d5f2 8.56%,#12caf2 9.00%,#12caf2 9.51%,#12c0f2 9.96%,#12c0f2 10.47%,#12c1f2 10.91%,#12c1f2 11.42%,#12daf2 11.87%,#12daf2 12.38%,#12c0f2 12.82%,#12c0f2 13.33%,#12bbf2 13.78%,#12bbf2 14.29%,#12d8f2 14.73%,#12d8f2 15.24%,#12c5f2 15.69%,#12c5f2 16.20%,#12d5f2 16.64%,#12d5f2 17.15%,#12c7f2 17.60%,#12c7f2 18.11%,#12d3f2 18.55%,#12d3f2 19.06%,#12caf2 19.51%,#12caf2 20.01%,#12d0f2 20.46%,#12d0f2 20.97%,#12c8f2 21.41%,#12c8f2 21.92%,#12d5f2 22.37%,#12d5f2 22.88%,#12c3f2 23.32%,#12c3f2 23.83%,#12d5f2 24.28%,#12d5f2 24.79%,#12c0f2 25.23%,#12c0f2 25.74%,#12c6f2 26.19%,#12c6f2 26.70%,#12caf2 27.14%,#12caf2 27.65%,#12c7f2 28.10%,#12c7f2 28.61%,#12c0f2 29.05%,#12c0f2 29.56%,#12d6f2 30.01%,#12d6f2 30.52%,#12ddf2 30.96%,#12ddf2 31.47%,#12d5f2 31.92%,#12d5f2 32.43%,#12c0f2 32.87%,#12c0f2 33.38%,#12c8f2 33.83%,#12c8f2 34.34%,#12d7f2 34.78%,#12d7f2 35.29%,#12daf2 35.74%,#12daf2 36.25%,#12bef2 36.69%,#12bef2 37.20%,#12d0f2 37.65%,#12d0f2 38.16%,#12c1f2 38.60%,#12c1f2 39.11%,#12dbf2 39.56%,#12dbf2 40.07%,#12dbf2 40.51%,#12dbf2 41.02%,#12c9f2 41.47%,#12c9f2 41.98%,#12d1f2 42.42%,#12d1f2 42.93%,#12ccf2 43.38%,#12ccf2 43.89%,#12c5f2 44.33%,#12c5f2 44.84%,#12ddf2 45.29%,#12ddf2 45.80%,#12cbf2 46.24%,#12cbf2 46.75%,#12c8f2 47.20%,#12c8f2 47.71%,#12ddf2 48.15%,#12ddf2 48.66%,#12bcf2 49.11%,#12bcf2 49.62%,#12bbf2 50.06%,#12bbf2 50.57%,#12d2f2 51.02%,#12d2f2 51.53%,#12d6f2 51.97%,#12d6f2 52.48%,#12c5f2 52.93%,#12c5f2 53.43%,#12bbf2 53.88%,#12bbf2 54.39%,#12dcf2 54.83%,#12dcf2 55.34%,#12d3f2 55.79%,#12d3f2 56.30%,#12c7f2 56.74%,#12c7f2 57.25%,#12d5f2 57.70%,#12d5f2 58.21%,#12ddf2 58.65%,#12ddf2 59.16%,#12c9f2 59.61%,#12c9f2 60.12%,#12d7f2 60.56%,#12d7f2 61.07%,#12d0f2 61.52%,#12d0f2 62.03%,#12c8f2 62.47%,#12c8f2 62.98%,#12caf2 63.43%,#12caf2 63.94%,#12d4f2 64.38%,#12d4f2 64.89%,#12c1f2 65.34%,#12c1f2 65.85%,#12c1f2 66.29%,#12c1f2 66.80%,#12cff2 67.25%,#12cff2 67.76%,#12d2f2 68.20%,#12d2f2 68.71%,#12d4f2 69.16%,#12d4f2 69.67%,#12dbf2 70.11%,#12dbf2 70.62%,#12c9f2 71.07%,#12c9f2 71.58%,#12c4f2 72.02%,#12c4f2 72.53%,#12d3f2 72.98%,#12d3f2 73.49%,#12cdf2 73.93%,#12cdf2 74.44%,#12bbf2 74.89%,#12bbf2 75.40%,#12bff2 75.84%,#12bff2 76.35%,#12cdf2 76.80%,#12cdf2 77.31%,#12d8f2 77.75%,#12d8f2 78.26%,#12c5f2 78.71%,#12c5f2 79.22%,#12bef2 79.66%,#12bef2 80.17%,#12caf2 80.62%,#12caf2 81.13%,#12ddf2 81.57%,#12ddf2 82.08%,#12bef2 82.53%,#12bef2 83.04%,#12d4f2 83.48%,#12d4f2 83.99%,#12dbf2 84.44%,#12dbf2 84.94%,#12c6f2 85.39%,#12c6f2 85.90%,#12cbf2 86.35%,#12cbf2 86.85%,#12d4f2 87.30%,#12d4f2 87.81%,#12c1f2 88.25%,#12c1f2 88.76%,#12bff2 89.21%,#12bff2 89.72%,#12d7f2 90.16%,#12d7f2 90.67%,#12c7f2 91.12%,#12c7f2 91.63%,#12c7f2 92.07%,#12c7f2 92.58%,#12bdf2 93.03%,#12bdf2 93.54%,#12dbf2 93.98%,#12dbf2 94.49%,#12c7f2 94.94%,#12c7f2 95.45%,#12dcf2 95.89%,#12dcf2 96.40%,#12c2f2 96.85%,#12c2f2 97.36%,#12d4f2 97.80%,#12d4f2 98.31%,#12d3f2 98.76%,#12d3f2 99.27%,#12d8f2 99.71%,#12d8f2 100.00%)"></div>
</div>
<span class="lb" style="left:28.6px;top:80.4px">7</span>
<span class="lb" style="left:147.7px;top:117.9px">8</span>
<span class="lb" style="left:132.7px;top:137.9px">6</span>
<span class="lb" style="left:262.6px;top:137.9px">6</span>
<span class="lb" style="left:397.6px;top:155.9px">7</span>
<span class="lb" style="left:108.2px;top:176.4px">8</span>
<span class="lb" style="left:385.6px;top:176.9px">7</span>
<span class="lb" style="left:97.2px;top:196.9px">8</span>
<span class="lb" style="left:232.7px;top:196.4px">6</span>
<span class="lb" style="left:374.6px;top:196.3px">7</span>
<span class="lb" style="left:77.7px;top:216.2px">5</span>
<span class="lb" style="left:86.8px;top:216.2px">8</span>
<span class="lb" style="left:224.2px;top:216.2px">6</span>
<span class="lb" style="left:333.1px;top:216.5px">4</span>
<span class="lb" style="left:365.0px;top:216.2px">7</span>
<span class="lb" style="left:71.3px;top:235.7px">5</span>
<span class="lb" style="left:77.1px;top:235.7px">8</span>
<span class="lb" style="left:216.7px;top:235.5px">6</span>
<span class="lb" style="left:328.2px;top:235.3px">4</span>
<span class="lb" style="left:356.2px;top:235.0px">7</span>
<span class="lb" style="left:68.2px;top:254.7px">5</span>
<span class="lb" style="left:68.2px;top:254.7px">8</span>
<span class="lb" style="left:210.3px;top:254.2px">6</span>
<span class="lb" style="left:323.6px;top:254.2px">4</span>
<span class="lb" style="left:347.6px;top:254.2px">7</span>
<span class="lb" style="left:62.5px;top:274.9px">5</span>
<span class="lb" style="left:63.1px;top:274.9px">8</span>
<span class="lb" style="left:205.3px;top:274.4px">6</span>
<span class="lb" style="left:321.6px;top:274.4px">4</span>
<span class="lb" style="left:342.1px;top:274.4px">7</span>
<span class="lb" style="left:52.6px;top:293.9px">8</span>
<span class="lb" style="left:200.2px;top:293.9px">6</span>
<span class="lb" style="left:317.3px;top:293.9px">4</span>
<span class="lb" style="left:334.9px;top:293.9px">7</span>
<span class="lb" style="left:43.6px;top:313.2px">8</span>
<span class="lb" style="left:54.6px;top:313.2px">5</span>
<span class="lb" style="left:194.0px;top:313.2px">6</span>
<span class="lb" style="left:314.6px;top:313.2px">4</span>
<span class="lb" style="left:327.6px;top:313.2px">7</span>
<span class="lb" style="left:35.6px;top:332.5px">8</span>
<span class="lb" style="left:50.6px;top:332.5px">5</span>
<span class="lb" style="left:188.3px;top:332.5px">6</span>
<span class="lb" style="left:311.6px;top:332.5px">4</span>
<span class="lb" style="left:320.6px;top:332.5px">7</span>
<span class="lb" style="left:30.6px;top:352.6px">8</span>
<span class="lb" style="left:50.6px;top:351.5px">5</span>
<span class="lb" style="left:184.7px;top:351.5px">6</span>
<span class="lb" style="left:310.1px;top:351.9px">4</span>
<span class="lb" style="left:313.6px;top:351.9px">7</span>
<span class="lb" style="left:25.6px;top:371.4px">8</span>
<span class="lb" style="left:50.1px;top:371.4px">5</span>
<span class="lb" style="left:182.7px;top:371.4px">6</span>
<span class="lb" style="left:311.6px;top:371.4px">7</span>
<span class="lb" style="left:310.6px;top:371.4px">4</span>
<span class="lb" style="left:16.8px;top:391.7px">8</span>
<span class="lb" style="left:46.6px;top:390.9px">5</span>
<span class="lb" style="left:180.7px;top:390.9px">6</span>
<span class="lb" style="left:307.6px;top:390.9px">7</span>
<span class="lb" style="left:313.6px;top:390.9px">4</span>
<span class="lb" style="left:3.6px;top:410.2px">8</span>
<span class="lb" style="left:40.6px;top:410.2px">5</span>
<span class="lb" style="left:173.7px;top:410.2px">6</span>
<span class="lb" style="left:298.6px;top:410.2px">7</span>
<span class="lb" style="left:310.6px;top:410.2px">4</span>
<span class="lb" style="left:32.1px;top:429.5px">5</span>
<span class="lb" style="left:162.7px;top:429.5px">6</span>
<span class="lb" style="left:287.6px;top:429.5px">7</span>
<span class="lb" style="left:25.6px;top:449.2px">6</span>
<span class="lb" style="left:152.7px;top:449.2px">6</span>
<span class="lb" style="left:275.1px;top:449.2px">7</span>
<span class="lb" style="left:298.6px;top:449.2px">4</span>
<span class="lb" style="left:392.6px;top:449.2px">6</span>
<span class="lb" style="left:17.6px;top:468.4px">5</span>
<span class="lb" style="left:262.6px;top:468.4px">7</span>
<span class="lb" style="left:377.6px;top:468.4px">8</span>
</div>
<div id="frame"></div>
<div class="tk" style="left:135.75px;top:650.33px;width:4px;height:1px"></div>
<div class="tk" style="left:536.00px;top:650.33px;width:4px;height:1px"></div>
<div class="tk" style="left:135.75px;top:635.90px;width:8px;height:1px"></div>
<div class="tk" style="left:532.00px;top:635.90px;width:8px;height:1px"></div>
<div class="tk" style="left:135.75px;top:621.47px;width:4px;height:1px"></div>
<div class="tk" style="left:536.00px;top:621.47px;width:4px;height:1px"></div>
<div class="tk" style="left:135.75px;top:607.04px;width:4px;height:1px"></div>
<div class="tk" style="left:536.00px;top:607.04px;width:4px;height:1px"></div>
<div class="tk" style="left:135.75px;top:592.61px;width:4px;height:1px"></div>
<div class="tk" style="left:536.00px;top:592.61px;width:4px;height:1px"></div>
<div class="tk" style="left:135.75px;top:578.18px;width:4px;height:1px"></div>
<div class="tk" style="left:536.00px;top:578.18px;width:4px;height:1px"></div>
<div class="tk" style="left:135.75px;top:563.75px;width:4px;height:1px"></div>
<div class="tk" style="left:536.00px;top:563.75px;width:4px;height:1px"></div>
<div class="tk" style="left:135.75px;top:549.32px;width:4px;height:1px"></div>
<div class="tk" style="left:536.00px;top:549.32px;width:4px;height:1px"></div>
<div class="tk" style="left:135.75px;top:534.89px;width:4px;height:1px"></div>
<div class="tk" style="left:536.00px;top:534.89px;width:4px;height:1px"></div>
<div class="tk" style="left:135.75px;top:520.46px;width:4px;height:1px"></div>
<div class="tk" style="left:536.00px;top:520.46px;width:4px;height:1px"></div>
<div class="tk" style="left:135.75px;top:506.03px;width:4px;height:1px"></div>
<div class="tk" style="left:536.00px;top:506.03px;width:4px;height:1px"></div>
<div class="tk" style="left:135.75px;top:491.60px;width:8px;height:1px"></div>
<div class="tk" style="left:532.00px;top:491.60px;width:8px;height:1px"></div>
<div class="tk" style="left:135.75px;top:477.17px;width:4px;height:1px"></div>
<div class="tk" style="left:536.00px;top:477.17px;width:4px;height:1px"></div>
<div class="tk" style="left:135.75px;top:462.74px;width:4px;height:1px"></div>
<div class="tk" style="left:536.00px;top:462.74px;width:4px;height:1px"></div>
<div class="tk" style="left:135.75px;top:448.31px;width:4px;height:1px"></div>
<div class="tk" style="left:536.00px;top:448.31px;width:4px;height:1px"></div>
<div class="tk" style="left:135.75px;top:433.88px;width:4px;height:1px"></div>
<div class="tk" style="left:536.00px;top:433.88px;width:4px;height:1px"></div>
<div class="tk" style="left:135.75px;top:419.45px;width:4px;height:1px"></div>
<div class="tk" style="left:536.00px;top:419.45px;width:4px;height:1px"></div>
<div class="tk" style="left:135.75px;top:405.02px;width:4px;height:1px"></div>
<div class="tk" style="left:536.00px;top:405.02px;width:4px;height:1px"></div>
<div class="tk" style="left:135.75px;top:390.59px;width:4px;height:1px"></div>
<div class="tk" style="left:536.00px;top:390.59px;width:4px;height:1px"></div>
<div class="tk" style="left:135.75px;top:376.16px;width:4px;height:1px"></div>
<div class="tk" style="left:536.00px;top:376.16px;width:4px;height:1px"></div>
<div class="tk" style="left:135.75px;top:361.73px;width:4px;height:1px"></div>
<div class="tk" style="left:536.00px;top:361.73px;width:4px;height:1px"></div>
<div class="tk" style="left:135.75px;top:347.30px;width:8px;height:1px"></div>
<div class="tk" style="left:532.00px;top:347.30px;width:8px;height:1px"></div>
<div class="tk" style="left:135.75px;top:332.87px;width:4px;height:1px"></div>
<div class="tk" style="left:536.00px;top:332.87px;width:4px;height:1px"></div>
<div class="tk" style="left:135.75px;top:318.44px;width:4px;height:1px"></div>
<div class="tk" style="left:536.00px;top:318.44px;width:4px;height:1px"></div>
<div class="tk" style="left:135.75px;top:304.01px;width:4px;height:1px"></div>
<div class="tk" style="left:536.00px;top:304.01px;width:4px;height:1px"></div>
<div class="tk" style="left:135.75px;top:289.58px;width:4px;height:1px"></div>
<div class="tk" style="left:536.00px;top:289.58px;width:4px;height:1px"></div>
<div class="tk" style="left:135.75px;top:275.15px;width:4px;height:1px"></div>
<div class="tk" style="left:536.00px;top:275.15px;width:4px;height:1px"></div>
<div class="tk" style="left:135.75px;top:260.72px;width:4px;height:1px"></div>
<div class="tk" style="left:536.00px;top:260.72px;width:4px;height:1px"></div>
<div class="tk" style="left:135.75px;top:246.29px;width:4px;height:1px"></div>
<div class="tk" style="left:536.00px;top:246.29px;width:4px;height:1px"></div>
<div class="tk" style="left:135.75px;top:231.86px;width:4px;height:1px"></div>
<div class="tk" style="left:536.00px;top:231.86px;width:4px;height:1px"></div>
<div class="tk" style="left:135.75px;top:217.43px;width:4px;height:1px"></div>
<div class="tk" style="left:536.00px;top:217.43px;width:4px;height:1px"></div>
<div class="tk" style="left:135.75px;top:203.00px;width:8px;height:1px"></div>
<div class="tk" style="left:532.00px;top:203.00px;width:8px;height:1px"></div>
<div class="tk" style="left:135.75px;top:188.57px;width:4px;height:1px"></div>
<div class="tk" style="left:536.00px;top:188.57px;width:4px;height:1px"></div>
<div class="tk" style="left:135.75px;top:174.14px;width:4px;height:1px"></div>
<div class="tk" style="left:536.00px;top:174.14px;width:4px;height:1px"></div>
<div class="tk" style="left:135.75px;top:159.71px;width:4px;height:1px"></div>
<div class="tk" style="left:536.00px;top:159.71px;width:4px;height:1px"></div>
<div class="tk" style="left:135.75px;top:145.28px;width:4px;height:1px"></div>
<div class="tk" style="left:536.00px;top:145.28px;width:4px;height:1px"></div>
<div class="tk" style="left:135.75px;top:130.85px;width:4px;height:1px"></div>
<div class="tk" style="left:536.00px;top:130.85px;width:4px;height:1px"></div>
<div class="tk" style="left:135.75px;top:116.42px;width:4px;height:1px"></div>
<div class="tk" style="left:536.00px;top:116.42px;width:4px;height:1px"></div>
<div class="tk" style="left:135.75px;top:101.99px;width:4px;height:1px"></div>
<div class="tk" style="left:536.00px;top:101.99px;width:4px;height:1px"></div>
<div class="tk" style="left:135.75px;top:87.56px;width:4px;height:1px"></div>
<div class="tk" style="left:536.00px;top:87.56px;width:4px;height:1px"></div>
<div class="tk" style="left:135.75px;top:73.13px;width:4px;height:1px"></div>
<div class="tk" style="left:536.00px;top:73.13px;width:4px;height:1px"></div>
<div class="tk" style="left:135.75px;top:58.70px;width:8px;height:1px"></div>
<div class="tk" style="left:532.00px;top:58.70px;width:8px;height:1px"></div>
<div class="tk" style="left:150.25px;top:52.30px;width:1px;height:6px"></div>
<div class="tk" style="left:150.25px;top:649.00px;width:1px;height:6px"></div>
<div class="tk" style="left:165.25px;top:52.30px;width:1px;height:6px"></div>
<div class="tk" style="left:165.25px;top:649.00px;width:1px;height:6px"></div>
<div class="tk" style="left:180.25px;top:52.30px;width:1px;height:6px"></div>
<div class="tk" style="left:180.25px;top:649.00px;width:1px;height:6px"></div>
<div class="tk" style="left:195.25px;top:52.30px;width:1px;height:13px"></div>
<div class="tk" style="left:195.25px;top:642.00px;width:1px;height:13px"></div>
<div class="tk" style="left:210.25px;top:52.30px;width:1px;height:6px"></div>
<div class="tk" style="left:210.25px;top:649.00px;width:1px;height:6px"></div>
<div class="tk" style="left:225.25px;top:52.30px;width:1px;height:6px"></div>
<div class="tk" style="left:225.25px;top:649.00px;width:1px;height:6px"></div>
<div class="tk" style="left:240.25px;top:52.30px;width:1px;height:6px"></div>
<div class="tk" style="left:240.25px;top:649.00px;width:1px;height:6px"></div>
<div class="tk" style="left:255.25px;top:52.30px;width:1px;height:13px"></div>
<div class="tk" style="left:255.25px;top:642.00px;width:1px;height:13px"></div>
<div class="tk" style="left:270.25px;top:52.30px;width:1px;height:6px"></div>
<div class="tk" style="left:270.25px;top:649.00px;width:1px;height:6px"></div>
<div class="tk" style="left:285.25px;top:52.30px;width:1px;height:6px"></div>
<div class="tk" style="left:285.25px;top:649.00px;width:1px;height:6px"></div>
<div class="tk" style="left:300.25px;top:52.30px;width:1px;height:6px"></div>
<div class="tk" style="left:300.25px;top:649.00px;width:1px;height:6px"></div>
<div class="tk" style="left:315.25px;top:52.30px;width:1px;height:13px"></div>
<div class="tk" style="left:315.25px;top:642.00px;width:1px;height:13px"></div>
<div class="tk" style="left:330.25px;top:52.30px;width:1px;height:6px"></div>
<div class="tk" style="left:330.25px;top:649.00px;width:1px;height:6px"></div>
<div class="tk" style="left:345.25px;top:52.30px;width:1px;height:6px"></div>
<div class="tk" style="left:345.25px;top:649.00px;width:1px;height:6px"></div>
<div class="tk" style="left:360.25px;top:52.30px;width:1px;height:6px"></div>
<div class="tk" style="left:360.25px;top:649.00px;width:1px;height:6px"></div>
<div class="tk" style="left:375.25px;top:52.30px;width:1px;height:13px"></div>
<div class="tk" style="left:375.25px;top:642.00px;width:1px;height:13px"></div>
<div class="tk" style="left:390.25px;top:52.30px;width:1px;height:6px"></div>
<div class="tk" style="left:390.25px;top:649.00px;width:1px;height:6px"></div>
<div class="tk" style="left:405.25px;top:52.30px;width:1px;height:6px"></div>
<div class="tk" style="left:405.25px;top:649.00px;width:1px;height:6px"></div>
<div class="tk" style="left:420.25px;top:52.30px;width:1px;height:6px"></div>
<div class="tk" style="left:420.25px;top:649.00px;width:1px;height:6px"></div>
<div class="tk" style="left:435.25px;top:52.30px;width:1px;height:13px"></div>
<div class="tk" style="left:435.25px;top:642.00px;width:1px;height:13px"></div>
<div class="tk" style="left:450.25px;top:52.30px;width:1px;height:6px"></div>
<div class="tk" style="left:450.25px;top:649.00px;width:1px;height:6px"></div>
<div class="tk" style="left:465.25px;top:52.30px;width:1px;height:6px"></div>
<div class="tk" style="left:465.25px;top:649.00px;width:1px;height:6px"></div>
<div class="tk" style="left:480.25px;top:52.30px;width:1px;height:6px"></div>
<div class="tk" style="left:480.25px;top:649.00px;width:1px;height:6px"></div>
<div class="tk" style="left:495.25px;top:52.30px;width:1px;height:13px"></div>
<div class="tk" style="left:495.25px;top:642.00px;width:1px;height:13px"></div>
<div class="tk" style="left:510.25px;top:52.30px;width:1px;height:6px"></div>
<div class="tk" style="left:510.25px;top:649.00px;width:1px;height:6px"></div>
<div class="tk" style="left:525.25px;top:52.30px;width:1px;height:6px"></div>
<div class="tk" style="left:525.25px;top:649.00px;width:1px;height:6px"></div>
<div class="yl" style="top:629.8px">1000</div>
<div class="yl" style="top:485.5px">2000</div>
<div class="yl" style="top:341.2px">3000</div>
<div class="yl" style="top:196.9px">4000</div>
<div class="yl" style="top:52.6px">5000</div>
<div class="xl" style="left:105.8px">0</div>
<div class="xl" style="left:165.8px">20</div>
<div class="xl" style="left:225.8px">40</div>
<div class="xl" style="left:285.8px">60</div>
<div class="xl" style="left:345.8px">80</div>
<div class="xl" style="left:405.8px">100</div>
<div class="xl" style="left:465.8px">120</div>
<div id="ylab">frequency, <i>&mu;</i>Hz</div>
<div id="xlab">shifted frequency, <i>&mu;</i>Hz</div>
<div id="title">Echelle diagram of MDI Low&minus;<i>l</i> spectrum: <i>l</i>=6 mask</div>
<div id="sub">(frequencies determined from Medium&minus;<i>l</i> data are indicated by &nbsp;<i>l</i> value of the modes)</div>
</body></html>
